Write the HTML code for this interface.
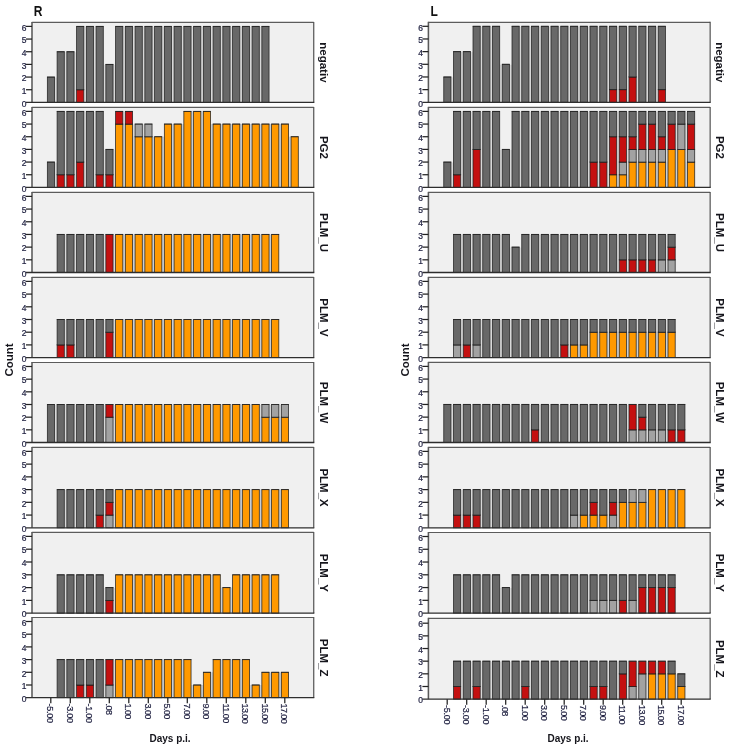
<!DOCTYPE html>
<html lang="en"><head><meta charset="utf-8"><title>Count by Days p.i.</title>
<style>
html,body{margin:0;padding:0;background:#fff;}
body{width:731px;height:750px;overflow:hidden;}
svg{display:block;font-family:"Liberation Sans",sans-serif;filter:blur(0.5px);}
.ttl{font-size:14px;font-weight:bold;fill:#111;}
.yt{font-size:9.4px;fill:#1f2040;stroke:#1f2040;stroke-width:0.25px;text-anchor:end;}
.xt{font-size:9px;fill:#1f2040;stroke:#1f2040;stroke-width:0.2px;text-anchor:start;letter-spacing:-0.55px;}
.fl{font-size:11.5px;font-weight:bold;fill:#15151c;text-anchor:middle;}
.xl{font-size:10px;font-weight:bold;fill:#15151c;}
</style></head><body>
<svg width="731" height="750" viewBox="0 0 731 750">
<rect width="731" height="750" fill="#ffffff"/>
<text transform="translate(33.8,15.5) scale(0.86,1)" class="ttl">R</text>
<g>
<rect x="32" y="22.4" width="281.75" height="80" fill="#F0F0F0"/>
<path d="M31.8 22.4H313.75" stroke="#5c5c5c" stroke-width="1.15" fill="none"/>
<path d="M313.75 21.9V102.4" stroke="#4c4c4c" stroke-width="1.15" fill="none"/>
<path d="M32 21.9V102.4" stroke="#5a5a5a" stroke-width="1.55" fill="none"/>
<rect x="54.65" y="77.57" width="2.35" height="24.83" fill="#a8a8a8" fill-opacity="0.33"/>
<rect x="47.35" y="77.07" width="7.2" height="25.33" fill="#686868" stroke="#1e1e1e" stroke-opacity="0.9" stroke-width="0.8"/>
<line x1="47.05" y1="77.07" x2="54.85" y2="77.07" stroke="#1e1e1e" stroke-width="0.7"/>
<rect x="64.4" y="52.23" width="2.35" height="50.17" fill="#a8a8a8" fill-opacity="0.33"/>
<rect x="57.1" y="51.73" width="7.2" height="50.67" fill="#686868" stroke="#1e1e1e" stroke-opacity="0.9" stroke-width="0.8"/>
<line x1="56.8" y1="51.73" x2="64.6" y2="51.73" stroke="#1e1e1e" stroke-width="0.7"/>
<rect x="74.15" y="52.23" width="2.35" height="50.17" fill="#a8a8a8" fill-opacity="0.33"/>
<rect x="66.85" y="51.73" width="7.2" height="50.67" fill="#686868" stroke="#1e1e1e" stroke-opacity="0.9" stroke-width="0.8"/>
<line x1="66.55" y1="51.73" x2="74.35" y2="51.73" stroke="#1e1e1e" stroke-width="0.7"/>
<rect x="83.9" y="26.9" width="2.35" height="75.5" fill="#a8a8a8" fill-opacity="0.33"/>
<rect x="76.6" y="89.73" width="7.2" height="12.67" fill="#C41010" stroke="#1e1e1e" stroke-opacity="0.9" stroke-width="0.8"/>
<line x1="76.3" y1="89.73" x2="84.1" y2="89.73" stroke="#1e1e1e" stroke-width="0.7"/>
<rect x="76.6" y="26.4" width="7.2" height="63.33" fill="#686868" stroke="#1e1e1e" stroke-opacity="0.9" stroke-width="0.8"/>
<line x1="76.3" y1="26.4" x2="84.1" y2="26.4" stroke="#1e1e1e" stroke-width="0.7"/>
<rect x="93.65" y="26.9" width="2.35" height="75.5" fill="#a8a8a8" fill-opacity="0.33"/>
<rect x="86.35" y="26.4" width="7.2" height="76" fill="#686868" stroke="#1e1e1e" stroke-opacity="0.9" stroke-width="0.8"/>
<line x1="86.05" y1="26.4" x2="93.85" y2="26.4" stroke="#1e1e1e" stroke-width="0.7"/>
<rect x="103.4" y="64.9" width="2.35" height="37.5" fill="#a8a8a8" fill-opacity="0.33"/>
<rect x="96.1" y="26.4" width="7.2" height="76" fill="#686868" stroke="#1e1e1e" stroke-opacity="0.9" stroke-width="0.8"/>
<line x1="95.8" y1="26.4" x2="103.6" y2="26.4" stroke="#1e1e1e" stroke-width="0.7"/>
<rect x="113.15" y="64.9" width="2.35" height="37.5" fill="#a8a8a8" fill-opacity="0.33"/>
<rect x="105.85" y="64.4" width="7.2" height="38" fill="#686868" stroke="#1e1e1e" stroke-opacity="0.9" stroke-width="0.8"/>
<line x1="105.55" y1="64.4" x2="113.35" y2="64.4" stroke="#1e1e1e" stroke-width="0.7"/>
<rect x="122.9" y="26.9" width="2.35" height="75.5" fill="#a8a8a8" fill-opacity="0.33"/>
<rect x="115.6" y="26.4" width="7.2" height="76" fill="#686868" stroke="#1e1e1e" stroke-opacity="0.9" stroke-width="0.8"/>
<line x1="115.3" y1="26.4" x2="123.1" y2="26.4" stroke="#1e1e1e" stroke-width="0.7"/>
<rect x="132.65" y="26.9" width="2.35" height="75.5" fill="#a8a8a8" fill-opacity="0.33"/>
<rect x="125.35" y="26.4" width="7.2" height="76" fill="#686868" stroke="#1e1e1e" stroke-opacity="0.9" stroke-width="0.8"/>
<line x1="125.05" y1="26.4" x2="132.85" y2="26.4" stroke="#1e1e1e" stroke-width="0.7"/>
<rect x="142.4" y="26.9" width="2.35" height="75.5" fill="#a8a8a8" fill-opacity="0.33"/>
<rect x="135.1" y="26.4" width="7.2" height="76" fill="#686868" stroke="#1e1e1e" stroke-opacity="0.9" stroke-width="0.8"/>
<line x1="134.8" y1="26.4" x2="142.6" y2="26.4" stroke="#1e1e1e" stroke-width="0.7"/>
<rect x="152.15" y="26.9" width="2.35" height="75.5" fill="#a8a8a8" fill-opacity="0.33"/>
<rect x="144.85" y="26.4" width="7.2" height="76" fill="#686868" stroke="#1e1e1e" stroke-opacity="0.9" stroke-width="0.8"/>
<line x1="144.55" y1="26.4" x2="152.35" y2="26.4" stroke="#1e1e1e" stroke-width="0.7"/>
<rect x="161.9" y="26.9" width="2.35" height="75.5" fill="#a8a8a8" fill-opacity="0.33"/>
<rect x="154.6" y="26.4" width="7.2" height="76" fill="#686868" stroke="#1e1e1e" stroke-opacity="0.9" stroke-width="0.8"/>
<line x1="154.3" y1="26.4" x2="162.1" y2="26.4" stroke="#1e1e1e" stroke-width="0.7"/>
<rect x="171.65" y="26.9" width="2.35" height="75.5" fill="#a8a8a8" fill-opacity="0.33"/>
<rect x="164.35" y="26.4" width="7.2" height="76" fill="#686868" stroke="#1e1e1e" stroke-opacity="0.9" stroke-width="0.8"/>
<line x1="164.05" y1="26.4" x2="171.85" y2="26.4" stroke="#1e1e1e" stroke-width="0.7"/>
<rect x="181.4" y="26.9" width="2.35" height="75.5" fill="#a8a8a8" fill-opacity="0.33"/>
<rect x="174.1" y="26.4" width="7.2" height="76" fill="#686868" stroke="#1e1e1e" stroke-opacity="0.9" stroke-width="0.8"/>
<line x1="173.8" y1="26.4" x2="181.6" y2="26.4" stroke="#1e1e1e" stroke-width="0.7"/>
<rect x="191.15" y="26.9" width="2.35" height="75.5" fill="#a8a8a8" fill-opacity="0.33"/>
<rect x="183.85" y="26.4" width="7.2" height="76" fill="#686868" stroke="#1e1e1e" stroke-opacity="0.9" stroke-width="0.8"/>
<line x1="183.55" y1="26.4" x2="191.35" y2="26.4" stroke="#1e1e1e" stroke-width="0.7"/>
<rect x="200.9" y="26.9" width="2.35" height="75.5" fill="#a8a8a8" fill-opacity="0.33"/>
<rect x="193.6" y="26.4" width="7.2" height="76" fill="#686868" stroke="#1e1e1e" stroke-opacity="0.9" stroke-width="0.8"/>
<line x1="193.3" y1="26.4" x2="201.1" y2="26.4" stroke="#1e1e1e" stroke-width="0.7"/>
<rect x="210.65" y="26.9" width="2.35" height="75.5" fill="#a8a8a8" fill-opacity="0.33"/>
<rect x="203.35" y="26.4" width="7.2" height="76" fill="#686868" stroke="#1e1e1e" stroke-opacity="0.9" stroke-width="0.8"/>
<line x1="203.05" y1="26.4" x2="210.85" y2="26.4" stroke="#1e1e1e" stroke-width="0.7"/>
<rect x="220.4" y="26.9" width="2.35" height="75.5" fill="#a8a8a8" fill-opacity="0.33"/>
<rect x="213.1" y="26.4" width="7.2" height="76" fill="#686868" stroke="#1e1e1e" stroke-opacity="0.9" stroke-width="0.8"/>
<line x1="212.8" y1="26.4" x2="220.6" y2="26.4" stroke="#1e1e1e" stroke-width="0.7"/>
<rect x="230.15" y="26.9" width="2.35" height="75.5" fill="#a8a8a8" fill-opacity="0.33"/>
<rect x="222.85" y="26.4" width="7.2" height="76" fill="#686868" stroke="#1e1e1e" stroke-opacity="0.9" stroke-width="0.8"/>
<line x1="222.55" y1="26.4" x2="230.35" y2="26.4" stroke="#1e1e1e" stroke-width="0.7"/>
<rect x="239.9" y="26.9" width="2.35" height="75.5" fill="#a8a8a8" fill-opacity="0.33"/>
<rect x="232.6" y="26.4" width="7.2" height="76" fill="#686868" stroke="#1e1e1e" stroke-opacity="0.9" stroke-width="0.8"/>
<line x1="232.3" y1="26.4" x2="240.1" y2="26.4" stroke="#1e1e1e" stroke-width="0.7"/>
<rect x="249.65" y="26.9" width="2.35" height="75.5" fill="#a8a8a8" fill-opacity="0.33"/>
<rect x="242.35" y="26.4" width="7.2" height="76" fill="#686868" stroke="#1e1e1e" stroke-opacity="0.9" stroke-width="0.8"/>
<line x1="242.05" y1="26.4" x2="249.85" y2="26.4" stroke="#1e1e1e" stroke-width="0.7"/>
<rect x="259.4" y="26.9" width="2.35" height="75.5" fill="#a8a8a8" fill-opacity="0.33"/>
<rect x="252.1" y="26.4" width="7.2" height="76" fill="#686868" stroke="#1e1e1e" stroke-opacity="0.9" stroke-width="0.8"/>
<line x1="251.8" y1="26.4" x2="259.6" y2="26.4" stroke="#1e1e1e" stroke-width="0.7"/>
<rect x="261.85" y="26.4" width="7.2" height="76" fill="#686868" stroke="#1e1e1e" stroke-opacity="0.9" stroke-width="0.8"/>
<line x1="261.55" y1="26.4" x2="269.35" y2="26.4" stroke="#1e1e1e" stroke-width="0.7"/>
<line x1="26" y1="102.4" x2="314.3" y2="102.4" stroke="#2e2e2e" stroke-width="1.3"/>
<text transform="translate(26.5,106.6) scale(0.9,1)" class="yt">0</text>
<line x1="26" y1="89.73" x2="32" y2="89.73" stroke="#222" stroke-width="1.25"/>
<text transform="translate(26.5,93.93) scale(0.9,1)" class="yt">1</text>
<line x1="26" y1="77.07" x2="32" y2="77.07" stroke="#222" stroke-width="1.25"/>
<text transform="translate(26.5,81.27) scale(0.9,1)" class="yt">2</text>
<line x1="26" y1="64.4" x2="32" y2="64.4" stroke="#222" stroke-width="1.25"/>
<text transform="translate(26.5,68.6) scale(0.9,1)" class="yt">3</text>
<line x1="26" y1="51.73" x2="32" y2="51.73" stroke="#222" stroke-width="1.25"/>
<text transform="translate(26.5,55.93) scale(0.9,1)" class="yt">4</text>
<line x1="26" y1="39.07" x2="32" y2="39.07" stroke="#222" stroke-width="1.25"/>
<text transform="translate(26.5,43.27) scale(0.9,1)" class="yt">5</text>
<line x1="26" y1="26.4" x2="32" y2="26.4" stroke="#222" stroke-width="1.25"/>
<text transform="translate(26.5,30.6) scale(0.9,1)" class="yt">6</text>
<text transform="translate(320.15,62.4) rotate(90)" class="fl">negativ</text>
</g>
<g>
<rect x="32" y="107.4" width="281.75" height="80" fill="#F0F0F0"/>
<path d="M31.8 107.4H313.75" stroke="#5c5c5c" stroke-width="1.15" fill="none"/>
<path d="M313.75 106.9V187.4" stroke="#4c4c4c" stroke-width="1.15" fill="none"/>
<path d="M32 106.9V187.4" stroke="#5a5a5a" stroke-width="1.55" fill="none"/>
<rect x="54.65" y="162.57" width="2.35" height="24.83" fill="#a8a8a8" fill-opacity="0.33"/>
<rect x="47.35" y="162.07" width="7.2" height="25.33" fill="#686868" stroke="#1e1e1e" stroke-opacity="0.9" stroke-width="0.8"/>
<line x1="47.05" y1="162.07" x2="54.85" y2="162.07" stroke="#1e1e1e" stroke-width="0.7"/>
<rect x="64.4" y="111.9" width="2.35" height="75.5" fill="#a8a8a8" fill-opacity="0.33"/>
<rect x="57.1" y="174.73" width="7.2" height="12.67" fill="#C41010" stroke="#1e1e1e" stroke-opacity="0.9" stroke-width="0.8"/>
<line x1="56.8" y1="174.73" x2="64.6" y2="174.73" stroke="#1e1e1e" stroke-width="0.7"/>
<rect x="57.1" y="111.4" width="7.2" height="63.33" fill="#686868" stroke="#1e1e1e" stroke-opacity="0.9" stroke-width="0.8"/>
<line x1="56.8" y1="111.4" x2="64.6" y2="111.4" stroke="#1e1e1e" stroke-width="0.7"/>
<rect x="74.15" y="111.9" width="2.35" height="75.5" fill="#a8a8a8" fill-opacity="0.33"/>
<rect x="66.85" y="174.73" width="7.2" height="12.67" fill="#C41010" stroke="#1e1e1e" stroke-opacity="0.9" stroke-width="0.8"/>
<line x1="66.55" y1="174.73" x2="74.35" y2="174.73" stroke="#1e1e1e" stroke-width="0.7"/>
<rect x="66.85" y="111.4" width="7.2" height="63.33" fill="#686868" stroke="#1e1e1e" stroke-opacity="0.9" stroke-width="0.8"/>
<line x1="66.55" y1="111.4" x2="74.35" y2="111.4" stroke="#1e1e1e" stroke-width="0.7"/>
<rect x="83.9" y="111.9" width="2.35" height="75.5" fill="#a8a8a8" fill-opacity="0.33"/>
<rect x="76.6" y="162.07" width="7.2" height="25.33" fill="#C41010" stroke="#1e1e1e" stroke-opacity="0.9" stroke-width="0.8"/>
<line x1="76.3" y1="162.07" x2="84.1" y2="162.07" stroke="#1e1e1e" stroke-width="0.7"/>
<rect x="76.6" y="111.4" width="7.2" height="50.67" fill="#686868" stroke="#1e1e1e" stroke-opacity="0.9" stroke-width="0.8"/>
<line x1="76.3" y1="111.4" x2="84.1" y2="111.4" stroke="#1e1e1e" stroke-width="0.7"/>
<rect x="93.65" y="111.9" width="2.35" height="75.5" fill="#a8a8a8" fill-opacity="0.33"/>
<rect x="86.35" y="111.4" width="7.2" height="76" fill="#686868" stroke="#1e1e1e" stroke-opacity="0.9" stroke-width="0.8"/>
<line x1="86.05" y1="111.4" x2="93.85" y2="111.4" stroke="#1e1e1e" stroke-width="0.7"/>
<rect x="103.4" y="149.9" width="2.35" height="37.5" fill="#a8a8a8" fill-opacity="0.33"/>
<rect x="96.1" y="174.73" width="7.2" height="12.67" fill="#C41010" stroke="#1e1e1e" stroke-opacity="0.9" stroke-width="0.8"/>
<line x1="95.8" y1="174.73" x2="103.6" y2="174.73" stroke="#1e1e1e" stroke-width="0.7"/>
<rect x="96.1" y="111.4" width="7.2" height="63.33" fill="#686868" stroke="#1e1e1e" stroke-opacity="0.9" stroke-width="0.8"/>
<line x1="95.8" y1="111.4" x2="103.6" y2="111.4" stroke="#1e1e1e" stroke-width="0.7"/>
<rect x="113.15" y="149.9" width="2.35" height="37.5" fill="#a8a8a8" fill-opacity="0.33"/>
<rect x="105.85" y="174.73" width="7.2" height="12.67" fill="#C41010" stroke="#1e1e1e" stroke-opacity="0.9" stroke-width="0.8"/>
<line x1="105.55" y1="174.73" x2="113.35" y2="174.73" stroke="#1e1e1e" stroke-width="0.7"/>
<rect x="105.85" y="149.4" width="7.2" height="25.33" fill="#686868" stroke="#1e1e1e" stroke-opacity="0.9" stroke-width="0.8"/>
<line x1="105.55" y1="149.4" x2="113.35" y2="149.4" stroke="#1e1e1e" stroke-width="0.7"/>
<rect x="122.9" y="124.07" width="2.35" height="63.33" fill="#9aa6b6" fill-opacity="0.45"/>
<rect x="122.9" y="111.9" width="2.35" height="12.17" fill="#a8a8a8" fill-opacity="0.33"/>
<rect x="115.6" y="124.07" width="7.2" height="63.33" fill="#FF9900" stroke="#1e1e1e" stroke-opacity="0.9" stroke-width="0.8"/>
<line x1="115.3" y1="124.07" x2="123.1" y2="124.07" stroke="#1e1e1e" stroke-width="0.7"/>
<rect x="115.6" y="111.4" width="7.2" height="12.67" fill="#C41010" stroke="#1e1e1e" stroke-opacity="0.9" stroke-width="0.8"/>
<line x1="115.3" y1="111.4" x2="123.1" y2="111.4" stroke="#1e1e1e" stroke-width="0.7"/>
<rect x="132.65" y="136.73" width="2.35" height="50.67" fill="#9aa6b6" fill-opacity="0.45"/>
<rect x="132.65" y="124.57" width="2.35" height="12.17" fill="#a8a8a8" fill-opacity="0.33"/>
<rect x="125.35" y="124.07" width="7.2" height="63.33" fill="#FF9900" stroke="#1e1e1e" stroke-opacity="0.9" stroke-width="0.8"/>
<line x1="125.05" y1="124.07" x2="132.85" y2="124.07" stroke="#1e1e1e" stroke-width="0.7"/>
<rect x="125.35" y="111.4" width="7.2" height="12.67" fill="#C41010" stroke="#1e1e1e" stroke-opacity="0.9" stroke-width="0.8"/>
<line x1="125.05" y1="111.4" x2="132.85" y2="111.4" stroke="#1e1e1e" stroke-width="0.7"/>
<rect x="142.4" y="136.73" width="2.35" height="50.67" fill="#9aa6b6" fill-opacity="0.45"/>
<rect x="142.4" y="124.57" width="2.35" height="12.17" fill="#a8a8a8" fill-opacity="0.33"/>
<rect x="135.1" y="136.73" width="7.2" height="50.67" fill="#FF9900" stroke="#1e1e1e" stroke-opacity="0.9" stroke-width="0.8"/>
<line x1="134.8" y1="136.73" x2="142.6" y2="136.73" stroke="#1e1e1e" stroke-width="0.7"/>
<rect x="135.1" y="124.07" width="7.2" height="12.67" fill="#A2A2A2" stroke="#1e1e1e" stroke-opacity="0.9" stroke-width="0.8"/>
<line x1="134.8" y1="124.07" x2="142.6" y2="124.07" stroke="#1e1e1e" stroke-width="0.7"/>
<rect x="152.15" y="136.73" width="2.35" height="50.67" fill="#9aa6b6" fill-opacity="0.45"/>
<rect x="144.85" y="136.73" width="7.2" height="50.67" fill="#FF9900" stroke="#1e1e1e" stroke-opacity="0.9" stroke-width="0.8"/>
<line x1="144.55" y1="136.73" x2="152.35" y2="136.73" stroke="#1e1e1e" stroke-width="0.7"/>
<rect x="144.85" y="124.07" width="7.2" height="12.67" fill="#A2A2A2" stroke="#1e1e1e" stroke-opacity="0.9" stroke-width="0.8"/>
<line x1="144.55" y1="124.07" x2="152.35" y2="124.07" stroke="#1e1e1e" stroke-width="0.7"/>
<rect x="161.9" y="136.73" width="2.35" height="50.67" fill="#9aa6b6" fill-opacity="0.45"/>
<rect x="154.6" y="136.73" width="7.2" height="50.67" fill="#FF9900" stroke="#1e1e1e" stroke-opacity="0.9" stroke-width="0.8"/>
<line x1="154.3" y1="136.73" x2="162.1" y2="136.73" stroke="#1e1e1e" stroke-width="0.7"/>
<rect x="171.65" y="124.07" width="2.35" height="63.33" fill="#9aa6b6" fill-opacity="0.45"/>
<rect x="164.35" y="124.07" width="7.2" height="63.33" fill="#FF9900" stroke="#1e1e1e" stroke-opacity="0.9" stroke-width="0.8"/>
<line x1="164.05" y1="124.07" x2="171.85" y2="124.07" stroke="#1e1e1e" stroke-width="0.7"/>
<rect x="181.4" y="124.07" width="2.35" height="63.33" fill="#9aa6b6" fill-opacity="0.45"/>
<rect x="174.1" y="124.07" width="7.2" height="63.33" fill="#FF9900" stroke="#1e1e1e" stroke-opacity="0.9" stroke-width="0.8"/>
<line x1="173.8" y1="124.07" x2="181.6" y2="124.07" stroke="#1e1e1e" stroke-width="0.7"/>
<rect x="191.15" y="111.4" width="2.35" height="76" fill="#9aa6b6" fill-opacity="0.45"/>
<rect x="183.85" y="111.4" width="7.2" height="76" fill="#FF9900" stroke="#1e1e1e" stroke-opacity="0.9" stroke-width="0.8"/>
<line x1="183.55" y1="111.4" x2="191.35" y2="111.4" stroke="#1e1e1e" stroke-width="0.7"/>
<rect x="200.9" y="111.4" width="2.35" height="76" fill="#9aa6b6" fill-opacity="0.45"/>
<rect x="193.6" y="111.4" width="7.2" height="76" fill="#FF9900" stroke="#1e1e1e" stroke-opacity="0.9" stroke-width="0.8"/>
<line x1="193.3" y1="111.4" x2="201.1" y2="111.4" stroke="#1e1e1e" stroke-width="0.7"/>
<rect x="210.65" y="124.07" width="2.35" height="63.33" fill="#9aa6b6" fill-opacity="0.45"/>
<rect x="203.35" y="111.4" width="7.2" height="76" fill="#FF9900" stroke="#1e1e1e" stroke-opacity="0.9" stroke-width="0.8"/>
<line x1="203.05" y1="111.4" x2="210.85" y2="111.4" stroke="#1e1e1e" stroke-width="0.7"/>
<rect x="220.4" y="124.07" width="2.35" height="63.33" fill="#9aa6b6" fill-opacity="0.45"/>
<rect x="213.1" y="124.07" width="7.2" height="63.33" fill="#FF9900" stroke="#1e1e1e" stroke-opacity="0.9" stroke-width="0.8"/>
<line x1="212.8" y1="124.07" x2="220.6" y2="124.07" stroke="#1e1e1e" stroke-width="0.7"/>
<rect x="230.15" y="124.07" width="2.35" height="63.33" fill="#9aa6b6" fill-opacity="0.45"/>
<rect x="222.85" y="124.07" width="7.2" height="63.33" fill="#FF9900" stroke="#1e1e1e" stroke-opacity="0.9" stroke-width="0.8"/>
<line x1="222.55" y1="124.07" x2="230.35" y2="124.07" stroke="#1e1e1e" stroke-width="0.7"/>
<rect x="239.9" y="124.07" width="2.35" height="63.33" fill="#9aa6b6" fill-opacity="0.45"/>
<rect x="232.6" y="124.07" width="7.2" height="63.33" fill="#FF9900" stroke="#1e1e1e" stroke-opacity="0.9" stroke-width="0.8"/>
<line x1="232.3" y1="124.07" x2="240.1" y2="124.07" stroke="#1e1e1e" stroke-width="0.7"/>
<rect x="249.65" y="124.07" width="2.35" height="63.33" fill="#9aa6b6" fill-opacity="0.45"/>
<rect x="242.35" y="124.07" width="7.2" height="63.33" fill="#FF9900" stroke="#1e1e1e" stroke-opacity="0.9" stroke-width="0.8"/>
<line x1="242.05" y1="124.07" x2="249.85" y2="124.07" stroke="#1e1e1e" stroke-width="0.7"/>
<rect x="259.4" y="124.07" width="2.35" height="63.33" fill="#9aa6b6" fill-opacity="0.45"/>
<rect x="252.1" y="124.07" width="7.2" height="63.33" fill="#FF9900" stroke="#1e1e1e" stroke-opacity="0.9" stroke-width="0.8"/>
<line x1="251.8" y1="124.07" x2="259.6" y2="124.07" stroke="#1e1e1e" stroke-width="0.7"/>
<rect x="269.15" y="124.07" width="2.35" height="63.33" fill="#9aa6b6" fill-opacity="0.45"/>
<rect x="261.85" y="124.07" width="7.2" height="63.33" fill="#FF9900" stroke="#1e1e1e" stroke-opacity="0.9" stroke-width="0.8"/>
<line x1="261.55" y1="124.07" x2="269.35" y2="124.07" stroke="#1e1e1e" stroke-width="0.7"/>
<rect x="278.9" y="124.07" width="2.35" height="63.33" fill="#9aa6b6" fill-opacity="0.45"/>
<rect x="271.6" y="124.07" width="7.2" height="63.33" fill="#FF9900" stroke="#1e1e1e" stroke-opacity="0.9" stroke-width="0.8"/>
<line x1="271.3" y1="124.07" x2="279.1" y2="124.07" stroke="#1e1e1e" stroke-width="0.7"/>
<rect x="288.65" y="136.73" width="2.35" height="50.67" fill="#9aa6b6" fill-opacity="0.45"/>
<rect x="281.35" y="124.07" width="7.2" height="63.33" fill="#FF9900" stroke="#1e1e1e" stroke-opacity="0.9" stroke-width="0.8"/>
<line x1="281.05" y1="124.07" x2="288.85" y2="124.07" stroke="#1e1e1e" stroke-width="0.7"/>
<rect x="291.1" y="136.73" width="7.2" height="50.67" fill="#FF9900" stroke="#1e1e1e" stroke-opacity="0.9" stroke-width="0.8"/>
<line x1="290.8" y1="136.73" x2="298.6" y2="136.73" stroke="#1e1e1e" stroke-width="0.7"/>
<line x1="26" y1="187.4" x2="314.3" y2="187.4" stroke="#2e2e2e" stroke-width="1.3"/>
<text transform="translate(26.5,191.6) scale(0.9,1)" class="yt">0</text>
<line x1="26" y1="174.73" x2="32" y2="174.73" stroke="#222" stroke-width="1.25"/>
<text transform="translate(26.5,178.93) scale(0.9,1)" class="yt">1</text>
<line x1="26" y1="162.07" x2="32" y2="162.07" stroke="#222" stroke-width="1.25"/>
<text transform="translate(26.5,166.27) scale(0.9,1)" class="yt">2</text>
<line x1="26" y1="149.4" x2="32" y2="149.4" stroke="#222" stroke-width="1.25"/>
<text transform="translate(26.5,153.6) scale(0.9,1)" class="yt">3</text>
<line x1="26" y1="136.73" x2="32" y2="136.73" stroke="#222" stroke-width="1.25"/>
<text transform="translate(26.5,140.93) scale(0.9,1)" class="yt">4</text>
<line x1="26" y1="124.07" x2="32" y2="124.07" stroke="#222" stroke-width="1.25"/>
<text transform="translate(26.5,128.27) scale(0.9,1)" class="yt">5</text>
<line x1="26" y1="111.4" x2="32" y2="111.4" stroke="#222" stroke-width="1.25"/>
<text transform="translate(26.5,115.6) scale(0.9,1)" class="yt">6</text>
<text transform="translate(320.15,147.4) rotate(90)" class="fl">PG2</text>
</g>
<g>
<rect x="32" y="192.4" width="281.75" height="80.1" fill="#F0F0F0"/>
<path d="M31.8 192.4H313.75" stroke="#5c5c5c" stroke-width="1.15" fill="none"/>
<path d="M313.75 191.9V272.5" stroke="#4c4c4c" stroke-width="1.15" fill="none"/>
<path d="M32 191.9V272.5" stroke="#5a5a5a" stroke-width="1.55" fill="none"/>
<rect x="64.4" y="234.95" width="2.35" height="37.55" fill="#a8a8a8" fill-opacity="0.33"/>
<rect x="57.1" y="234.45" width="7.2" height="38.05" fill="#686868" stroke="#1e1e1e" stroke-opacity="0.9" stroke-width="0.8"/>
<line x1="56.8" y1="234.45" x2="64.6" y2="234.45" stroke="#1e1e1e" stroke-width="0.7"/>
<rect x="74.15" y="234.95" width="2.35" height="37.55" fill="#a8a8a8" fill-opacity="0.33"/>
<rect x="66.85" y="234.45" width="7.2" height="38.05" fill="#686868" stroke="#1e1e1e" stroke-opacity="0.9" stroke-width="0.8"/>
<line x1="66.55" y1="234.45" x2="74.35" y2="234.45" stroke="#1e1e1e" stroke-width="0.7"/>
<rect x="83.9" y="234.95" width="2.35" height="37.55" fill="#a8a8a8" fill-opacity="0.33"/>
<rect x="76.6" y="234.45" width="7.2" height="38.05" fill="#686868" stroke="#1e1e1e" stroke-opacity="0.9" stroke-width="0.8"/>
<line x1="76.3" y1="234.45" x2="84.1" y2="234.45" stroke="#1e1e1e" stroke-width="0.7"/>
<rect x="93.65" y="234.95" width="2.35" height="37.55" fill="#a8a8a8" fill-opacity="0.33"/>
<rect x="86.35" y="234.45" width="7.2" height="38.05" fill="#686868" stroke="#1e1e1e" stroke-opacity="0.9" stroke-width="0.8"/>
<line x1="86.05" y1="234.45" x2="93.85" y2="234.45" stroke="#1e1e1e" stroke-width="0.7"/>
<rect x="103.4" y="234.95" width="2.35" height="37.55" fill="#a8a8a8" fill-opacity="0.33"/>
<rect x="96.1" y="234.45" width="7.2" height="38.05" fill="#686868" stroke="#1e1e1e" stroke-opacity="0.9" stroke-width="0.8"/>
<line x1="95.8" y1="234.45" x2="103.6" y2="234.45" stroke="#1e1e1e" stroke-width="0.7"/>
<rect x="113.15" y="234.95" width="2.35" height="37.55" fill="#a8a8a8" fill-opacity="0.33"/>
<rect x="105.85" y="234.45" width="7.2" height="38.05" fill="#C41010" stroke="#1e1e1e" stroke-opacity="0.9" stroke-width="0.8"/>
<line x1="105.55" y1="234.45" x2="113.35" y2="234.45" stroke="#1e1e1e" stroke-width="0.7"/>
<rect x="122.9" y="234.45" width="2.35" height="38.05" fill="#9aa6b6" fill-opacity="0.45"/>
<rect x="115.6" y="234.45" width="7.2" height="38.05" fill="#FF9900" stroke="#1e1e1e" stroke-opacity="0.9" stroke-width="0.8"/>
<line x1="115.3" y1="234.45" x2="123.1" y2="234.45" stroke="#1e1e1e" stroke-width="0.7"/>
<rect x="132.65" y="234.45" width="2.35" height="38.05" fill="#9aa6b6" fill-opacity="0.45"/>
<rect x="125.35" y="234.45" width="7.2" height="38.05" fill="#FF9900" stroke="#1e1e1e" stroke-opacity="0.9" stroke-width="0.8"/>
<line x1="125.05" y1="234.45" x2="132.85" y2="234.45" stroke="#1e1e1e" stroke-width="0.7"/>
<rect x="142.4" y="234.45" width="2.35" height="38.05" fill="#9aa6b6" fill-opacity="0.45"/>
<rect x="135.1" y="234.45" width="7.2" height="38.05" fill="#FF9900" stroke="#1e1e1e" stroke-opacity="0.9" stroke-width="0.8"/>
<line x1="134.8" y1="234.45" x2="142.6" y2="234.45" stroke="#1e1e1e" stroke-width="0.7"/>
<rect x="152.15" y="234.45" width="2.35" height="38.05" fill="#9aa6b6" fill-opacity="0.45"/>
<rect x="144.85" y="234.45" width="7.2" height="38.05" fill="#FF9900" stroke="#1e1e1e" stroke-opacity="0.9" stroke-width="0.8"/>
<line x1="144.55" y1="234.45" x2="152.35" y2="234.45" stroke="#1e1e1e" stroke-width="0.7"/>
<rect x="161.9" y="234.45" width="2.35" height="38.05" fill="#9aa6b6" fill-opacity="0.45"/>
<rect x="154.6" y="234.45" width="7.2" height="38.05" fill="#FF9900" stroke="#1e1e1e" stroke-opacity="0.9" stroke-width="0.8"/>
<line x1="154.3" y1="234.45" x2="162.1" y2="234.45" stroke="#1e1e1e" stroke-width="0.7"/>
<rect x="171.65" y="234.45" width="2.35" height="38.05" fill="#9aa6b6" fill-opacity="0.45"/>
<rect x="164.35" y="234.45" width="7.2" height="38.05" fill="#FF9900" stroke="#1e1e1e" stroke-opacity="0.9" stroke-width="0.8"/>
<line x1="164.05" y1="234.45" x2="171.85" y2="234.45" stroke="#1e1e1e" stroke-width="0.7"/>
<rect x="181.4" y="234.45" width="2.35" height="38.05" fill="#9aa6b6" fill-opacity="0.45"/>
<rect x="174.1" y="234.45" width="7.2" height="38.05" fill="#FF9900" stroke="#1e1e1e" stroke-opacity="0.9" stroke-width="0.8"/>
<line x1="173.8" y1="234.45" x2="181.6" y2="234.45" stroke="#1e1e1e" stroke-width="0.7"/>
<rect x="191.15" y="234.45" width="2.35" height="38.05" fill="#9aa6b6" fill-opacity="0.45"/>
<rect x="183.85" y="234.45" width="7.2" height="38.05" fill="#FF9900" stroke="#1e1e1e" stroke-opacity="0.9" stroke-width="0.8"/>
<line x1="183.55" y1="234.45" x2="191.35" y2="234.45" stroke="#1e1e1e" stroke-width="0.7"/>
<rect x="200.9" y="234.45" width="2.35" height="38.05" fill="#9aa6b6" fill-opacity="0.45"/>
<rect x="193.6" y="234.45" width="7.2" height="38.05" fill="#FF9900" stroke="#1e1e1e" stroke-opacity="0.9" stroke-width="0.8"/>
<line x1="193.3" y1="234.45" x2="201.1" y2="234.45" stroke="#1e1e1e" stroke-width="0.7"/>
<rect x="210.65" y="234.45" width="2.35" height="38.05" fill="#9aa6b6" fill-opacity="0.45"/>
<rect x="203.35" y="234.45" width="7.2" height="38.05" fill="#FF9900" stroke="#1e1e1e" stroke-opacity="0.9" stroke-width="0.8"/>
<line x1="203.05" y1="234.45" x2="210.85" y2="234.45" stroke="#1e1e1e" stroke-width="0.7"/>
<rect x="220.4" y="234.45" width="2.35" height="38.05" fill="#9aa6b6" fill-opacity="0.45"/>
<rect x="213.1" y="234.45" width="7.2" height="38.05" fill="#FF9900" stroke="#1e1e1e" stroke-opacity="0.9" stroke-width="0.8"/>
<line x1="212.8" y1="234.45" x2="220.6" y2="234.45" stroke="#1e1e1e" stroke-width="0.7"/>
<rect x="230.15" y="234.45" width="2.35" height="38.05" fill="#9aa6b6" fill-opacity="0.45"/>
<rect x="222.85" y="234.45" width="7.2" height="38.05" fill="#FF9900" stroke="#1e1e1e" stroke-opacity="0.9" stroke-width="0.8"/>
<line x1="222.55" y1="234.45" x2="230.35" y2="234.45" stroke="#1e1e1e" stroke-width="0.7"/>
<rect x="239.9" y="234.45" width="2.35" height="38.05" fill="#9aa6b6" fill-opacity="0.45"/>
<rect x="232.6" y="234.45" width="7.2" height="38.05" fill="#FF9900" stroke="#1e1e1e" stroke-opacity="0.9" stroke-width="0.8"/>
<line x1="232.3" y1="234.45" x2="240.1" y2="234.45" stroke="#1e1e1e" stroke-width="0.7"/>
<rect x="249.65" y="234.45" width="2.35" height="38.05" fill="#9aa6b6" fill-opacity="0.45"/>
<rect x="242.35" y="234.45" width="7.2" height="38.05" fill="#FF9900" stroke="#1e1e1e" stroke-opacity="0.9" stroke-width="0.8"/>
<line x1="242.05" y1="234.45" x2="249.85" y2="234.45" stroke="#1e1e1e" stroke-width="0.7"/>
<rect x="259.4" y="234.45" width="2.35" height="38.05" fill="#9aa6b6" fill-opacity="0.45"/>
<rect x="252.1" y="234.45" width="7.2" height="38.05" fill="#FF9900" stroke="#1e1e1e" stroke-opacity="0.9" stroke-width="0.8"/>
<line x1="251.8" y1="234.45" x2="259.6" y2="234.45" stroke="#1e1e1e" stroke-width="0.7"/>
<rect x="269.15" y="234.45" width="2.35" height="38.05" fill="#9aa6b6" fill-opacity="0.45"/>
<rect x="261.85" y="234.45" width="7.2" height="38.05" fill="#FF9900" stroke="#1e1e1e" stroke-opacity="0.9" stroke-width="0.8"/>
<line x1="261.55" y1="234.45" x2="269.35" y2="234.45" stroke="#1e1e1e" stroke-width="0.7"/>
<rect x="271.6" y="234.45" width="7.2" height="38.05" fill="#FF9900" stroke="#1e1e1e" stroke-opacity="0.9" stroke-width="0.8"/>
<line x1="271.3" y1="234.45" x2="279.1" y2="234.45" stroke="#1e1e1e" stroke-width="0.7"/>
<line x1="26" y1="272.5" x2="314.3" y2="272.5" stroke="#2e2e2e" stroke-width="1.3"/>
<text transform="translate(26.5,276.7) scale(0.9,1)" class="yt">0</text>
<line x1="26" y1="259.82" x2="32" y2="259.82" stroke="#222" stroke-width="1.25"/>
<text transform="translate(26.5,264.02) scale(0.9,1)" class="yt">1</text>
<line x1="26" y1="247.13" x2="32" y2="247.13" stroke="#222" stroke-width="1.25"/>
<text transform="translate(26.5,251.33) scale(0.9,1)" class="yt">2</text>
<line x1="26" y1="234.45" x2="32" y2="234.45" stroke="#222" stroke-width="1.25"/>
<text transform="translate(26.5,238.65) scale(0.9,1)" class="yt">3</text>
<line x1="26" y1="221.77" x2="32" y2="221.77" stroke="#222" stroke-width="1.25"/>
<text transform="translate(26.5,225.97) scale(0.9,1)" class="yt">4</text>
<line x1="26" y1="209.08" x2="32" y2="209.08" stroke="#222" stroke-width="1.25"/>
<text transform="translate(26.5,213.28) scale(0.9,1)" class="yt">5</text>
<line x1="26" y1="196.4" x2="32" y2="196.4" stroke="#222" stroke-width="1.25"/>
<text transform="translate(26.5,200.6) scale(0.9,1)" class="yt">6</text>
<text transform="translate(320.15,232.45) rotate(90)" class="fl">PLM_U</text>
</g>
<g>
<rect x="32" y="277.4" width="281.75" height="80.2" fill="#F0F0F0"/>
<path d="M31.8 277.4H313.75" stroke="#5c5c5c" stroke-width="1.15" fill="none"/>
<path d="M313.75 276.9V357.6" stroke="#4c4c4c" stroke-width="1.15" fill="none"/>
<path d="M32 276.9V357.6" stroke="#5a5a5a" stroke-width="1.55" fill="none"/>
<rect x="64.4" y="320" width="2.35" height="37.6" fill="#a8a8a8" fill-opacity="0.33"/>
<rect x="57.1" y="344.9" width="7.2" height="12.7" fill="#C41010" stroke="#1e1e1e" stroke-opacity="0.9" stroke-width="0.8"/>
<line x1="56.8" y1="344.9" x2="64.6" y2="344.9" stroke="#1e1e1e" stroke-width="0.7"/>
<rect x="57.1" y="319.5" width="7.2" height="25.4" fill="#686868" stroke="#1e1e1e" stroke-opacity="0.9" stroke-width="0.8"/>
<line x1="56.8" y1="319.5" x2="64.6" y2="319.5" stroke="#1e1e1e" stroke-width="0.7"/>
<rect x="74.15" y="320" width="2.35" height="37.6" fill="#a8a8a8" fill-opacity="0.33"/>
<rect x="66.85" y="344.9" width="7.2" height="12.7" fill="#C41010" stroke="#1e1e1e" stroke-opacity="0.9" stroke-width="0.8"/>
<line x1="66.55" y1="344.9" x2="74.35" y2="344.9" stroke="#1e1e1e" stroke-width="0.7"/>
<rect x="66.85" y="319.5" width="7.2" height="25.4" fill="#686868" stroke="#1e1e1e" stroke-opacity="0.9" stroke-width="0.8"/>
<line x1="66.55" y1="319.5" x2="74.35" y2="319.5" stroke="#1e1e1e" stroke-width="0.7"/>
<rect x="83.9" y="320" width="2.35" height="37.6" fill="#a8a8a8" fill-opacity="0.33"/>
<rect x="76.6" y="319.5" width="7.2" height="38.1" fill="#686868" stroke="#1e1e1e" stroke-opacity="0.9" stroke-width="0.8"/>
<line x1="76.3" y1="319.5" x2="84.1" y2="319.5" stroke="#1e1e1e" stroke-width="0.7"/>
<rect x="93.65" y="320" width="2.35" height="37.6" fill="#a8a8a8" fill-opacity="0.33"/>
<rect x="86.35" y="319.5" width="7.2" height="38.1" fill="#686868" stroke="#1e1e1e" stroke-opacity="0.9" stroke-width="0.8"/>
<line x1="86.05" y1="319.5" x2="93.85" y2="319.5" stroke="#1e1e1e" stroke-width="0.7"/>
<rect x="103.4" y="320" width="2.35" height="37.6" fill="#a8a8a8" fill-opacity="0.33"/>
<rect x="96.1" y="319.5" width="7.2" height="38.1" fill="#686868" stroke="#1e1e1e" stroke-opacity="0.9" stroke-width="0.8"/>
<line x1="95.8" y1="319.5" x2="103.6" y2="319.5" stroke="#1e1e1e" stroke-width="0.7"/>
<rect x="113.15" y="320" width="2.35" height="37.6" fill="#a8a8a8" fill-opacity="0.33"/>
<rect x="105.85" y="332.2" width="7.2" height="25.4" fill="#C41010" stroke="#1e1e1e" stroke-opacity="0.9" stroke-width="0.8"/>
<line x1="105.55" y1="332.2" x2="113.35" y2="332.2" stroke="#1e1e1e" stroke-width="0.7"/>
<rect x="105.85" y="319.5" width="7.2" height="12.7" fill="#686868" stroke="#1e1e1e" stroke-opacity="0.9" stroke-width="0.8"/>
<line x1="105.55" y1="319.5" x2="113.35" y2="319.5" stroke="#1e1e1e" stroke-width="0.7"/>
<rect x="122.9" y="319.5" width="2.35" height="38.1" fill="#9aa6b6" fill-opacity="0.45"/>
<rect x="115.6" y="319.5" width="7.2" height="38.1" fill="#FF9900" stroke="#1e1e1e" stroke-opacity="0.9" stroke-width="0.8"/>
<line x1="115.3" y1="319.5" x2="123.1" y2="319.5" stroke="#1e1e1e" stroke-width="0.7"/>
<rect x="132.65" y="319.5" width="2.35" height="38.1" fill="#9aa6b6" fill-opacity="0.45"/>
<rect x="125.35" y="319.5" width="7.2" height="38.1" fill="#FF9900" stroke="#1e1e1e" stroke-opacity="0.9" stroke-width="0.8"/>
<line x1="125.05" y1="319.5" x2="132.85" y2="319.5" stroke="#1e1e1e" stroke-width="0.7"/>
<rect x="142.4" y="319.5" width="2.35" height="38.1" fill="#9aa6b6" fill-opacity="0.45"/>
<rect x="135.1" y="319.5" width="7.2" height="38.1" fill="#FF9900" stroke="#1e1e1e" stroke-opacity="0.9" stroke-width="0.8"/>
<line x1="134.8" y1="319.5" x2="142.6" y2="319.5" stroke="#1e1e1e" stroke-width="0.7"/>
<rect x="152.15" y="319.5" width="2.35" height="38.1" fill="#9aa6b6" fill-opacity="0.45"/>
<rect x="144.85" y="319.5" width="7.2" height="38.1" fill="#FF9900" stroke="#1e1e1e" stroke-opacity="0.9" stroke-width="0.8"/>
<line x1="144.55" y1="319.5" x2="152.35" y2="319.5" stroke="#1e1e1e" stroke-width="0.7"/>
<rect x="161.9" y="319.5" width="2.35" height="38.1" fill="#9aa6b6" fill-opacity="0.45"/>
<rect x="154.6" y="319.5" width="7.2" height="38.1" fill="#FF9900" stroke="#1e1e1e" stroke-opacity="0.9" stroke-width="0.8"/>
<line x1="154.3" y1="319.5" x2="162.1" y2="319.5" stroke="#1e1e1e" stroke-width="0.7"/>
<rect x="171.65" y="319.5" width="2.35" height="38.1" fill="#9aa6b6" fill-opacity="0.45"/>
<rect x="164.35" y="319.5" width="7.2" height="38.1" fill="#FF9900" stroke="#1e1e1e" stroke-opacity="0.9" stroke-width="0.8"/>
<line x1="164.05" y1="319.5" x2="171.85" y2="319.5" stroke="#1e1e1e" stroke-width="0.7"/>
<rect x="181.4" y="319.5" width="2.35" height="38.1" fill="#9aa6b6" fill-opacity="0.45"/>
<rect x="174.1" y="319.5" width="7.2" height="38.1" fill="#FF9900" stroke="#1e1e1e" stroke-opacity="0.9" stroke-width="0.8"/>
<line x1="173.8" y1="319.5" x2="181.6" y2="319.5" stroke="#1e1e1e" stroke-width="0.7"/>
<rect x="191.15" y="319.5" width="2.35" height="38.1" fill="#9aa6b6" fill-opacity="0.45"/>
<rect x="183.85" y="319.5" width="7.2" height="38.1" fill="#FF9900" stroke="#1e1e1e" stroke-opacity="0.9" stroke-width="0.8"/>
<line x1="183.55" y1="319.5" x2="191.35" y2="319.5" stroke="#1e1e1e" stroke-width="0.7"/>
<rect x="200.9" y="319.5" width="2.35" height="38.1" fill="#9aa6b6" fill-opacity="0.45"/>
<rect x="193.6" y="319.5" width="7.2" height="38.1" fill="#FF9900" stroke="#1e1e1e" stroke-opacity="0.9" stroke-width="0.8"/>
<line x1="193.3" y1="319.5" x2="201.1" y2="319.5" stroke="#1e1e1e" stroke-width="0.7"/>
<rect x="210.65" y="319.5" width="2.35" height="38.1" fill="#9aa6b6" fill-opacity="0.45"/>
<rect x="203.35" y="319.5" width="7.2" height="38.1" fill="#FF9900" stroke="#1e1e1e" stroke-opacity="0.9" stroke-width="0.8"/>
<line x1="203.05" y1="319.5" x2="210.85" y2="319.5" stroke="#1e1e1e" stroke-width="0.7"/>
<rect x="220.4" y="319.5" width="2.35" height="38.1" fill="#9aa6b6" fill-opacity="0.45"/>
<rect x="213.1" y="319.5" width="7.2" height="38.1" fill="#FF9900" stroke="#1e1e1e" stroke-opacity="0.9" stroke-width="0.8"/>
<line x1="212.8" y1="319.5" x2="220.6" y2="319.5" stroke="#1e1e1e" stroke-width="0.7"/>
<rect x="230.15" y="319.5" width="2.35" height="38.1" fill="#9aa6b6" fill-opacity="0.45"/>
<rect x="222.85" y="319.5" width="7.2" height="38.1" fill="#FF9900" stroke="#1e1e1e" stroke-opacity="0.9" stroke-width="0.8"/>
<line x1="222.55" y1="319.5" x2="230.35" y2="319.5" stroke="#1e1e1e" stroke-width="0.7"/>
<rect x="239.9" y="319.5" width="2.35" height="38.1" fill="#9aa6b6" fill-opacity="0.45"/>
<rect x="232.6" y="319.5" width="7.2" height="38.1" fill="#FF9900" stroke="#1e1e1e" stroke-opacity="0.9" stroke-width="0.8"/>
<line x1="232.3" y1="319.5" x2="240.1" y2="319.5" stroke="#1e1e1e" stroke-width="0.7"/>
<rect x="249.65" y="319.5" width="2.35" height="38.1" fill="#9aa6b6" fill-opacity="0.45"/>
<rect x="242.35" y="319.5" width="7.2" height="38.1" fill="#FF9900" stroke="#1e1e1e" stroke-opacity="0.9" stroke-width="0.8"/>
<line x1="242.05" y1="319.5" x2="249.85" y2="319.5" stroke="#1e1e1e" stroke-width="0.7"/>
<rect x="259.4" y="319.5" width="2.35" height="38.1" fill="#9aa6b6" fill-opacity="0.45"/>
<rect x="252.1" y="319.5" width="7.2" height="38.1" fill="#FF9900" stroke="#1e1e1e" stroke-opacity="0.9" stroke-width="0.8"/>
<line x1="251.8" y1="319.5" x2="259.6" y2="319.5" stroke="#1e1e1e" stroke-width="0.7"/>
<rect x="269.15" y="319.5" width="2.35" height="38.1" fill="#9aa6b6" fill-opacity="0.45"/>
<rect x="261.85" y="319.5" width="7.2" height="38.1" fill="#FF9900" stroke="#1e1e1e" stroke-opacity="0.9" stroke-width="0.8"/>
<line x1="261.55" y1="319.5" x2="269.35" y2="319.5" stroke="#1e1e1e" stroke-width="0.7"/>
<rect x="271.6" y="319.5" width="7.2" height="38.1" fill="#FF9900" stroke="#1e1e1e" stroke-opacity="0.9" stroke-width="0.8"/>
<line x1="271.3" y1="319.5" x2="279.1" y2="319.5" stroke="#1e1e1e" stroke-width="0.7"/>
<line x1="26" y1="357.6" x2="314.3" y2="357.6" stroke="#2e2e2e" stroke-width="1.3"/>
<text transform="translate(26.5,361.8) scale(0.9,1)" class="yt">0</text>
<line x1="26" y1="344.9" x2="32" y2="344.9" stroke="#222" stroke-width="1.25"/>
<text transform="translate(26.5,349.1) scale(0.9,1)" class="yt">1</text>
<line x1="26" y1="332.2" x2="32" y2="332.2" stroke="#222" stroke-width="1.25"/>
<text transform="translate(26.5,336.4) scale(0.9,1)" class="yt">2</text>
<line x1="26" y1="319.5" x2="32" y2="319.5" stroke="#222" stroke-width="1.25"/>
<text transform="translate(26.5,323.7) scale(0.9,1)" class="yt">3</text>
<line x1="26" y1="306.8" x2="32" y2="306.8" stroke="#222" stroke-width="1.25"/>
<text transform="translate(26.5,311) scale(0.9,1)" class="yt">4</text>
<line x1="26" y1="294.1" x2="32" y2="294.1" stroke="#222" stroke-width="1.25"/>
<text transform="translate(26.5,298.3) scale(0.9,1)" class="yt">5</text>
<line x1="26" y1="281.4" x2="32" y2="281.4" stroke="#222" stroke-width="1.25"/>
<text transform="translate(26.5,285.6) scale(0.9,1)" class="yt">6</text>
<text transform="translate(320.15,317.5) rotate(90)" class="fl">PLM_V</text>
</g>
<g>
<rect x="32" y="362.5" width="281.75" height="80" fill="#F0F0F0"/>
<path d="M31.8 362.5H313.75" stroke="#5c5c5c" stroke-width="1.15" fill="none"/>
<path d="M313.75 362V442.5" stroke="#4c4c4c" stroke-width="1.15" fill="none"/>
<path d="M32 362V442.5" stroke="#5a5a5a" stroke-width="1.55" fill="none"/>
<rect x="54.65" y="405" width="2.35" height="37.5" fill="#a8a8a8" fill-opacity="0.33"/>
<rect x="47.35" y="404.5" width="7.2" height="38" fill="#686868" stroke="#1e1e1e" stroke-opacity="0.9" stroke-width="0.8"/>
<line x1="47.05" y1="404.5" x2="54.85" y2="404.5" stroke="#1e1e1e" stroke-width="0.7"/>
<rect x="64.4" y="405" width="2.35" height="37.5" fill="#a8a8a8" fill-opacity="0.33"/>
<rect x="57.1" y="404.5" width="7.2" height="38" fill="#686868" stroke="#1e1e1e" stroke-opacity="0.9" stroke-width="0.8"/>
<line x1="56.8" y1="404.5" x2="64.6" y2="404.5" stroke="#1e1e1e" stroke-width="0.7"/>
<rect x="74.15" y="405" width="2.35" height="37.5" fill="#a8a8a8" fill-opacity="0.33"/>
<rect x="66.85" y="404.5" width="7.2" height="38" fill="#686868" stroke="#1e1e1e" stroke-opacity="0.9" stroke-width="0.8"/>
<line x1="66.55" y1="404.5" x2="74.35" y2="404.5" stroke="#1e1e1e" stroke-width="0.7"/>
<rect x="83.9" y="405" width="2.35" height="37.5" fill="#a8a8a8" fill-opacity="0.33"/>
<rect x="76.6" y="404.5" width="7.2" height="38" fill="#686868" stroke="#1e1e1e" stroke-opacity="0.9" stroke-width="0.8"/>
<line x1="76.3" y1="404.5" x2="84.1" y2="404.5" stroke="#1e1e1e" stroke-width="0.7"/>
<rect x="93.65" y="405" width="2.35" height="37.5" fill="#a8a8a8" fill-opacity="0.33"/>
<rect x="86.35" y="404.5" width="7.2" height="38" fill="#686868" stroke="#1e1e1e" stroke-opacity="0.9" stroke-width="0.8"/>
<line x1="86.05" y1="404.5" x2="93.85" y2="404.5" stroke="#1e1e1e" stroke-width="0.7"/>
<rect x="103.4" y="405" width="2.35" height="37.5" fill="#a8a8a8" fill-opacity="0.33"/>
<rect x="96.1" y="404.5" width="7.2" height="38" fill="#686868" stroke="#1e1e1e" stroke-opacity="0.9" stroke-width="0.8"/>
<line x1="95.8" y1="404.5" x2="103.6" y2="404.5" stroke="#1e1e1e" stroke-width="0.7"/>
<rect x="113.15" y="405" width="2.35" height="37.5" fill="#a8a8a8" fill-opacity="0.33"/>
<rect x="105.85" y="417.17" width="7.2" height="25.33" fill="#A2A2A2" stroke="#1e1e1e" stroke-opacity="0.9" stroke-width="0.8"/>
<line x1="105.55" y1="417.17" x2="113.35" y2="417.17" stroke="#1e1e1e" stroke-width="0.7"/>
<rect x="105.85" y="404.5" width="7.2" height="12.67" fill="#C41010" stroke="#1e1e1e" stroke-opacity="0.9" stroke-width="0.8"/>
<line x1="105.55" y1="404.5" x2="113.35" y2="404.5" stroke="#1e1e1e" stroke-width="0.7"/>
<rect x="122.9" y="404.5" width="2.35" height="38" fill="#9aa6b6" fill-opacity="0.45"/>
<rect x="115.6" y="404.5" width="7.2" height="38" fill="#FF9900" stroke="#1e1e1e" stroke-opacity="0.9" stroke-width="0.8"/>
<line x1="115.3" y1="404.5" x2="123.1" y2="404.5" stroke="#1e1e1e" stroke-width="0.7"/>
<rect x="132.65" y="404.5" width="2.35" height="38" fill="#9aa6b6" fill-opacity="0.45"/>
<rect x="125.35" y="404.5" width="7.2" height="38" fill="#FF9900" stroke="#1e1e1e" stroke-opacity="0.9" stroke-width="0.8"/>
<line x1="125.05" y1="404.5" x2="132.85" y2="404.5" stroke="#1e1e1e" stroke-width="0.7"/>
<rect x="142.4" y="404.5" width="2.35" height="38" fill="#9aa6b6" fill-opacity="0.45"/>
<rect x="135.1" y="404.5" width="7.2" height="38" fill="#FF9900" stroke="#1e1e1e" stroke-opacity="0.9" stroke-width="0.8"/>
<line x1="134.8" y1="404.5" x2="142.6" y2="404.5" stroke="#1e1e1e" stroke-width="0.7"/>
<rect x="152.15" y="404.5" width="2.35" height="38" fill="#9aa6b6" fill-opacity="0.45"/>
<rect x="144.85" y="404.5" width="7.2" height="38" fill="#FF9900" stroke="#1e1e1e" stroke-opacity="0.9" stroke-width="0.8"/>
<line x1="144.55" y1="404.5" x2="152.35" y2="404.5" stroke="#1e1e1e" stroke-width="0.7"/>
<rect x="161.9" y="404.5" width="2.35" height="38" fill="#9aa6b6" fill-opacity="0.45"/>
<rect x="154.6" y="404.5" width="7.2" height="38" fill="#FF9900" stroke="#1e1e1e" stroke-opacity="0.9" stroke-width="0.8"/>
<line x1="154.3" y1="404.5" x2="162.1" y2="404.5" stroke="#1e1e1e" stroke-width="0.7"/>
<rect x="171.65" y="404.5" width="2.35" height="38" fill="#9aa6b6" fill-opacity="0.45"/>
<rect x="164.35" y="404.5" width="7.2" height="38" fill="#FF9900" stroke="#1e1e1e" stroke-opacity="0.9" stroke-width="0.8"/>
<line x1="164.05" y1="404.5" x2="171.85" y2="404.5" stroke="#1e1e1e" stroke-width="0.7"/>
<rect x="181.4" y="404.5" width="2.35" height="38" fill="#9aa6b6" fill-opacity="0.45"/>
<rect x="174.1" y="404.5" width="7.2" height="38" fill="#FF9900" stroke="#1e1e1e" stroke-opacity="0.9" stroke-width="0.8"/>
<line x1="173.8" y1="404.5" x2="181.6" y2="404.5" stroke="#1e1e1e" stroke-width="0.7"/>
<rect x="191.15" y="404.5" width="2.35" height="38" fill="#9aa6b6" fill-opacity="0.45"/>
<rect x="183.85" y="404.5" width="7.2" height="38" fill="#FF9900" stroke="#1e1e1e" stroke-opacity="0.9" stroke-width="0.8"/>
<line x1="183.55" y1="404.5" x2="191.35" y2="404.5" stroke="#1e1e1e" stroke-width="0.7"/>
<rect x="200.9" y="404.5" width="2.35" height="38" fill="#9aa6b6" fill-opacity="0.45"/>
<rect x="193.6" y="404.5" width="7.2" height="38" fill="#FF9900" stroke="#1e1e1e" stroke-opacity="0.9" stroke-width="0.8"/>
<line x1="193.3" y1="404.5" x2="201.1" y2="404.5" stroke="#1e1e1e" stroke-width="0.7"/>
<rect x="210.65" y="404.5" width="2.35" height="38" fill="#9aa6b6" fill-opacity="0.45"/>
<rect x="203.35" y="404.5" width="7.2" height="38" fill="#FF9900" stroke="#1e1e1e" stroke-opacity="0.9" stroke-width="0.8"/>
<line x1="203.05" y1="404.5" x2="210.85" y2="404.5" stroke="#1e1e1e" stroke-width="0.7"/>
<rect x="220.4" y="404.5" width="2.35" height="38" fill="#9aa6b6" fill-opacity="0.45"/>
<rect x="213.1" y="404.5" width="7.2" height="38" fill="#FF9900" stroke="#1e1e1e" stroke-opacity="0.9" stroke-width="0.8"/>
<line x1="212.8" y1="404.5" x2="220.6" y2="404.5" stroke="#1e1e1e" stroke-width="0.7"/>
<rect x="230.15" y="404.5" width="2.35" height="38" fill="#9aa6b6" fill-opacity="0.45"/>
<rect x="222.85" y="404.5" width="7.2" height="38" fill="#FF9900" stroke="#1e1e1e" stroke-opacity="0.9" stroke-width="0.8"/>
<line x1="222.55" y1="404.5" x2="230.35" y2="404.5" stroke="#1e1e1e" stroke-width="0.7"/>
<rect x="239.9" y="404.5" width="2.35" height="38" fill="#9aa6b6" fill-opacity="0.45"/>
<rect x="232.6" y="404.5" width="7.2" height="38" fill="#FF9900" stroke="#1e1e1e" stroke-opacity="0.9" stroke-width="0.8"/>
<line x1="232.3" y1="404.5" x2="240.1" y2="404.5" stroke="#1e1e1e" stroke-width="0.7"/>
<rect x="249.65" y="404.5" width="2.35" height="38" fill="#9aa6b6" fill-opacity="0.45"/>
<rect x="242.35" y="404.5" width="7.2" height="38" fill="#FF9900" stroke="#1e1e1e" stroke-opacity="0.9" stroke-width="0.8"/>
<line x1="242.05" y1="404.5" x2="249.85" y2="404.5" stroke="#1e1e1e" stroke-width="0.7"/>
<rect x="259.4" y="417.17" width="2.35" height="25.33" fill="#9aa6b6" fill-opacity="0.45"/>
<rect x="259.4" y="405" width="2.35" height="12.17" fill="#a8a8a8" fill-opacity="0.33"/>
<rect x="252.1" y="404.5" width="7.2" height="38" fill="#FF9900" stroke="#1e1e1e" stroke-opacity="0.9" stroke-width="0.8"/>
<line x1="251.8" y1="404.5" x2="259.6" y2="404.5" stroke="#1e1e1e" stroke-width="0.7"/>
<rect x="269.15" y="417.17" width="2.35" height="25.33" fill="#9aa6b6" fill-opacity="0.45"/>
<rect x="269.15" y="405" width="2.35" height="12.17" fill="#a8a8a8" fill-opacity="0.33"/>
<rect x="261.85" y="417.17" width="7.2" height="25.33" fill="#FF9900" stroke="#1e1e1e" stroke-opacity="0.9" stroke-width="0.8"/>
<line x1="261.55" y1="417.17" x2="269.35" y2="417.17" stroke="#1e1e1e" stroke-width="0.7"/>
<rect x="261.85" y="404.5" width="7.2" height="12.67" fill="#A2A2A2" stroke="#1e1e1e" stroke-opacity="0.9" stroke-width="0.8"/>
<line x1="261.55" y1="404.5" x2="269.35" y2="404.5" stroke="#1e1e1e" stroke-width="0.7"/>
<rect x="278.9" y="417.17" width="2.35" height="25.33" fill="#9aa6b6" fill-opacity="0.45"/>
<rect x="278.9" y="405" width="2.35" height="12.17" fill="#a8a8a8" fill-opacity="0.33"/>
<rect x="271.6" y="417.17" width="7.2" height="25.33" fill="#FF9900" stroke="#1e1e1e" stroke-opacity="0.9" stroke-width="0.8"/>
<line x1="271.3" y1="417.17" x2="279.1" y2="417.17" stroke="#1e1e1e" stroke-width="0.7"/>
<rect x="271.6" y="404.5" width="7.2" height="12.67" fill="#A2A2A2" stroke="#1e1e1e" stroke-opacity="0.9" stroke-width="0.8"/>
<line x1="271.3" y1="404.5" x2="279.1" y2="404.5" stroke="#1e1e1e" stroke-width="0.7"/>
<rect x="281.35" y="417.17" width="7.2" height="25.33" fill="#FF9900" stroke="#1e1e1e" stroke-opacity="0.9" stroke-width="0.8"/>
<line x1="281.05" y1="417.17" x2="288.85" y2="417.17" stroke="#1e1e1e" stroke-width="0.7"/>
<rect x="281.35" y="404.5" width="7.2" height="12.67" fill="#A2A2A2" stroke="#1e1e1e" stroke-opacity="0.9" stroke-width="0.8"/>
<line x1="281.05" y1="404.5" x2="288.85" y2="404.5" stroke="#1e1e1e" stroke-width="0.7"/>
<line x1="26" y1="442.5" x2="314.3" y2="442.5" stroke="#2e2e2e" stroke-width="1.3"/>
<text transform="translate(26.5,446.7) scale(0.9,1)" class="yt">0</text>
<line x1="26" y1="429.83" x2="32" y2="429.83" stroke="#222" stroke-width="1.25"/>
<text transform="translate(26.5,434.03) scale(0.9,1)" class="yt">1</text>
<line x1="26" y1="417.17" x2="32" y2="417.17" stroke="#222" stroke-width="1.25"/>
<text transform="translate(26.5,421.37) scale(0.9,1)" class="yt">2</text>
<line x1="26" y1="404.5" x2="32" y2="404.5" stroke="#222" stroke-width="1.25"/>
<text transform="translate(26.5,408.7) scale(0.9,1)" class="yt">3</text>
<line x1="26" y1="391.83" x2="32" y2="391.83" stroke="#222" stroke-width="1.25"/>
<text transform="translate(26.5,396.03) scale(0.9,1)" class="yt">4</text>
<line x1="26" y1="379.17" x2="32" y2="379.17" stroke="#222" stroke-width="1.25"/>
<text transform="translate(26.5,383.37) scale(0.9,1)" class="yt">5</text>
<line x1="26" y1="366.5" x2="32" y2="366.5" stroke="#222" stroke-width="1.25"/>
<text transform="translate(26.5,370.7) scale(0.9,1)" class="yt">6</text>
<text transform="translate(320.15,402.5) rotate(90)" class="fl">PLM_W</text>
</g>
<g>
<rect x="32" y="447.4" width="281.75" height="80.4" fill="#F0F0F0"/>
<path d="M31.8 447.4H313.75" stroke="#5c5c5c" stroke-width="1.15" fill="none"/>
<path d="M313.75 446.9V527.8" stroke="#4c4c4c" stroke-width="1.15" fill="none"/>
<path d="M32 446.9V527.8" stroke="#5a5a5a" stroke-width="1.55" fill="none"/>
<rect x="64.4" y="490.1" width="2.35" height="37.7" fill="#a8a8a8" fill-opacity="0.33"/>
<rect x="57.1" y="489.6" width="7.2" height="38.2" fill="#686868" stroke="#1e1e1e" stroke-opacity="0.9" stroke-width="0.8"/>
<line x1="56.8" y1="489.6" x2="64.6" y2="489.6" stroke="#1e1e1e" stroke-width="0.7"/>
<rect x="74.15" y="490.1" width="2.35" height="37.7" fill="#a8a8a8" fill-opacity="0.33"/>
<rect x="66.85" y="489.6" width="7.2" height="38.2" fill="#686868" stroke="#1e1e1e" stroke-opacity="0.9" stroke-width="0.8"/>
<line x1="66.55" y1="489.6" x2="74.35" y2="489.6" stroke="#1e1e1e" stroke-width="0.7"/>
<rect x="83.9" y="490.1" width="2.35" height="37.7" fill="#a8a8a8" fill-opacity="0.33"/>
<rect x="76.6" y="489.6" width="7.2" height="38.2" fill="#686868" stroke="#1e1e1e" stroke-opacity="0.9" stroke-width="0.8"/>
<line x1="76.3" y1="489.6" x2="84.1" y2="489.6" stroke="#1e1e1e" stroke-width="0.7"/>
<rect x="93.65" y="490.1" width="2.35" height="37.7" fill="#a8a8a8" fill-opacity="0.33"/>
<rect x="86.35" y="489.6" width="7.2" height="38.2" fill="#686868" stroke="#1e1e1e" stroke-opacity="0.9" stroke-width="0.8"/>
<line x1="86.05" y1="489.6" x2="93.85" y2="489.6" stroke="#1e1e1e" stroke-width="0.7"/>
<rect x="103.4" y="490.1" width="2.35" height="37.7" fill="#a8a8a8" fill-opacity="0.33"/>
<rect x="96.1" y="515.07" width="7.2" height="12.73" fill="#C41010" stroke="#1e1e1e" stroke-opacity="0.9" stroke-width="0.8"/>
<line x1="95.8" y1="515.07" x2="103.6" y2="515.07" stroke="#1e1e1e" stroke-width="0.7"/>
<rect x="96.1" y="489.6" width="7.2" height="25.47" fill="#686868" stroke="#1e1e1e" stroke-opacity="0.9" stroke-width="0.8"/>
<line x1="95.8" y1="489.6" x2="103.6" y2="489.6" stroke="#1e1e1e" stroke-width="0.7"/>
<rect x="113.15" y="490.1" width="2.35" height="37.7" fill="#a8a8a8" fill-opacity="0.33"/>
<rect x="105.85" y="515.07" width="7.2" height="12.73" fill="#A2A2A2" stroke="#1e1e1e" stroke-opacity="0.9" stroke-width="0.8"/>
<line x1="105.55" y1="515.07" x2="113.35" y2="515.07" stroke="#1e1e1e" stroke-width="0.7"/>
<rect x="105.85" y="502.33" width="7.2" height="12.73" fill="#C41010" stroke="#1e1e1e" stroke-opacity="0.9" stroke-width="0.8"/>
<line x1="105.55" y1="502.33" x2="113.35" y2="502.33" stroke="#1e1e1e" stroke-width="0.7"/>
<rect x="105.85" y="489.6" width="7.2" height="12.73" fill="#686868" stroke="#1e1e1e" stroke-opacity="0.9" stroke-width="0.8"/>
<line x1="105.55" y1="489.6" x2="113.35" y2="489.6" stroke="#1e1e1e" stroke-width="0.7"/>
<rect x="122.9" y="489.6" width="2.35" height="38.2" fill="#9aa6b6" fill-opacity="0.45"/>
<rect x="115.6" y="489.6" width="7.2" height="38.2" fill="#FF9900" stroke="#1e1e1e" stroke-opacity="0.9" stroke-width="0.8"/>
<line x1="115.3" y1="489.6" x2="123.1" y2="489.6" stroke="#1e1e1e" stroke-width="0.7"/>
<rect x="132.65" y="489.6" width="2.35" height="38.2" fill="#9aa6b6" fill-opacity="0.45"/>
<rect x="125.35" y="489.6" width="7.2" height="38.2" fill="#FF9900" stroke="#1e1e1e" stroke-opacity="0.9" stroke-width="0.8"/>
<line x1="125.05" y1="489.6" x2="132.85" y2="489.6" stroke="#1e1e1e" stroke-width="0.7"/>
<rect x="142.4" y="489.6" width="2.35" height="38.2" fill="#9aa6b6" fill-opacity="0.45"/>
<rect x="135.1" y="489.6" width="7.2" height="38.2" fill="#FF9900" stroke="#1e1e1e" stroke-opacity="0.9" stroke-width="0.8"/>
<line x1="134.8" y1="489.6" x2="142.6" y2="489.6" stroke="#1e1e1e" stroke-width="0.7"/>
<rect x="152.15" y="489.6" width="2.35" height="38.2" fill="#9aa6b6" fill-opacity="0.45"/>
<rect x="144.85" y="489.6" width="7.2" height="38.2" fill="#FF9900" stroke="#1e1e1e" stroke-opacity="0.9" stroke-width="0.8"/>
<line x1="144.55" y1="489.6" x2="152.35" y2="489.6" stroke="#1e1e1e" stroke-width="0.7"/>
<rect x="161.9" y="489.6" width="2.35" height="38.2" fill="#9aa6b6" fill-opacity="0.45"/>
<rect x="154.6" y="489.6" width="7.2" height="38.2" fill="#FF9900" stroke="#1e1e1e" stroke-opacity="0.9" stroke-width="0.8"/>
<line x1="154.3" y1="489.6" x2="162.1" y2="489.6" stroke="#1e1e1e" stroke-width="0.7"/>
<rect x="171.65" y="489.6" width="2.35" height="38.2" fill="#9aa6b6" fill-opacity="0.45"/>
<rect x="164.35" y="489.6" width="7.2" height="38.2" fill="#FF9900" stroke="#1e1e1e" stroke-opacity="0.9" stroke-width="0.8"/>
<line x1="164.05" y1="489.6" x2="171.85" y2="489.6" stroke="#1e1e1e" stroke-width="0.7"/>
<rect x="181.4" y="489.6" width="2.35" height="38.2" fill="#9aa6b6" fill-opacity="0.45"/>
<rect x="174.1" y="489.6" width="7.2" height="38.2" fill="#FF9900" stroke="#1e1e1e" stroke-opacity="0.9" stroke-width="0.8"/>
<line x1="173.8" y1="489.6" x2="181.6" y2="489.6" stroke="#1e1e1e" stroke-width="0.7"/>
<rect x="191.15" y="489.6" width="2.35" height="38.2" fill="#9aa6b6" fill-opacity="0.45"/>
<rect x="183.85" y="489.6" width="7.2" height="38.2" fill="#FF9900" stroke="#1e1e1e" stroke-opacity="0.9" stroke-width="0.8"/>
<line x1="183.55" y1="489.6" x2="191.35" y2="489.6" stroke="#1e1e1e" stroke-width="0.7"/>
<rect x="200.9" y="489.6" width="2.35" height="38.2" fill="#9aa6b6" fill-opacity="0.45"/>
<rect x="193.6" y="489.6" width="7.2" height="38.2" fill="#FF9900" stroke="#1e1e1e" stroke-opacity="0.9" stroke-width="0.8"/>
<line x1="193.3" y1="489.6" x2="201.1" y2="489.6" stroke="#1e1e1e" stroke-width="0.7"/>
<rect x="210.65" y="489.6" width="2.35" height="38.2" fill="#9aa6b6" fill-opacity="0.45"/>
<rect x="203.35" y="489.6" width="7.2" height="38.2" fill="#FF9900" stroke="#1e1e1e" stroke-opacity="0.9" stroke-width="0.8"/>
<line x1="203.05" y1="489.6" x2="210.85" y2="489.6" stroke="#1e1e1e" stroke-width="0.7"/>
<rect x="220.4" y="489.6" width="2.35" height="38.2" fill="#9aa6b6" fill-opacity="0.45"/>
<rect x="213.1" y="489.6" width="7.2" height="38.2" fill="#FF9900" stroke="#1e1e1e" stroke-opacity="0.9" stroke-width="0.8"/>
<line x1="212.8" y1="489.6" x2="220.6" y2="489.6" stroke="#1e1e1e" stroke-width="0.7"/>
<rect x="230.15" y="489.6" width="2.35" height="38.2" fill="#9aa6b6" fill-opacity="0.45"/>
<rect x="222.85" y="489.6" width="7.2" height="38.2" fill="#FF9900" stroke="#1e1e1e" stroke-opacity="0.9" stroke-width="0.8"/>
<line x1="222.55" y1="489.6" x2="230.35" y2="489.6" stroke="#1e1e1e" stroke-width="0.7"/>
<rect x="239.9" y="489.6" width="2.35" height="38.2" fill="#9aa6b6" fill-opacity="0.45"/>
<rect x="232.6" y="489.6" width="7.2" height="38.2" fill="#FF9900" stroke="#1e1e1e" stroke-opacity="0.9" stroke-width="0.8"/>
<line x1="232.3" y1="489.6" x2="240.1" y2="489.6" stroke="#1e1e1e" stroke-width="0.7"/>
<rect x="249.65" y="489.6" width="2.35" height="38.2" fill="#9aa6b6" fill-opacity="0.45"/>
<rect x="242.35" y="489.6" width="7.2" height="38.2" fill="#FF9900" stroke="#1e1e1e" stroke-opacity="0.9" stroke-width="0.8"/>
<line x1="242.05" y1="489.6" x2="249.85" y2="489.6" stroke="#1e1e1e" stroke-width="0.7"/>
<rect x="259.4" y="489.6" width="2.35" height="38.2" fill="#9aa6b6" fill-opacity="0.45"/>
<rect x="252.1" y="489.6" width="7.2" height="38.2" fill="#FF9900" stroke="#1e1e1e" stroke-opacity="0.9" stroke-width="0.8"/>
<line x1="251.8" y1="489.6" x2="259.6" y2="489.6" stroke="#1e1e1e" stroke-width="0.7"/>
<rect x="269.15" y="489.6" width="2.35" height="38.2" fill="#9aa6b6" fill-opacity="0.45"/>
<rect x="261.85" y="489.6" width="7.2" height="38.2" fill="#FF9900" stroke="#1e1e1e" stroke-opacity="0.9" stroke-width="0.8"/>
<line x1="261.55" y1="489.6" x2="269.35" y2="489.6" stroke="#1e1e1e" stroke-width="0.7"/>
<rect x="278.9" y="489.6" width="2.35" height="38.2" fill="#9aa6b6" fill-opacity="0.45"/>
<rect x="271.6" y="489.6" width="7.2" height="38.2" fill="#FF9900" stroke="#1e1e1e" stroke-opacity="0.9" stroke-width="0.8"/>
<line x1="271.3" y1="489.6" x2="279.1" y2="489.6" stroke="#1e1e1e" stroke-width="0.7"/>
<rect x="281.35" y="489.6" width="7.2" height="38.2" fill="#FF9900" stroke="#1e1e1e" stroke-opacity="0.9" stroke-width="0.8"/>
<line x1="281.05" y1="489.6" x2="288.85" y2="489.6" stroke="#1e1e1e" stroke-width="0.7"/>
<line x1="26" y1="527.8" x2="314.3" y2="527.8" stroke="#2e2e2e" stroke-width="1.3"/>
<text transform="translate(26.5,532) scale(0.9,1)" class="yt">0</text>
<line x1="26" y1="515.07" x2="32" y2="515.07" stroke="#222" stroke-width="1.25"/>
<text transform="translate(26.5,519.27) scale(0.9,1)" class="yt">1</text>
<line x1="26" y1="502.33" x2="32" y2="502.33" stroke="#222" stroke-width="1.25"/>
<text transform="translate(26.5,506.53) scale(0.9,1)" class="yt">2</text>
<line x1="26" y1="489.6" x2="32" y2="489.6" stroke="#222" stroke-width="1.25"/>
<text transform="translate(26.5,493.8) scale(0.9,1)" class="yt">3</text>
<line x1="26" y1="476.87" x2="32" y2="476.87" stroke="#222" stroke-width="1.25"/>
<text transform="translate(26.5,481.07) scale(0.9,1)" class="yt">4</text>
<line x1="26" y1="464.13" x2="32" y2="464.13" stroke="#222" stroke-width="1.25"/>
<text transform="translate(26.5,468.33) scale(0.9,1)" class="yt">5</text>
<line x1="26" y1="451.4" x2="32" y2="451.4" stroke="#222" stroke-width="1.25"/>
<text transform="translate(26.5,455.6) scale(0.9,1)" class="yt">6</text>
<text transform="translate(320.15,487.6) rotate(90)" class="fl">PLM_X</text>
</g>
<g>
<rect x="32" y="532.4" width="281.75" height="80.8" fill="#F0F0F0"/>
<path d="M31.8 532.4H313.75" stroke="#5c5c5c" stroke-width="1.15" fill="none"/>
<path d="M313.75 531.9V613.2" stroke="#4c4c4c" stroke-width="1.15" fill="none"/>
<path d="M32 531.9V613.2" stroke="#5a5a5a" stroke-width="1.55" fill="none"/>
<rect x="64.4" y="575.3" width="2.35" height="37.9" fill="#a8a8a8" fill-opacity="0.33"/>
<rect x="57.1" y="574.8" width="7.2" height="38.4" fill="#686868" stroke="#1e1e1e" stroke-opacity="0.9" stroke-width="0.8"/>
<line x1="56.8" y1="574.8" x2="64.6" y2="574.8" stroke="#1e1e1e" stroke-width="0.7"/>
<rect x="74.15" y="575.3" width="2.35" height="37.9" fill="#a8a8a8" fill-opacity="0.33"/>
<rect x="66.85" y="574.8" width="7.2" height="38.4" fill="#686868" stroke="#1e1e1e" stroke-opacity="0.9" stroke-width="0.8"/>
<line x1="66.55" y1="574.8" x2="74.35" y2="574.8" stroke="#1e1e1e" stroke-width="0.7"/>
<rect x="83.9" y="575.3" width="2.35" height="37.9" fill="#a8a8a8" fill-opacity="0.33"/>
<rect x="76.6" y="574.8" width="7.2" height="38.4" fill="#686868" stroke="#1e1e1e" stroke-opacity="0.9" stroke-width="0.8"/>
<line x1="76.3" y1="574.8" x2="84.1" y2="574.8" stroke="#1e1e1e" stroke-width="0.7"/>
<rect x="93.65" y="575.3" width="2.35" height="37.9" fill="#a8a8a8" fill-opacity="0.33"/>
<rect x="86.35" y="574.8" width="7.2" height="38.4" fill="#686868" stroke="#1e1e1e" stroke-opacity="0.9" stroke-width="0.8"/>
<line x1="86.05" y1="574.8" x2="93.85" y2="574.8" stroke="#1e1e1e" stroke-width="0.7"/>
<rect x="103.4" y="588.1" width="2.35" height="25.1" fill="#a8a8a8" fill-opacity="0.33"/>
<rect x="96.1" y="574.8" width="7.2" height="38.4" fill="#686868" stroke="#1e1e1e" stroke-opacity="0.9" stroke-width="0.8"/>
<line x1="95.8" y1="574.8" x2="103.6" y2="574.8" stroke="#1e1e1e" stroke-width="0.7"/>
<rect x="113.15" y="588.1" width="2.35" height="25.1" fill="#a8a8a8" fill-opacity="0.33"/>
<rect x="105.85" y="600.4" width="7.2" height="12.8" fill="#C41010" stroke="#1e1e1e" stroke-opacity="0.9" stroke-width="0.8"/>
<line x1="105.55" y1="600.4" x2="113.35" y2="600.4" stroke="#1e1e1e" stroke-width="0.7"/>
<rect x="105.85" y="587.6" width="7.2" height="12.8" fill="#686868" stroke="#1e1e1e" stroke-opacity="0.9" stroke-width="0.8"/>
<line x1="105.55" y1="587.6" x2="113.35" y2="587.6" stroke="#1e1e1e" stroke-width="0.7"/>
<rect x="122.9" y="574.8" width="2.35" height="38.4" fill="#9aa6b6" fill-opacity="0.45"/>
<rect x="115.6" y="574.8" width="7.2" height="38.4" fill="#FF9900" stroke="#1e1e1e" stroke-opacity="0.9" stroke-width="0.8"/>
<line x1="115.3" y1="574.8" x2="123.1" y2="574.8" stroke="#1e1e1e" stroke-width="0.7"/>
<rect x="132.65" y="574.8" width="2.35" height="38.4" fill="#9aa6b6" fill-opacity="0.45"/>
<rect x="125.35" y="574.8" width="7.2" height="38.4" fill="#FF9900" stroke="#1e1e1e" stroke-opacity="0.9" stroke-width="0.8"/>
<line x1="125.05" y1="574.8" x2="132.85" y2="574.8" stroke="#1e1e1e" stroke-width="0.7"/>
<rect x="142.4" y="574.8" width="2.35" height="38.4" fill="#9aa6b6" fill-opacity="0.45"/>
<rect x="135.1" y="574.8" width="7.2" height="38.4" fill="#FF9900" stroke="#1e1e1e" stroke-opacity="0.9" stroke-width="0.8"/>
<line x1="134.8" y1="574.8" x2="142.6" y2="574.8" stroke="#1e1e1e" stroke-width="0.7"/>
<rect x="152.15" y="574.8" width="2.35" height="38.4" fill="#9aa6b6" fill-opacity="0.45"/>
<rect x="144.85" y="574.8" width="7.2" height="38.4" fill="#FF9900" stroke="#1e1e1e" stroke-opacity="0.9" stroke-width="0.8"/>
<line x1="144.55" y1="574.8" x2="152.35" y2="574.8" stroke="#1e1e1e" stroke-width="0.7"/>
<rect x="161.9" y="574.8" width="2.35" height="38.4" fill="#9aa6b6" fill-opacity="0.45"/>
<rect x="154.6" y="574.8" width="7.2" height="38.4" fill="#FF9900" stroke="#1e1e1e" stroke-opacity="0.9" stroke-width="0.8"/>
<line x1="154.3" y1="574.8" x2="162.1" y2="574.8" stroke="#1e1e1e" stroke-width="0.7"/>
<rect x="171.65" y="574.8" width="2.35" height="38.4" fill="#9aa6b6" fill-opacity="0.45"/>
<rect x="164.35" y="574.8" width="7.2" height="38.4" fill="#FF9900" stroke="#1e1e1e" stroke-opacity="0.9" stroke-width="0.8"/>
<line x1="164.05" y1="574.8" x2="171.85" y2="574.8" stroke="#1e1e1e" stroke-width="0.7"/>
<rect x="181.4" y="574.8" width="2.35" height="38.4" fill="#9aa6b6" fill-opacity="0.45"/>
<rect x="174.1" y="574.8" width="7.2" height="38.4" fill="#FF9900" stroke="#1e1e1e" stroke-opacity="0.9" stroke-width="0.8"/>
<line x1="173.8" y1="574.8" x2="181.6" y2="574.8" stroke="#1e1e1e" stroke-width="0.7"/>
<rect x="191.15" y="574.8" width="2.35" height="38.4" fill="#9aa6b6" fill-opacity="0.45"/>
<rect x="183.85" y="574.8" width="7.2" height="38.4" fill="#FF9900" stroke="#1e1e1e" stroke-opacity="0.9" stroke-width="0.8"/>
<line x1="183.55" y1="574.8" x2="191.35" y2="574.8" stroke="#1e1e1e" stroke-width="0.7"/>
<rect x="200.9" y="574.8" width="2.35" height="38.4" fill="#9aa6b6" fill-opacity="0.45"/>
<rect x="193.6" y="574.8" width="7.2" height="38.4" fill="#FF9900" stroke="#1e1e1e" stroke-opacity="0.9" stroke-width="0.8"/>
<line x1="193.3" y1="574.8" x2="201.1" y2="574.8" stroke="#1e1e1e" stroke-width="0.7"/>
<rect x="210.65" y="574.8" width="2.35" height="38.4" fill="#9aa6b6" fill-opacity="0.45"/>
<rect x="203.35" y="574.8" width="7.2" height="38.4" fill="#FF9900" stroke="#1e1e1e" stroke-opacity="0.9" stroke-width="0.8"/>
<line x1="203.05" y1="574.8" x2="210.85" y2="574.8" stroke="#1e1e1e" stroke-width="0.7"/>
<rect x="220.4" y="587.6" width="2.35" height="25.6" fill="#9aa6b6" fill-opacity="0.45"/>
<rect x="213.1" y="574.8" width="7.2" height="38.4" fill="#FF9900" stroke="#1e1e1e" stroke-opacity="0.9" stroke-width="0.8"/>
<line x1="212.8" y1="574.8" x2="220.6" y2="574.8" stroke="#1e1e1e" stroke-width="0.7"/>
<rect x="230.15" y="587.6" width="2.35" height="25.6" fill="#9aa6b6" fill-opacity="0.45"/>
<rect x="222.85" y="587.6" width="7.2" height="25.6" fill="#FF9900" stroke="#1e1e1e" stroke-opacity="0.9" stroke-width="0.8"/>
<line x1="222.55" y1="587.6" x2="230.35" y2="587.6" stroke="#1e1e1e" stroke-width="0.7"/>
<rect x="239.9" y="574.8" width="2.35" height="38.4" fill="#9aa6b6" fill-opacity="0.45"/>
<rect x="232.6" y="574.8" width="7.2" height="38.4" fill="#FF9900" stroke="#1e1e1e" stroke-opacity="0.9" stroke-width="0.8"/>
<line x1="232.3" y1="574.8" x2="240.1" y2="574.8" stroke="#1e1e1e" stroke-width="0.7"/>
<rect x="249.65" y="574.8" width="2.35" height="38.4" fill="#9aa6b6" fill-opacity="0.45"/>
<rect x="242.35" y="574.8" width="7.2" height="38.4" fill="#FF9900" stroke="#1e1e1e" stroke-opacity="0.9" stroke-width="0.8"/>
<line x1="242.05" y1="574.8" x2="249.85" y2="574.8" stroke="#1e1e1e" stroke-width="0.7"/>
<rect x="259.4" y="574.8" width="2.35" height="38.4" fill="#9aa6b6" fill-opacity="0.45"/>
<rect x="252.1" y="574.8" width="7.2" height="38.4" fill="#FF9900" stroke="#1e1e1e" stroke-opacity="0.9" stroke-width="0.8"/>
<line x1="251.8" y1="574.8" x2="259.6" y2="574.8" stroke="#1e1e1e" stroke-width="0.7"/>
<rect x="269.15" y="574.8" width="2.35" height="38.4" fill="#9aa6b6" fill-opacity="0.45"/>
<rect x="261.85" y="574.8" width="7.2" height="38.4" fill="#FF9900" stroke="#1e1e1e" stroke-opacity="0.9" stroke-width="0.8"/>
<line x1="261.55" y1="574.8" x2="269.35" y2="574.8" stroke="#1e1e1e" stroke-width="0.7"/>
<rect x="271.6" y="574.8" width="7.2" height="38.4" fill="#FF9900" stroke="#1e1e1e" stroke-opacity="0.9" stroke-width="0.8"/>
<line x1="271.3" y1="574.8" x2="279.1" y2="574.8" stroke="#1e1e1e" stroke-width="0.7"/>
<line x1="26" y1="613.2" x2="314.3" y2="613.2" stroke="#2e2e2e" stroke-width="1.3"/>
<text transform="translate(26.5,617.4) scale(0.9,1)" class="yt">0</text>
<line x1="26" y1="600.4" x2="32" y2="600.4" stroke="#222" stroke-width="1.25"/>
<text transform="translate(26.5,604.6) scale(0.9,1)" class="yt">1</text>
<line x1="26" y1="587.6" x2="32" y2="587.6" stroke="#222" stroke-width="1.25"/>
<text transform="translate(26.5,591.8) scale(0.9,1)" class="yt">2</text>
<line x1="26" y1="574.8" x2="32" y2="574.8" stroke="#222" stroke-width="1.25"/>
<text transform="translate(26.5,579) scale(0.9,1)" class="yt">3</text>
<line x1="26" y1="562" x2="32" y2="562" stroke="#222" stroke-width="1.25"/>
<text transform="translate(26.5,566.2) scale(0.9,1)" class="yt">4</text>
<line x1="26" y1="549.2" x2="32" y2="549.2" stroke="#222" stroke-width="1.25"/>
<text transform="translate(26.5,553.4) scale(0.9,1)" class="yt">5</text>
<line x1="26" y1="536.4" x2="32" y2="536.4" stroke="#222" stroke-width="1.25"/>
<text transform="translate(26.5,540.6) scale(0.9,1)" class="yt">6</text>
<text transform="translate(320.15,572.8) rotate(90)" class="fl">PLM_Y</text>
</g>
<g>
<rect x="32" y="617.5" width="281.75" height="80.2" fill="#F0F0F0"/>
<path d="M31.8 617.5H313.75" stroke="#5c5c5c" stroke-width="1.15" fill="none"/>
<path d="M313.75 617V697.7" stroke="#4c4c4c" stroke-width="1.15" fill="none"/>
<path d="M32 617V697.7" stroke="#5a5a5a" stroke-width="1.55" fill="none"/>
<rect x="64.4" y="660.1" width="2.35" height="37.6" fill="#a8a8a8" fill-opacity="0.33"/>
<rect x="57.1" y="659.6" width="7.2" height="38.1" fill="#686868" stroke="#1e1e1e" stroke-opacity="0.9" stroke-width="0.8"/>
<line x1="56.8" y1="659.6" x2="64.6" y2="659.6" stroke="#1e1e1e" stroke-width="0.7"/>
<rect x="74.15" y="660.1" width="2.35" height="37.6" fill="#a8a8a8" fill-opacity="0.33"/>
<rect x="66.85" y="659.6" width="7.2" height="38.1" fill="#686868" stroke="#1e1e1e" stroke-opacity="0.9" stroke-width="0.8"/>
<line x1="66.55" y1="659.6" x2="74.35" y2="659.6" stroke="#1e1e1e" stroke-width="0.7"/>
<rect x="83.9" y="660.1" width="2.35" height="37.6" fill="#a8a8a8" fill-opacity="0.33"/>
<rect x="76.6" y="685" width="7.2" height="12.7" fill="#C41010" stroke="#1e1e1e" stroke-opacity="0.9" stroke-width="0.8"/>
<line x1="76.3" y1="685" x2="84.1" y2="685" stroke="#1e1e1e" stroke-width="0.7"/>
<rect x="76.6" y="659.6" width="7.2" height="25.4" fill="#686868" stroke="#1e1e1e" stroke-opacity="0.9" stroke-width="0.8"/>
<line x1="76.3" y1="659.6" x2="84.1" y2="659.6" stroke="#1e1e1e" stroke-width="0.7"/>
<rect x="93.65" y="660.1" width="2.35" height="37.6" fill="#a8a8a8" fill-opacity="0.33"/>
<rect x="86.35" y="685" width="7.2" height="12.7" fill="#C41010" stroke="#1e1e1e" stroke-opacity="0.9" stroke-width="0.8"/>
<line x1="86.05" y1="685" x2="93.85" y2="685" stroke="#1e1e1e" stroke-width="0.7"/>
<rect x="86.35" y="659.6" width="7.2" height="25.4" fill="#686868" stroke="#1e1e1e" stroke-opacity="0.9" stroke-width="0.8"/>
<line x1="86.05" y1="659.6" x2="93.85" y2="659.6" stroke="#1e1e1e" stroke-width="0.7"/>
<rect x="103.4" y="660.1" width="2.35" height="37.6" fill="#a8a8a8" fill-opacity="0.33"/>
<rect x="96.1" y="659.6" width="7.2" height="38.1" fill="#686868" stroke="#1e1e1e" stroke-opacity="0.9" stroke-width="0.8"/>
<line x1="95.8" y1="659.6" x2="103.6" y2="659.6" stroke="#1e1e1e" stroke-width="0.7"/>
<rect x="113.15" y="660.1" width="2.35" height="37.6" fill="#a8a8a8" fill-opacity="0.33"/>
<rect x="105.85" y="685" width="7.2" height="12.7" fill="#A2A2A2" stroke="#1e1e1e" stroke-opacity="0.9" stroke-width="0.8"/>
<line x1="105.55" y1="685" x2="113.35" y2="685" stroke="#1e1e1e" stroke-width="0.7"/>
<rect x="105.85" y="659.6" width="7.2" height="25.4" fill="#C41010" stroke="#1e1e1e" stroke-opacity="0.9" stroke-width="0.8"/>
<line x1="105.55" y1="659.6" x2="113.35" y2="659.6" stroke="#1e1e1e" stroke-width="0.7"/>
<rect x="122.9" y="659.6" width="2.35" height="38.1" fill="#9aa6b6" fill-opacity="0.45"/>
<rect x="115.6" y="659.6" width="7.2" height="38.1" fill="#FF9900" stroke="#1e1e1e" stroke-opacity="0.9" stroke-width="0.8"/>
<line x1="115.3" y1="659.6" x2="123.1" y2="659.6" stroke="#1e1e1e" stroke-width="0.7"/>
<rect x="132.65" y="659.6" width="2.35" height="38.1" fill="#9aa6b6" fill-opacity="0.45"/>
<rect x="125.35" y="659.6" width="7.2" height="38.1" fill="#FF9900" stroke="#1e1e1e" stroke-opacity="0.9" stroke-width="0.8"/>
<line x1="125.05" y1="659.6" x2="132.85" y2="659.6" stroke="#1e1e1e" stroke-width="0.7"/>
<rect x="142.4" y="659.6" width="2.35" height="38.1" fill="#9aa6b6" fill-opacity="0.45"/>
<rect x="135.1" y="659.6" width="7.2" height="38.1" fill="#FF9900" stroke="#1e1e1e" stroke-opacity="0.9" stroke-width="0.8"/>
<line x1="134.8" y1="659.6" x2="142.6" y2="659.6" stroke="#1e1e1e" stroke-width="0.7"/>
<rect x="152.15" y="659.6" width="2.35" height="38.1" fill="#9aa6b6" fill-opacity="0.45"/>
<rect x="144.85" y="659.6" width="7.2" height="38.1" fill="#FF9900" stroke="#1e1e1e" stroke-opacity="0.9" stroke-width="0.8"/>
<line x1="144.55" y1="659.6" x2="152.35" y2="659.6" stroke="#1e1e1e" stroke-width="0.7"/>
<rect x="161.9" y="659.6" width="2.35" height="38.1" fill="#9aa6b6" fill-opacity="0.45"/>
<rect x="154.6" y="659.6" width="7.2" height="38.1" fill="#FF9900" stroke="#1e1e1e" stroke-opacity="0.9" stroke-width="0.8"/>
<line x1="154.3" y1="659.6" x2="162.1" y2="659.6" stroke="#1e1e1e" stroke-width="0.7"/>
<rect x="171.65" y="659.6" width="2.35" height="38.1" fill="#9aa6b6" fill-opacity="0.45"/>
<rect x="164.35" y="659.6" width="7.2" height="38.1" fill="#FF9900" stroke="#1e1e1e" stroke-opacity="0.9" stroke-width="0.8"/>
<line x1="164.05" y1="659.6" x2="171.85" y2="659.6" stroke="#1e1e1e" stroke-width="0.7"/>
<rect x="181.4" y="659.6" width="2.35" height="38.1" fill="#9aa6b6" fill-opacity="0.45"/>
<rect x="174.1" y="659.6" width="7.2" height="38.1" fill="#FF9900" stroke="#1e1e1e" stroke-opacity="0.9" stroke-width="0.8"/>
<line x1="173.8" y1="659.6" x2="181.6" y2="659.6" stroke="#1e1e1e" stroke-width="0.7"/>
<rect x="191.15" y="685" width="2.35" height="12.7" fill="#9aa6b6" fill-opacity="0.45"/>
<rect x="183.85" y="659.6" width="7.2" height="38.1" fill="#FF9900" stroke="#1e1e1e" stroke-opacity="0.9" stroke-width="0.8"/>
<line x1="183.55" y1="659.6" x2="191.35" y2="659.6" stroke="#1e1e1e" stroke-width="0.7"/>
<rect x="200.9" y="685" width="2.35" height="12.7" fill="#9aa6b6" fill-opacity="0.45"/>
<rect x="193.6" y="685" width="7.2" height="12.7" fill="#FF9900" stroke="#1e1e1e" stroke-opacity="0.9" stroke-width="0.8"/>
<line x1="193.3" y1="685" x2="201.1" y2="685" stroke="#1e1e1e" stroke-width="0.7"/>
<rect x="210.65" y="672.3" width="2.35" height="25.4" fill="#9aa6b6" fill-opacity="0.45"/>
<rect x="203.35" y="672.3" width="7.2" height="25.4" fill="#FF9900" stroke="#1e1e1e" stroke-opacity="0.9" stroke-width="0.8"/>
<line x1="203.05" y1="672.3" x2="210.85" y2="672.3" stroke="#1e1e1e" stroke-width="0.7"/>
<rect x="220.4" y="659.6" width="2.35" height="38.1" fill="#9aa6b6" fill-opacity="0.45"/>
<rect x="213.1" y="659.6" width="7.2" height="38.1" fill="#FF9900" stroke="#1e1e1e" stroke-opacity="0.9" stroke-width="0.8"/>
<line x1="212.8" y1="659.6" x2="220.6" y2="659.6" stroke="#1e1e1e" stroke-width="0.7"/>
<rect x="230.15" y="659.6" width="2.35" height="38.1" fill="#9aa6b6" fill-opacity="0.45"/>
<rect x="222.85" y="659.6" width="7.2" height="38.1" fill="#FF9900" stroke="#1e1e1e" stroke-opacity="0.9" stroke-width="0.8"/>
<line x1="222.55" y1="659.6" x2="230.35" y2="659.6" stroke="#1e1e1e" stroke-width="0.7"/>
<rect x="239.9" y="659.6" width="2.35" height="38.1" fill="#9aa6b6" fill-opacity="0.45"/>
<rect x="232.6" y="659.6" width="7.2" height="38.1" fill="#FF9900" stroke="#1e1e1e" stroke-opacity="0.9" stroke-width="0.8"/>
<line x1="232.3" y1="659.6" x2="240.1" y2="659.6" stroke="#1e1e1e" stroke-width="0.7"/>
<rect x="249.65" y="685" width="2.35" height="12.7" fill="#9aa6b6" fill-opacity="0.45"/>
<rect x="242.35" y="659.6" width="7.2" height="38.1" fill="#FF9900" stroke="#1e1e1e" stroke-opacity="0.9" stroke-width="0.8"/>
<line x1="242.05" y1="659.6" x2="249.85" y2="659.6" stroke="#1e1e1e" stroke-width="0.7"/>
<rect x="259.4" y="685" width="2.35" height="12.7" fill="#9aa6b6" fill-opacity="0.45"/>
<rect x="252.1" y="685" width="7.2" height="12.7" fill="#FF9900" stroke="#1e1e1e" stroke-opacity="0.9" stroke-width="0.8"/>
<line x1="251.8" y1="685" x2="259.6" y2="685" stroke="#1e1e1e" stroke-width="0.7"/>
<rect x="269.15" y="672.3" width="2.35" height="25.4" fill="#9aa6b6" fill-opacity="0.45"/>
<rect x="261.85" y="672.3" width="7.2" height="25.4" fill="#FF9900" stroke="#1e1e1e" stroke-opacity="0.9" stroke-width="0.8"/>
<line x1="261.55" y1="672.3" x2="269.35" y2="672.3" stroke="#1e1e1e" stroke-width="0.7"/>
<rect x="278.9" y="672.3" width="2.35" height="25.4" fill="#9aa6b6" fill-opacity="0.45"/>
<rect x="271.6" y="672.3" width="7.2" height="25.4" fill="#FF9900" stroke="#1e1e1e" stroke-opacity="0.9" stroke-width="0.8"/>
<line x1="271.3" y1="672.3" x2="279.1" y2="672.3" stroke="#1e1e1e" stroke-width="0.7"/>
<rect x="281.35" y="672.3" width="7.2" height="25.4" fill="#FF9900" stroke="#1e1e1e" stroke-opacity="0.9" stroke-width="0.8"/>
<line x1="281.05" y1="672.3" x2="288.85" y2="672.3" stroke="#1e1e1e" stroke-width="0.7"/>
<line x1="26" y1="697.7" x2="314.3" y2="697.7" stroke="#2e2e2e" stroke-width="1.3"/>
<text transform="translate(26.5,701.9) scale(0.9,1)" class="yt">0</text>
<line x1="26" y1="685" x2="32" y2="685" stroke="#222" stroke-width="1.25"/>
<text transform="translate(26.5,689.2) scale(0.9,1)" class="yt">1</text>
<line x1="26" y1="672.3" x2="32" y2="672.3" stroke="#222" stroke-width="1.25"/>
<text transform="translate(26.5,676.5) scale(0.9,1)" class="yt">2</text>
<line x1="26" y1="659.6" x2="32" y2="659.6" stroke="#222" stroke-width="1.25"/>
<text transform="translate(26.5,663.8) scale(0.9,1)" class="yt">3</text>
<line x1="26" y1="646.9" x2="32" y2="646.9" stroke="#222" stroke-width="1.25"/>
<text transform="translate(26.5,651.1) scale(0.9,1)" class="yt">4</text>
<line x1="26" y1="634.2" x2="32" y2="634.2" stroke="#222" stroke-width="1.25"/>
<text transform="translate(26.5,638.4) scale(0.9,1)" class="yt">5</text>
<line x1="26" y1="621.5" x2="32" y2="621.5" stroke="#222" stroke-width="1.25"/>
<text transform="translate(26.5,625.7) scale(0.9,1)" class="yt">6</text>
<text transform="translate(320.15,657.6) rotate(90)" class="fl">PLM_Z</text>
</g>
<line x1="50.8" y1="697.7" x2="50.8" y2="703.2" stroke="#222" stroke-width="1.25"/>
<text transform="translate(47.2,703.5) rotate(90)" class="xt" style="letter-spacing:-0.25px">-5.00</text>
<line x1="70.3" y1="697.7" x2="70.3" y2="703.2" stroke="#222" stroke-width="1.25"/>
<text transform="translate(66.7,703.5) rotate(90)" class="xt" style="letter-spacing:-0.25px">-3.00</text>
<line x1="89.8" y1="697.7" x2="89.8" y2="703.2" stroke="#222" stroke-width="1.25"/>
<text transform="translate(86.2,703.5) rotate(90)" class="xt" style="letter-spacing:-0.25px">-1.00</text>
<line x1="109.3" y1="697.7" x2="109.3" y2="703.2" stroke="#222" stroke-width="1.25"/>
<text transform="translate(105.7,703.5) rotate(90)" class="xt">.08</text>
<line x1="128.8" y1="697.7" x2="128.8" y2="703.2" stroke="#222" stroke-width="1.25"/>
<text transform="translate(125.2,703.5) rotate(90)" class="xt">1.00</text>
<line x1="148.3" y1="697.7" x2="148.3" y2="703.2" stroke="#222" stroke-width="1.25"/>
<text transform="translate(144.7,703.5) rotate(90)" class="xt">3.00</text>
<line x1="167.8" y1="697.7" x2="167.8" y2="703.2" stroke="#222" stroke-width="1.25"/>
<text transform="translate(164.2,703.5) rotate(90)" class="xt">5.00</text>
<line x1="187.3" y1="697.7" x2="187.3" y2="703.2" stroke="#222" stroke-width="1.25"/>
<text transform="translate(183.7,703.5) rotate(90)" class="xt">7.00</text>
<line x1="206.8" y1="697.7" x2="206.8" y2="703.2" stroke="#222" stroke-width="1.25"/>
<text transform="translate(203.2,703.5) rotate(90)" class="xt">9.00</text>
<line x1="226.3" y1="697.7" x2="226.3" y2="703.2" stroke="#222" stroke-width="1.25"/>
<text transform="translate(222.7,703.5) rotate(90)" class="xt">11.00</text>
<line x1="245.8" y1="697.7" x2="245.8" y2="703.2" stroke="#222" stroke-width="1.25"/>
<text transform="translate(242.2,703.5) rotate(90)" class="xt">13.00</text>
<line x1="265.3" y1="697.7" x2="265.3" y2="703.2" stroke="#222" stroke-width="1.25"/>
<text transform="translate(261.7,703.5) rotate(90)" class="xt">15.00</text>
<line x1="284.8" y1="697.7" x2="284.8" y2="703.2" stroke="#222" stroke-width="1.25"/>
<text transform="translate(281.2,703.5) rotate(90)" class="xt">17.00</text>
<text transform="translate(13,360) rotate(-90)" class="fl">Count</text>
<text x="149.5" y="741.9" class="xl">Days p.i.</text>
<text transform="translate(430.5,15.5) scale(0.86,1)" class="ttl">L</text>
<g>
<rect x="428.4" y="22.3" width="281.75" height="80" fill="#F0F0F0"/>
<path d="M428.2 22.3H710.15" stroke="#5c5c5c" stroke-width="1.15" fill="none"/>
<path d="M710.15 21.8V102.3" stroke="#4c4c4c" stroke-width="1.15" fill="none"/>
<path d="M428.4 21.8V102.3" stroke="#5a5a5a" stroke-width="1.55" fill="none"/>
<rect x="451.05" y="77.47" width="2.35" height="24.83" fill="#a8a8a8" fill-opacity="0.33"/>
<rect x="443.75" y="76.97" width="7.2" height="25.33" fill="#686868" stroke="#1e1e1e" stroke-opacity="0.9" stroke-width="0.8"/>
<line x1="443.45" y1="76.97" x2="451.25" y2="76.97" stroke="#1e1e1e" stroke-width="0.7"/>
<rect x="460.8" y="52.13" width="2.35" height="50.17" fill="#a8a8a8" fill-opacity="0.33"/>
<rect x="453.5" y="51.63" width="7.2" height="50.67" fill="#686868" stroke="#1e1e1e" stroke-opacity="0.9" stroke-width="0.8"/>
<line x1="453.2" y1="51.63" x2="461" y2="51.63" stroke="#1e1e1e" stroke-width="0.7"/>
<rect x="470.55" y="52.13" width="2.35" height="50.17" fill="#a8a8a8" fill-opacity="0.33"/>
<rect x="463.25" y="51.63" width="7.2" height="50.67" fill="#686868" stroke="#1e1e1e" stroke-opacity="0.9" stroke-width="0.8"/>
<line x1="462.95" y1="51.63" x2="470.75" y2="51.63" stroke="#1e1e1e" stroke-width="0.7"/>
<rect x="480.3" y="26.8" width="2.35" height="75.5" fill="#a8a8a8" fill-opacity="0.33"/>
<rect x="473" y="26.3" width="7.2" height="76" fill="#686868" stroke="#1e1e1e" stroke-opacity="0.9" stroke-width="0.8"/>
<line x1="472.7" y1="26.3" x2="480.5" y2="26.3" stroke="#1e1e1e" stroke-width="0.7"/>
<rect x="490.05" y="26.8" width="2.35" height="75.5" fill="#a8a8a8" fill-opacity="0.33"/>
<rect x="482.75" y="26.3" width="7.2" height="76" fill="#686868" stroke="#1e1e1e" stroke-opacity="0.9" stroke-width="0.8"/>
<line x1="482.45" y1="26.3" x2="490.25" y2="26.3" stroke="#1e1e1e" stroke-width="0.7"/>
<rect x="499.8" y="64.8" width="2.35" height="37.5" fill="#a8a8a8" fill-opacity="0.33"/>
<rect x="492.5" y="26.3" width="7.2" height="76" fill="#686868" stroke="#1e1e1e" stroke-opacity="0.9" stroke-width="0.8"/>
<line x1="492.2" y1="26.3" x2="500" y2="26.3" stroke="#1e1e1e" stroke-width="0.7"/>
<rect x="509.55" y="64.8" width="2.35" height="37.5" fill="#a8a8a8" fill-opacity="0.33"/>
<rect x="502.25" y="64.3" width="7.2" height="38" fill="#686868" stroke="#1e1e1e" stroke-opacity="0.9" stroke-width="0.8"/>
<line x1="501.95" y1="64.3" x2="509.75" y2="64.3" stroke="#1e1e1e" stroke-width="0.7"/>
<rect x="519.3" y="26.8" width="2.35" height="75.5" fill="#a8a8a8" fill-opacity="0.33"/>
<rect x="512" y="26.3" width="7.2" height="76" fill="#686868" stroke="#1e1e1e" stroke-opacity="0.9" stroke-width="0.8"/>
<line x1="511.7" y1="26.3" x2="519.5" y2="26.3" stroke="#1e1e1e" stroke-width="0.7"/>
<rect x="529.05" y="26.8" width="2.35" height="75.5" fill="#a8a8a8" fill-opacity="0.33"/>
<rect x="521.75" y="26.3" width="7.2" height="76" fill="#686868" stroke="#1e1e1e" stroke-opacity="0.9" stroke-width="0.8"/>
<line x1="521.45" y1="26.3" x2="529.25" y2="26.3" stroke="#1e1e1e" stroke-width="0.7"/>
<rect x="538.8" y="26.8" width="2.35" height="75.5" fill="#a8a8a8" fill-opacity="0.33"/>
<rect x="531.5" y="26.3" width="7.2" height="76" fill="#686868" stroke="#1e1e1e" stroke-opacity="0.9" stroke-width="0.8"/>
<line x1="531.2" y1="26.3" x2="539" y2="26.3" stroke="#1e1e1e" stroke-width="0.7"/>
<rect x="548.55" y="26.8" width="2.35" height="75.5" fill="#a8a8a8" fill-opacity="0.33"/>
<rect x="541.25" y="26.3" width="7.2" height="76" fill="#686868" stroke="#1e1e1e" stroke-opacity="0.9" stroke-width="0.8"/>
<line x1="540.95" y1="26.3" x2="548.75" y2="26.3" stroke="#1e1e1e" stroke-width="0.7"/>
<rect x="558.3" y="26.8" width="2.35" height="75.5" fill="#a8a8a8" fill-opacity="0.33"/>
<rect x="551" y="26.3" width="7.2" height="76" fill="#686868" stroke="#1e1e1e" stroke-opacity="0.9" stroke-width="0.8"/>
<line x1="550.7" y1="26.3" x2="558.5" y2="26.3" stroke="#1e1e1e" stroke-width="0.7"/>
<rect x="568.05" y="26.8" width="2.35" height="75.5" fill="#a8a8a8" fill-opacity="0.33"/>
<rect x="560.75" y="26.3" width="7.2" height="76" fill="#686868" stroke="#1e1e1e" stroke-opacity="0.9" stroke-width="0.8"/>
<line x1="560.45" y1="26.3" x2="568.25" y2="26.3" stroke="#1e1e1e" stroke-width="0.7"/>
<rect x="577.8" y="26.8" width="2.35" height="75.5" fill="#a8a8a8" fill-opacity="0.33"/>
<rect x="570.5" y="26.3" width="7.2" height="76" fill="#686868" stroke="#1e1e1e" stroke-opacity="0.9" stroke-width="0.8"/>
<line x1="570.2" y1="26.3" x2="578" y2="26.3" stroke="#1e1e1e" stroke-width="0.7"/>
<rect x="587.55" y="26.8" width="2.35" height="75.5" fill="#a8a8a8" fill-opacity="0.33"/>
<rect x="580.25" y="26.3" width="7.2" height="76" fill="#686868" stroke="#1e1e1e" stroke-opacity="0.9" stroke-width="0.8"/>
<line x1="579.95" y1="26.3" x2="587.75" y2="26.3" stroke="#1e1e1e" stroke-width="0.7"/>
<rect x="597.3" y="26.8" width="2.35" height="75.5" fill="#a8a8a8" fill-opacity="0.33"/>
<rect x="590" y="26.3" width="7.2" height="76" fill="#686868" stroke="#1e1e1e" stroke-opacity="0.9" stroke-width="0.8"/>
<line x1="589.7" y1="26.3" x2="597.5" y2="26.3" stroke="#1e1e1e" stroke-width="0.7"/>
<rect x="607.05" y="26.8" width="2.35" height="75.5" fill="#a8a8a8" fill-opacity="0.33"/>
<rect x="599.75" y="26.3" width="7.2" height="76" fill="#686868" stroke="#1e1e1e" stroke-opacity="0.9" stroke-width="0.8"/>
<line x1="599.45" y1="26.3" x2="607.25" y2="26.3" stroke="#1e1e1e" stroke-width="0.7"/>
<rect x="616.8" y="26.8" width="2.35" height="75.5" fill="#a8a8a8" fill-opacity="0.33"/>
<rect x="609.5" y="89.63" width="7.2" height="12.67" fill="#C41010" stroke="#1e1e1e" stroke-opacity="0.9" stroke-width="0.8"/>
<line x1="609.2" y1="89.63" x2="617" y2="89.63" stroke="#1e1e1e" stroke-width="0.7"/>
<rect x="609.5" y="26.3" width="7.2" height="63.33" fill="#686868" stroke="#1e1e1e" stroke-opacity="0.9" stroke-width="0.8"/>
<line x1="609.2" y1="26.3" x2="617" y2="26.3" stroke="#1e1e1e" stroke-width="0.7"/>
<rect x="626.55" y="26.8" width="2.35" height="75.5" fill="#a8a8a8" fill-opacity="0.33"/>
<rect x="619.25" y="89.63" width="7.2" height="12.67" fill="#C41010" stroke="#1e1e1e" stroke-opacity="0.9" stroke-width="0.8"/>
<line x1="618.95" y1="89.63" x2="626.75" y2="89.63" stroke="#1e1e1e" stroke-width="0.7"/>
<rect x="619.25" y="26.3" width="7.2" height="63.33" fill="#686868" stroke="#1e1e1e" stroke-opacity="0.9" stroke-width="0.8"/>
<line x1="618.95" y1="26.3" x2="626.75" y2="26.3" stroke="#1e1e1e" stroke-width="0.7"/>
<rect x="636.3" y="26.8" width="2.35" height="75.5" fill="#a8a8a8" fill-opacity="0.33"/>
<rect x="629" y="76.97" width="7.2" height="25.33" fill="#C41010" stroke="#1e1e1e" stroke-opacity="0.9" stroke-width="0.8"/>
<line x1="628.7" y1="76.97" x2="636.5" y2="76.97" stroke="#1e1e1e" stroke-width="0.7"/>
<rect x="629" y="26.3" width="7.2" height="50.67" fill="#686868" stroke="#1e1e1e" stroke-opacity="0.9" stroke-width="0.8"/>
<line x1="628.7" y1="26.3" x2="636.5" y2="26.3" stroke="#1e1e1e" stroke-width="0.7"/>
<rect x="646.05" y="26.8" width="2.35" height="75.5" fill="#a8a8a8" fill-opacity="0.33"/>
<rect x="638.75" y="26.3" width="7.2" height="76" fill="#686868" stroke="#1e1e1e" stroke-opacity="0.9" stroke-width="0.8"/>
<line x1="638.45" y1="26.3" x2="646.25" y2="26.3" stroke="#1e1e1e" stroke-width="0.7"/>
<rect x="655.8" y="26.8" width="2.35" height="75.5" fill="#a8a8a8" fill-opacity="0.33"/>
<rect x="648.5" y="26.3" width="7.2" height="76" fill="#686868" stroke="#1e1e1e" stroke-opacity="0.9" stroke-width="0.8"/>
<line x1="648.2" y1="26.3" x2="656" y2="26.3" stroke="#1e1e1e" stroke-width="0.7"/>
<rect x="658.25" y="89.63" width="7.2" height="12.67" fill="#C41010" stroke="#1e1e1e" stroke-opacity="0.9" stroke-width="0.8"/>
<line x1="657.95" y1="89.63" x2="665.75" y2="89.63" stroke="#1e1e1e" stroke-width="0.7"/>
<rect x="658.25" y="26.3" width="7.2" height="63.33" fill="#686868" stroke="#1e1e1e" stroke-opacity="0.9" stroke-width="0.8"/>
<line x1="657.95" y1="26.3" x2="665.75" y2="26.3" stroke="#1e1e1e" stroke-width="0.7"/>
<line x1="422.4" y1="102.3" x2="710.7" y2="102.3" stroke="#2e2e2e" stroke-width="1.3"/>
<text transform="translate(422.9,106.5) scale(0.9,1)" class="yt">0</text>
<line x1="422.4" y1="89.63" x2="428.4" y2="89.63" stroke="#222" stroke-width="1.25"/>
<text transform="translate(422.9,93.83) scale(0.9,1)" class="yt">1</text>
<line x1="422.4" y1="76.97" x2="428.4" y2="76.97" stroke="#222" stroke-width="1.25"/>
<text transform="translate(422.9,81.17) scale(0.9,1)" class="yt">2</text>
<line x1="422.4" y1="64.3" x2="428.4" y2="64.3" stroke="#222" stroke-width="1.25"/>
<text transform="translate(422.9,68.5) scale(0.9,1)" class="yt">3</text>
<line x1="422.4" y1="51.63" x2="428.4" y2="51.63" stroke="#222" stroke-width="1.25"/>
<text transform="translate(422.9,55.83) scale(0.9,1)" class="yt">4</text>
<line x1="422.4" y1="38.97" x2="428.4" y2="38.97" stroke="#222" stroke-width="1.25"/>
<text transform="translate(422.9,43.17) scale(0.9,1)" class="yt">5</text>
<line x1="422.4" y1="26.3" x2="428.4" y2="26.3" stroke="#222" stroke-width="1.25"/>
<text transform="translate(422.9,30.5) scale(0.9,1)" class="yt">6</text>
<text transform="translate(715.85,62.3) rotate(90)" class="fl">negativ</text>
</g>
<g>
<rect x="428.4" y="107.4" width="281.75" height="80" fill="#F0F0F0"/>
<path d="M428.2 107.4H710.15" stroke="#5c5c5c" stroke-width="1.15" fill="none"/>
<path d="M710.15 106.9V187.4" stroke="#4c4c4c" stroke-width="1.15" fill="none"/>
<path d="M428.4 106.9V187.4" stroke="#5a5a5a" stroke-width="1.55" fill="none"/>
<rect x="451.05" y="162.57" width="2.35" height="24.83" fill="#a8a8a8" fill-opacity="0.33"/>
<rect x="443.75" y="162.07" width="7.2" height="25.33" fill="#686868" stroke="#1e1e1e" stroke-opacity="0.9" stroke-width="0.8"/>
<line x1="443.45" y1="162.07" x2="451.25" y2="162.07" stroke="#1e1e1e" stroke-width="0.7"/>
<rect x="460.8" y="111.9" width="2.35" height="75.5" fill="#a8a8a8" fill-opacity="0.33"/>
<rect x="453.5" y="174.73" width="7.2" height="12.67" fill="#C41010" stroke="#1e1e1e" stroke-opacity="0.9" stroke-width="0.8"/>
<line x1="453.2" y1="174.73" x2="461" y2="174.73" stroke="#1e1e1e" stroke-width="0.7"/>
<rect x="453.5" y="111.4" width="7.2" height="63.33" fill="#686868" stroke="#1e1e1e" stroke-opacity="0.9" stroke-width="0.8"/>
<line x1="453.2" y1="111.4" x2="461" y2="111.4" stroke="#1e1e1e" stroke-width="0.7"/>
<rect x="470.55" y="111.9" width="2.35" height="75.5" fill="#a8a8a8" fill-opacity="0.33"/>
<rect x="463.25" y="111.4" width="7.2" height="76" fill="#686868" stroke="#1e1e1e" stroke-opacity="0.9" stroke-width="0.8"/>
<line x1="462.95" y1="111.4" x2="470.75" y2="111.4" stroke="#1e1e1e" stroke-width="0.7"/>
<rect x="480.3" y="111.9" width="2.35" height="75.5" fill="#a8a8a8" fill-opacity="0.33"/>
<rect x="473" y="149.4" width="7.2" height="38" fill="#C41010" stroke="#1e1e1e" stroke-opacity="0.9" stroke-width="0.8"/>
<line x1="472.7" y1="149.4" x2="480.5" y2="149.4" stroke="#1e1e1e" stroke-width="0.7"/>
<rect x="473" y="111.4" width="7.2" height="38" fill="#686868" stroke="#1e1e1e" stroke-opacity="0.9" stroke-width="0.8"/>
<line x1="472.7" y1="111.4" x2="480.5" y2="111.4" stroke="#1e1e1e" stroke-width="0.7"/>
<rect x="490.05" y="111.9" width="2.35" height="75.5" fill="#a8a8a8" fill-opacity="0.33"/>
<rect x="482.75" y="111.4" width="7.2" height="76" fill="#686868" stroke="#1e1e1e" stroke-opacity="0.9" stroke-width="0.8"/>
<line x1="482.45" y1="111.4" x2="490.25" y2="111.4" stroke="#1e1e1e" stroke-width="0.7"/>
<rect x="499.8" y="149.9" width="2.35" height="37.5" fill="#a8a8a8" fill-opacity="0.33"/>
<rect x="492.5" y="111.4" width="7.2" height="76" fill="#686868" stroke="#1e1e1e" stroke-opacity="0.9" stroke-width="0.8"/>
<line x1="492.2" y1="111.4" x2="500" y2="111.4" stroke="#1e1e1e" stroke-width="0.7"/>
<rect x="509.55" y="149.9" width="2.35" height="37.5" fill="#a8a8a8" fill-opacity="0.33"/>
<rect x="502.25" y="149.4" width="7.2" height="38" fill="#686868" stroke="#1e1e1e" stroke-opacity="0.9" stroke-width="0.8"/>
<line x1="501.95" y1="149.4" x2="509.75" y2="149.4" stroke="#1e1e1e" stroke-width="0.7"/>
<rect x="519.3" y="111.9" width="2.35" height="75.5" fill="#a8a8a8" fill-opacity="0.33"/>
<rect x="512" y="111.4" width="7.2" height="76" fill="#686868" stroke="#1e1e1e" stroke-opacity="0.9" stroke-width="0.8"/>
<line x1="511.7" y1="111.4" x2="519.5" y2="111.4" stroke="#1e1e1e" stroke-width="0.7"/>
<rect x="529.05" y="111.9" width="2.35" height="75.5" fill="#a8a8a8" fill-opacity="0.33"/>
<rect x="521.75" y="111.4" width="7.2" height="76" fill="#686868" stroke="#1e1e1e" stroke-opacity="0.9" stroke-width="0.8"/>
<line x1="521.45" y1="111.4" x2="529.25" y2="111.4" stroke="#1e1e1e" stroke-width="0.7"/>
<rect x="538.8" y="111.9" width="2.35" height="75.5" fill="#a8a8a8" fill-opacity="0.33"/>
<rect x="531.5" y="111.4" width="7.2" height="76" fill="#686868" stroke="#1e1e1e" stroke-opacity="0.9" stroke-width="0.8"/>
<line x1="531.2" y1="111.4" x2="539" y2="111.4" stroke="#1e1e1e" stroke-width="0.7"/>
<rect x="548.55" y="111.9" width="2.35" height="75.5" fill="#a8a8a8" fill-opacity="0.33"/>
<rect x="541.25" y="111.4" width="7.2" height="76" fill="#686868" stroke="#1e1e1e" stroke-opacity="0.9" stroke-width="0.8"/>
<line x1="540.95" y1="111.4" x2="548.75" y2="111.4" stroke="#1e1e1e" stroke-width="0.7"/>
<rect x="558.3" y="111.9" width="2.35" height="75.5" fill="#a8a8a8" fill-opacity="0.33"/>
<rect x="551" y="111.4" width="7.2" height="76" fill="#686868" stroke="#1e1e1e" stroke-opacity="0.9" stroke-width="0.8"/>
<line x1="550.7" y1="111.4" x2="558.5" y2="111.4" stroke="#1e1e1e" stroke-width="0.7"/>
<rect x="568.05" y="111.9" width="2.35" height="75.5" fill="#a8a8a8" fill-opacity="0.33"/>
<rect x="560.75" y="111.4" width="7.2" height="76" fill="#686868" stroke="#1e1e1e" stroke-opacity="0.9" stroke-width="0.8"/>
<line x1="560.45" y1="111.4" x2="568.25" y2="111.4" stroke="#1e1e1e" stroke-width="0.7"/>
<rect x="577.8" y="111.9" width="2.35" height="75.5" fill="#a8a8a8" fill-opacity="0.33"/>
<rect x="570.5" y="111.4" width="7.2" height="76" fill="#686868" stroke="#1e1e1e" stroke-opacity="0.9" stroke-width="0.8"/>
<line x1="570.2" y1="111.4" x2="578" y2="111.4" stroke="#1e1e1e" stroke-width="0.7"/>
<rect x="587.55" y="111.9" width="2.35" height="75.5" fill="#a8a8a8" fill-opacity="0.33"/>
<rect x="580.25" y="111.4" width="7.2" height="76" fill="#686868" stroke="#1e1e1e" stroke-opacity="0.9" stroke-width="0.8"/>
<line x1="579.95" y1="111.4" x2="587.75" y2="111.4" stroke="#1e1e1e" stroke-width="0.7"/>
<rect x="597.3" y="111.9" width="2.35" height="75.5" fill="#a8a8a8" fill-opacity="0.33"/>
<rect x="590" y="162.07" width="7.2" height="25.33" fill="#C41010" stroke="#1e1e1e" stroke-opacity="0.9" stroke-width="0.8"/>
<line x1="589.7" y1="162.07" x2="597.5" y2="162.07" stroke="#1e1e1e" stroke-width="0.7"/>
<rect x="590" y="111.4" width="7.2" height="50.67" fill="#686868" stroke="#1e1e1e" stroke-opacity="0.9" stroke-width="0.8"/>
<line x1="589.7" y1="111.4" x2="597.5" y2="111.4" stroke="#1e1e1e" stroke-width="0.7"/>
<rect x="607.05" y="111.9" width="2.35" height="75.5" fill="#a8a8a8" fill-opacity="0.33"/>
<rect x="599.75" y="162.07" width="7.2" height="25.33" fill="#C41010" stroke="#1e1e1e" stroke-opacity="0.9" stroke-width="0.8"/>
<line x1="599.45" y1="162.07" x2="607.25" y2="162.07" stroke="#1e1e1e" stroke-width="0.7"/>
<rect x="599.75" y="111.4" width="7.2" height="50.67" fill="#686868" stroke="#1e1e1e" stroke-opacity="0.9" stroke-width="0.8"/>
<line x1="599.45" y1="111.4" x2="607.25" y2="111.4" stroke="#1e1e1e" stroke-width="0.7"/>
<rect x="616.8" y="174.73" width="2.35" height="12.67" fill="#9aa6b6" fill-opacity="0.45"/>
<rect x="616.8" y="111.9" width="2.35" height="62.83" fill="#a8a8a8" fill-opacity="0.33"/>
<rect x="609.5" y="174.73" width="7.2" height="12.67" fill="#FF9900" stroke="#1e1e1e" stroke-opacity="0.9" stroke-width="0.8"/>
<line x1="609.2" y1="174.73" x2="617" y2="174.73" stroke="#1e1e1e" stroke-width="0.7"/>
<rect x="609.5" y="136.73" width="7.2" height="38" fill="#C41010" stroke="#1e1e1e" stroke-opacity="0.9" stroke-width="0.8"/>
<line x1="609.2" y1="136.73" x2="617" y2="136.73" stroke="#1e1e1e" stroke-width="0.7"/>
<rect x="609.5" y="111.4" width="7.2" height="25.33" fill="#686868" stroke="#1e1e1e" stroke-opacity="0.9" stroke-width="0.8"/>
<line x1="609.2" y1="111.4" x2="617" y2="111.4" stroke="#1e1e1e" stroke-width="0.7"/>
<rect x="626.55" y="174.73" width="2.35" height="12.67" fill="#9aa6b6" fill-opacity="0.45"/>
<rect x="626.55" y="111.9" width="2.35" height="62.83" fill="#a8a8a8" fill-opacity="0.33"/>
<rect x="619.25" y="174.73" width="7.2" height="12.67" fill="#FF9900" stroke="#1e1e1e" stroke-opacity="0.9" stroke-width="0.8"/>
<line x1="618.95" y1="174.73" x2="626.75" y2="174.73" stroke="#1e1e1e" stroke-width="0.7"/>
<rect x="619.25" y="162.07" width="7.2" height="12.67" fill="#A2A2A2" stroke="#1e1e1e" stroke-opacity="0.9" stroke-width="0.8"/>
<line x1="618.95" y1="162.07" x2="626.75" y2="162.07" stroke="#1e1e1e" stroke-width="0.7"/>
<rect x="619.25" y="136.73" width="7.2" height="25.33" fill="#C41010" stroke="#1e1e1e" stroke-opacity="0.9" stroke-width="0.8"/>
<line x1="618.95" y1="136.73" x2="626.75" y2="136.73" stroke="#1e1e1e" stroke-width="0.7"/>
<rect x="619.25" y="111.4" width="7.2" height="25.33" fill="#686868" stroke="#1e1e1e" stroke-opacity="0.9" stroke-width="0.8"/>
<line x1="618.95" y1="111.4" x2="626.75" y2="111.4" stroke="#1e1e1e" stroke-width="0.7"/>
<rect x="636.3" y="162.07" width="2.35" height="25.33" fill="#9aa6b6" fill-opacity="0.45"/>
<rect x="636.3" y="111.9" width="2.35" height="50.17" fill="#a8a8a8" fill-opacity="0.33"/>
<rect x="629" y="162.07" width="7.2" height="25.33" fill="#FF9900" stroke="#1e1e1e" stroke-opacity="0.9" stroke-width="0.8"/>
<line x1="628.7" y1="162.07" x2="636.5" y2="162.07" stroke="#1e1e1e" stroke-width="0.7"/>
<rect x="629" y="149.4" width="7.2" height="12.67" fill="#A2A2A2" stroke="#1e1e1e" stroke-opacity="0.9" stroke-width="0.8"/>
<line x1="628.7" y1="149.4" x2="636.5" y2="149.4" stroke="#1e1e1e" stroke-width="0.7"/>
<rect x="629" y="136.73" width="7.2" height="12.67" fill="#C41010" stroke="#1e1e1e" stroke-opacity="0.9" stroke-width="0.8"/>
<line x1="628.7" y1="136.73" x2="636.5" y2="136.73" stroke="#1e1e1e" stroke-width="0.7"/>
<rect x="629" y="111.4" width="7.2" height="25.33" fill="#686868" stroke="#1e1e1e" stroke-opacity="0.9" stroke-width="0.8"/>
<line x1="628.7" y1="111.4" x2="636.5" y2="111.4" stroke="#1e1e1e" stroke-width="0.7"/>
<rect x="646.05" y="162.07" width="2.35" height="25.33" fill="#9aa6b6" fill-opacity="0.45"/>
<rect x="646.05" y="111.9" width="2.35" height="50.17" fill="#a8a8a8" fill-opacity="0.33"/>
<rect x="638.75" y="162.07" width="7.2" height="25.33" fill="#FF9900" stroke="#1e1e1e" stroke-opacity="0.9" stroke-width="0.8"/>
<line x1="638.45" y1="162.07" x2="646.25" y2="162.07" stroke="#1e1e1e" stroke-width="0.7"/>
<rect x="638.75" y="149.4" width="7.2" height="12.67" fill="#A2A2A2" stroke="#1e1e1e" stroke-opacity="0.9" stroke-width="0.8"/>
<line x1="638.45" y1="149.4" x2="646.25" y2="149.4" stroke="#1e1e1e" stroke-width="0.7"/>
<rect x="638.75" y="124.07" width="7.2" height="25.33" fill="#C41010" stroke="#1e1e1e" stroke-opacity="0.9" stroke-width="0.8"/>
<line x1="638.45" y1="124.07" x2="646.25" y2="124.07" stroke="#1e1e1e" stroke-width="0.7"/>
<rect x="638.75" y="111.4" width="7.2" height="12.67" fill="#686868" stroke="#1e1e1e" stroke-opacity="0.9" stroke-width="0.8"/>
<line x1="638.45" y1="111.4" x2="646.25" y2="111.4" stroke="#1e1e1e" stroke-width="0.7"/>
<rect x="655.8" y="162.07" width="2.35" height="25.33" fill="#9aa6b6" fill-opacity="0.45"/>
<rect x="655.8" y="111.9" width="2.35" height="50.17" fill="#a8a8a8" fill-opacity="0.33"/>
<rect x="648.5" y="162.07" width="7.2" height="25.33" fill="#FF9900" stroke="#1e1e1e" stroke-opacity="0.9" stroke-width="0.8"/>
<line x1="648.2" y1="162.07" x2="656" y2="162.07" stroke="#1e1e1e" stroke-width="0.7"/>
<rect x="648.5" y="149.4" width="7.2" height="12.67" fill="#A2A2A2" stroke="#1e1e1e" stroke-opacity="0.9" stroke-width="0.8"/>
<line x1="648.2" y1="149.4" x2="656" y2="149.4" stroke="#1e1e1e" stroke-width="0.7"/>
<rect x="648.5" y="124.07" width="7.2" height="25.33" fill="#C41010" stroke="#1e1e1e" stroke-opacity="0.9" stroke-width="0.8"/>
<line x1="648.2" y1="124.07" x2="656" y2="124.07" stroke="#1e1e1e" stroke-width="0.7"/>
<rect x="648.5" y="111.4" width="7.2" height="12.67" fill="#686868" stroke="#1e1e1e" stroke-opacity="0.9" stroke-width="0.8"/>
<line x1="648.2" y1="111.4" x2="656" y2="111.4" stroke="#1e1e1e" stroke-width="0.7"/>
<rect x="665.55" y="162.07" width="2.35" height="25.33" fill="#9aa6b6" fill-opacity="0.45"/>
<rect x="665.55" y="111.9" width="2.35" height="50.17" fill="#a8a8a8" fill-opacity="0.33"/>
<rect x="658.25" y="162.07" width="7.2" height="25.33" fill="#FF9900" stroke="#1e1e1e" stroke-opacity="0.9" stroke-width="0.8"/>
<line x1="657.95" y1="162.07" x2="665.75" y2="162.07" stroke="#1e1e1e" stroke-width="0.7"/>
<rect x="658.25" y="149.4" width="7.2" height="12.67" fill="#A2A2A2" stroke="#1e1e1e" stroke-opacity="0.9" stroke-width="0.8"/>
<line x1="657.95" y1="149.4" x2="665.75" y2="149.4" stroke="#1e1e1e" stroke-width="0.7"/>
<rect x="658.25" y="136.73" width="7.2" height="12.67" fill="#C41010" stroke="#1e1e1e" stroke-opacity="0.9" stroke-width="0.8"/>
<line x1="657.95" y1="136.73" x2="665.75" y2="136.73" stroke="#1e1e1e" stroke-width="0.7"/>
<rect x="658.25" y="111.4" width="7.2" height="25.33" fill="#686868" stroke="#1e1e1e" stroke-opacity="0.9" stroke-width="0.8"/>
<line x1="657.95" y1="111.4" x2="665.75" y2="111.4" stroke="#1e1e1e" stroke-width="0.7"/>
<rect x="675.3" y="149.4" width="2.35" height="38" fill="#9aa6b6" fill-opacity="0.45"/>
<rect x="675.3" y="111.9" width="2.35" height="37.5" fill="#a8a8a8" fill-opacity="0.33"/>
<rect x="668" y="149.4" width="7.2" height="38" fill="#FF9900" stroke="#1e1e1e" stroke-opacity="0.9" stroke-width="0.8"/>
<line x1="667.7" y1="149.4" x2="675.5" y2="149.4" stroke="#1e1e1e" stroke-width="0.7"/>
<rect x="668" y="124.07" width="7.2" height="25.33" fill="#C41010" stroke="#1e1e1e" stroke-opacity="0.9" stroke-width="0.8"/>
<line x1="667.7" y1="124.07" x2="675.5" y2="124.07" stroke="#1e1e1e" stroke-width="0.7"/>
<rect x="668" y="111.4" width="7.2" height="12.67" fill="#686868" stroke="#1e1e1e" stroke-opacity="0.9" stroke-width="0.8"/>
<line x1="667.7" y1="111.4" x2="675.5" y2="111.4" stroke="#1e1e1e" stroke-width="0.7"/>
<rect x="685.05" y="162.07" width="2.35" height="25.33" fill="#9aa6b6" fill-opacity="0.45"/>
<rect x="685.05" y="111.9" width="2.35" height="50.17" fill="#a8a8a8" fill-opacity="0.33"/>
<rect x="677.75" y="149.4" width="7.2" height="38" fill="#FF9900" stroke="#1e1e1e" stroke-opacity="0.9" stroke-width="0.8"/>
<line x1="677.45" y1="149.4" x2="685.25" y2="149.4" stroke="#1e1e1e" stroke-width="0.7"/>
<rect x="677.75" y="124.07" width="7.2" height="25.33" fill="#A2A2A2" stroke="#1e1e1e" stroke-opacity="0.9" stroke-width="0.8"/>
<line x1="677.45" y1="124.07" x2="685.25" y2="124.07" stroke="#1e1e1e" stroke-width="0.7"/>
<rect x="677.75" y="111.4" width="7.2" height="12.67" fill="#686868" stroke="#1e1e1e" stroke-opacity="0.9" stroke-width="0.8"/>
<line x1="677.45" y1="111.4" x2="685.25" y2="111.4" stroke="#1e1e1e" stroke-width="0.7"/>
<rect x="687.5" y="162.07" width="7.2" height="25.33" fill="#FF9900" stroke="#1e1e1e" stroke-opacity="0.9" stroke-width="0.8"/>
<line x1="687.2" y1="162.07" x2="695" y2="162.07" stroke="#1e1e1e" stroke-width="0.7"/>
<rect x="687.5" y="149.4" width="7.2" height="12.67" fill="#A2A2A2" stroke="#1e1e1e" stroke-opacity="0.9" stroke-width="0.8"/>
<line x1="687.2" y1="149.4" x2="695" y2="149.4" stroke="#1e1e1e" stroke-width="0.7"/>
<rect x="687.5" y="124.07" width="7.2" height="25.33" fill="#C41010" stroke="#1e1e1e" stroke-opacity="0.9" stroke-width="0.8"/>
<line x1="687.2" y1="124.07" x2="695" y2="124.07" stroke="#1e1e1e" stroke-width="0.7"/>
<rect x="687.5" y="111.4" width="7.2" height="12.67" fill="#686868" stroke="#1e1e1e" stroke-opacity="0.9" stroke-width="0.8"/>
<line x1="687.2" y1="111.4" x2="695" y2="111.4" stroke="#1e1e1e" stroke-width="0.7"/>
<line x1="422.4" y1="187.4" x2="710.7" y2="187.4" stroke="#2e2e2e" stroke-width="1.3"/>
<text transform="translate(422.9,191.6) scale(0.9,1)" class="yt">0</text>
<line x1="422.4" y1="174.73" x2="428.4" y2="174.73" stroke="#222" stroke-width="1.25"/>
<text transform="translate(422.9,178.93) scale(0.9,1)" class="yt">1</text>
<line x1="422.4" y1="162.07" x2="428.4" y2="162.07" stroke="#222" stroke-width="1.25"/>
<text transform="translate(422.9,166.27) scale(0.9,1)" class="yt">2</text>
<line x1="422.4" y1="149.4" x2="428.4" y2="149.4" stroke="#222" stroke-width="1.25"/>
<text transform="translate(422.9,153.6) scale(0.9,1)" class="yt">3</text>
<line x1="422.4" y1="136.73" x2="428.4" y2="136.73" stroke="#222" stroke-width="1.25"/>
<text transform="translate(422.9,140.93) scale(0.9,1)" class="yt">4</text>
<line x1="422.4" y1="124.07" x2="428.4" y2="124.07" stroke="#222" stroke-width="1.25"/>
<text transform="translate(422.9,128.27) scale(0.9,1)" class="yt">5</text>
<line x1="422.4" y1="111.4" x2="428.4" y2="111.4" stroke="#222" stroke-width="1.25"/>
<text transform="translate(422.9,115.6) scale(0.9,1)" class="yt">6</text>
<text transform="translate(715.85,147.4) rotate(90)" class="fl">PG2</text>
</g>
<g>
<rect x="428.4" y="192.4" width="281.75" height="80.1" fill="#F0F0F0"/>
<path d="M428.2 192.4H710.15" stroke="#5c5c5c" stroke-width="1.15" fill="none"/>
<path d="M710.15 191.9V272.5" stroke="#4c4c4c" stroke-width="1.15" fill="none"/>
<path d="M428.4 191.9V272.5" stroke="#5a5a5a" stroke-width="1.55" fill="none"/>
<rect x="460.8" y="234.95" width="2.35" height="37.55" fill="#a8a8a8" fill-opacity="0.33"/>
<rect x="453.5" y="234.45" width="7.2" height="38.05" fill="#686868" stroke="#1e1e1e" stroke-opacity="0.9" stroke-width="0.8"/>
<line x1="453.2" y1="234.45" x2="461" y2="234.45" stroke="#1e1e1e" stroke-width="0.7"/>
<rect x="470.55" y="234.95" width="2.35" height="37.55" fill="#a8a8a8" fill-opacity="0.33"/>
<rect x="463.25" y="234.45" width="7.2" height="38.05" fill="#686868" stroke="#1e1e1e" stroke-opacity="0.9" stroke-width="0.8"/>
<line x1="462.95" y1="234.45" x2="470.75" y2="234.45" stroke="#1e1e1e" stroke-width="0.7"/>
<rect x="480.3" y="234.95" width="2.35" height="37.55" fill="#a8a8a8" fill-opacity="0.33"/>
<rect x="473" y="234.45" width="7.2" height="38.05" fill="#686868" stroke="#1e1e1e" stroke-opacity="0.9" stroke-width="0.8"/>
<line x1="472.7" y1="234.45" x2="480.5" y2="234.45" stroke="#1e1e1e" stroke-width="0.7"/>
<rect x="490.05" y="234.95" width="2.35" height="37.55" fill="#a8a8a8" fill-opacity="0.33"/>
<rect x="482.75" y="234.45" width="7.2" height="38.05" fill="#686868" stroke="#1e1e1e" stroke-opacity="0.9" stroke-width="0.8"/>
<line x1="482.45" y1="234.45" x2="490.25" y2="234.45" stroke="#1e1e1e" stroke-width="0.7"/>
<rect x="499.8" y="234.95" width="2.35" height="37.55" fill="#a8a8a8" fill-opacity="0.33"/>
<rect x="492.5" y="234.45" width="7.2" height="38.05" fill="#686868" stroke="#1e1e1e" stroke-opacity="0.9" stroke-width="0.8"/>
<line x1="492.2" y1="234.45" x2="500" y2="234.45" stroke="#1e1e1e" stroke-width="0.7"/>
<rect x="509.55" y="247.63" width="2.35" height="24.87" fill="#a8a8a8" fill-opacity="0.33"/>
<rect x="502.25" y="234.45" width="7.2" height="38.05" fill="#686868" stroke="#1e1e1e" stroke-opacity="0.9" stroke-width="0.8"/>
<line x1="501.95" y1="234.45" x2="509.75" y2="234.45" stroke="#1e1e1e" stroke-width="0.7"/>
<rect x="519.3" y="247.63" width="2.35" height="24.87" fill="#a8a8a8" fill-opacity="0.33"/>
<rect x="512" y="247.13" width="7.2" height="25.37" fill="#686868" stroke="#1e1e1e" stroke-opacity="0.9" stroke-width="0.8"/>
<line x1="511.7" y1="247.13" x2="519.5" y2="247.13" stroke="#1e1e1e" stroke-width="0.7"/>
<rect x="529.05" y="234.95" width="2.35" height="37.55" fill="#a8a8a8" fill-opacity="0.33"/>
<rect x="521.75" y="234.45" width="7.2" height="38.05" fill="#686868" stroke="#1e1e1e" stroke-opacity="0.9" stroke-width="0.8"/>
<line x1="521.45" y1="234.45" x2="529.25" y2="234.45" stroke="#1e1e1e" stroke-width="0.7"/>
<rect x="538.8" y="234.95" width="2.35" height="37.55" fill="#a8a8a8" fill-opacity="0.33"/>
<rect x="531.5" y="234.45" width="7.2" height="38.05" fill="#686868" stroke="#1e1e1e" stroke-opacity="0.9" stroke-width="0.8"/>
<line x1="531.2" y1="234.45" x2="539" y2="234.45" stroke="#1e1e1e" stroke-width="0.7"/>
<rect x="548.55" y="234.95" width="2.35" height="37.55" fill="#a8a8a8" fill-opacity="0.33"/>
<rect x="541.25" y="234.45" width="7.2" height="38.05" fill="#686868" stroke="#1e1e1e" stroke-opacity="0.9" stroke-width="0.8"/>
<line x1="540.95" y1="234.45" x2="548.75" y2="234.45" stroke="#1e1e1e" stroke-width="0.7"/>
<rect x="558.3" y="234.95" width="2.35" height="37.55" fill="#a8a8a8" fill-opacity="0.33"/>
<rect x="551" y="234.45" width="7.2" height="38.05" fill="#686868" stroke="#1e1e1e" stroke-opacity="0.9" stroke-width="0.8"/>
<line x1="550.7" y1="234.45" x2="558.5" y2="234.45" stroke="#1e1e1e" stroke-width="0.7"/>
<rect x="568.05" y="234.95" width="2.35" height="37.55" fill="#a8a8a8" fill-opacity="0.33"/>
<rect x="560.75" y="234.45" width="7.2" height="38.05" fill="#686868" stroke="#1e1e1e" stroke-opacity="0.9" stroke-width="0.8"/>
<line x1="560.45" y1="234.45" x2="568.25" y2="234.45" stroke="#1e1e1e" stroke-width="0.7"/>
<rect x="577.8" y="234.95" width="2.35" height="37.55" fill="#a8a8a8" fill-opacity="0.33"/>
<rect x="570.5" y="234.45" width="7.2" height="38.05" fill="#686868" stroke="#1e1e1e" stroke-opacity="0.9" stroke-width="0.8"/>
<line x1="570.2" y1="234.45" x2="578" y2="234.45" stroke="#1e1e1e" stroke-width="0.7"/>
<rect x="587.55" y="234.95" width="2.35" height="37.55" fill="#a8a8a8" fill-opacity="0.33"/>
<rect x="580.25" y="234.45" width="7.2" height="38.05" fill="#686868" stroke="#1e1e1e" stroke-opacity="0.9" stroke-width="0.8"/>
<line x1="579.95" y1="234.45" x2="587.75" y2="234.45" stroke="#1e1e1e" stroke-width="0.7"/>
<rect x="597.3" y="234.95" width="2.35" height="37.55" fill="#a8a8a8" fill-opacity="0.33"/>
<rect x="590" y="234.45" width="7.2" height="38.05" fill="#686868" stroke="#1e1e1e" stroke-opacity="0.9" stroke-width="0.8"/>
<line x1="589.7" y1="234.45" x2="597.5" y2="234.45" stroke="#1e1e1e" stroke-width="0.7"/>
<rect x="607.05" y="234.95" width="2.35" height="37.55" fill="#a8a8a8" fill-opacity="0.33"/>
<rect x="599.75" y="234.45" width="7.2" height="38.05" fill="#686868" stroke="#1e1e1e" stroke-opacity="0.9" stroke-width="0.8"/>
<line x1="599.45" y1="234.45" x2="607.25" y2="234.45" stroke="#1e1e1e" stroke-width="0.7"/>
<rect x="616.8" y="234.95" width="2.35" height="37.55" fill="#a8a8a8" fill-opacity="0.33"/>
<rect x="609.5" y="234.45" width="7.2" height="38.05" fill="#686868" stroke="#1e1e1e" stroke-opacity="0.9" stroke-width="0.8"/>
<line x1="609.2" y1="234.45" x2="617" y2="234.45" stroke="#1e1e1e" stroke-width="0.7"/>
<rect x="626.55" y="234.95" width="2.35" height="37.55" fill="#a8a8a8" fill-opacity="0.33"/>
<rect x="619.25" y="259.82" width="7.2" height="12.68" fill="#C41010" stroke="#1e1e1e" stroke-opacity="0.9" stroke-width="0.8"/>
<line x1="618.95" y1="259.82" x2="626.75" y2="259.82" stroke="#1e1e1e" stroke-width="0.7"/>
<rect x="619.25" y="234.45" width="7.2" height="25.37" fill="#686868" stroke="#1e1e1e" stroke-opacity="0.9" stroke-width="0.8"/>
<line x1="618.95" y1="234.45" x2="626.75" y2="234.45" stroke="#1e1e1e" stroke-width="0.7"/>
<rect x="636.3" y="234.95" width="2.35" height="37.55" fill="#a8a8a8" fill-opacity="0.33"/>
<rect x="629" y="259.82" width="7.2" height="12.68" fill="#C41010" stroke="#1e1e1e" stroke-opacity="0.9" stroke-width="0.8"/>
<line x1="628.7" y1="259.82" x2="636.5" y2="259.82" stroke="#1e1e1e" stroke-width="0.7"/>
<rect x="629" y="234.45" width="7.2" height="25.37" fill="#686868" stroke="#1e1e1e" stroke-opacity="0.9" stroke-width="0.8"/>
<line x1="628.7" y1="234.45" x2="636.5" y2="234.45" stroke="#1e1e1e" stroke-width="0.7"/>
<rect x="646.05" y="234.95" width="2.35" height="37.55" fill="#a8a8a8" fill-opacity="0.33"/>
<rect x="638.75" y="259.82" width="7.2" height="12.68" fill="#C41010" stroke="#1e1e1e" stroke-opacity="0.9" stroke-width="0.8"/>
<line x1="638.45" y1="259.82" x2="646.25" y2="259.82" stroke="#1e1e1e" stroke-width="0.7"/>
<rect x="638.75" y="234.45" width="7.2" height="25.37" fill="#686868" stroke="#1e1e1e" stroke-opacity="0.9" stroke-width="0.8"/>
<line x1="638.45" y1="234.45" x2="646.25" y2="234.45" stroke="#1e1e1e" stroke-width="0.7"/>
<rect x="655.8" y="234.95" width="2.35" height="37.55" fill="#a8a8a8" fill-opacity="0.33"/>
<rect x="648.5" y="259.82" width="7.2" height="12.68" fill="#C41010" stroke="#1e1e1e" stroke-opacity="0.9" stroke-width="0.8"/>
<line x1="648.2" y1="259.82" x2="656" y2="259.82" stroke="#1e1e1e" stroke-width="0.7"/>
<rect x="648.5" y="234.45" width="7.2" height="25.37" fill="#686868" stroke="#1e1e1e" stroke-opacity="0.9" stroke-width="0.8"/>
<line x1="648.2" y1="234.45" x2="656" y2="234.45" stroke="#1e1e1e" stroke-width="0.7"/>
<rect x="665.55" y="234.95" width="2.35" height="37.55" fill="#a8a8a8" fill-opacity="0.33"/>
<rect x="658.25" y="259.82" width="7.2" height="12.68" fill="#A2A2A2" stroke="#1e1e1e" stroke-opacity="0.9" stroke-width="0.8"/>
<line x1="657.95" y1="259.82" x2="665.75" y2="259.82" stroke="#1e1e1e" stroke-width="0.7"/>
<rect x="658.25" y="234.45" width="7.2" height="25.37" fill="#686868" stroke="#1e1e1e" stroke-opacity="0.9" stroke-width="0.8"/>
<line x1="657.95" y1="234.45" x2="665.75" y2="234.45" stroke="#1e1e1e" stroke-width="0.7"/>
<rect x="668" y="259.82" width="7.2" height="12.68" fill="#A2A2A2" stroke="#1e1e1e" stroke-opacity="0.9" stroke-width="0.8"/>
<line x1="667.7" y1="259.82" x2="675.5" y2="259.82" stroke="#1e1e1e" stroke-width="0.7"/>
<rect x="668" y="247.13" width="7.2" height="12.68" fill="#C41010" stroke="#1e1e1e" stroke-opacity="0.9" stroke-width="0.8"/>
<line x1="667.7" y1="247.13" x2="675.5" y2="247.13" stroke="#1e1e1e" stroke-width="0.7"/>
<rect x="668" y="234.45" width="7.2" height="12.68" fill="#686868" stroke="#1e1e1e" stroke-opacity="0.9" stroke-width="0.8"/>
<line x1="667.7" y1="234.45" x2="675.5" y2="234.45" stroke="#1e1e1e" stroke-width="0.7"/>
<line x1="422.4" y1="272.5" x2="710.7" y2="272.5" stroke="#2e2e2e" stroke-width="1.3"/>
<text transform="translate(422.9,276.7) scale(0.9,1)" class="yt">0</text>
<line x1="422.4" y1="259.82" x2="428.4" y2="259.82" stroke="#222" stroke-width="1.25"/>
<text transform="translate(422.9,264.02) scale(0.9,1)" class="yt">1</text>
<line x1="422.4" y1="247.13" x2="428.4" y2="247.13" stroke="#222" stroke-width="1.25"/>
<text transform="translate(422.9,251.33) scale(0.9,1)" class="yt">2</text>
<line x1="422.4" y1="234.45" x2="428.4" y2="234.45" stroke="#222" stroke-width="1.25"/>
<text transform="translate(422.9,238.65) scale(0.9,1)" class="yt">3</text>
<line x1="422.4" y1="221.77" x2="428.4" y2="221.77" stroke="#222" stroke-width="1.25"/>
<text transform="translate(422.9,225.97) scale(0.9,1)" class="yt">4</text>
<line x1="422.4" y1="209.08" x2="428.4" y2="209.08" stroke="#222" stroke-width="1.25"/>
<text transform="translate(422.9,213.28) scale(0.9,1)" class="yt">5</text>
<line x1="422.4" y1="196.4" x2="428.4" y2="196.4" stroke="#222" stroke-width="1.25"/>
<text transform="translate(422.9,200.6) scale(0.9,1)" class="yt">6</text>
<text transform="translate(715.85,232.45) rotate(90)" class="fl">PLM_U</text>
</g>
<g>
<rect x="428.4" y="277.4" width="281.75" height="80.2" fill="#F0F0F0"/>
<path d="M428.2 277.4H710.15" stroke="#5c5c5c" stroke-width="1.15" fill="none"/>
<path d="M710.15 276.9V357.6" stroke="#4c4c4c" stroke-width="1.15" fill="none"/>
<path d="M428.4 276.9V357.6" stroke="#5a5a5a" stroke-width="1.55" fill="none"/>
<rect x="460.8" y="320" width="2.35" height="37.6" fill="#a8a8a8" fill-opacity="0.33"/>
<rect x="453.5" y="344.9" width="7.2" height="12.7" fill="#A2A2A2" stroke="#1e1e1e" stroke-opacity="0.9" stroke-width="0.8"/>
<line x1="453.2" y1="344.9" x2="461" y2="344.9" stroke="#1e1e1e" stroke-width="0.7"/>
<rect x="453.5" y="319.5" width="7.2" height="25.4" fill="#686868" stroke="#1e1e1e" stroke-opacity="0.9" stroke-width="0.8"/>
<line x1="453.2" y1="319.5" x2="461" y2="319.5" stroke="#1e1e1e" stroke-width="0.7"/>
<rect x="470.55" y="320" width="2.35" height="37.6" fill="#a8a8a8" fill-opacity="0.33"/>
<rect x="463.25" y="344.9" width="7.2" height="12.7" fill="#C41010" stroke="#1e1e1e" stroke-opacity="0.9" stroke-width="0.8"/>
<line x1="462.95" y1="344.9" x2="470.75" y2="344.9" stroke="#1e1e1e" stroke-width="0.7"/>
<rect x="463.25" y="319.5" width="7.2" height="25.4" fill="#686868" stroke="#1e1e1e" stroke-opacity="0.9" stroke-width="0.8"/>
<line x1="462.95" y1="319.5" x2="470.75" y2="319.5" stroke="#1e1e1e" stroke-width="0.7"/>
<rect x="480.3" y="320" width="2.35" height="37.6" fill="#a8a8a8" fill-opacity="0.33"/>
<rect x="473" y="344.9" width="7.2" height="12.7" fill="#A2A2A2" stroke="#1e1e1e" stroke-opacity="0.9" stroke-width="0.8"/>
<line x1="472.7" y1="344.9" x2="480.5" y2="344.9" stroke="#1e1e1e" stroke-width="0.7"/>
<rect x="473" y="319.5" width="7.2" height="25.4" fill="#686868" stroke="#1e1e1e" stroke-opacity="0.9" stroke-width="0.8"/>
<line x1="472.7" y1="319.5" x2="480.5" y2="319.5" stroke="#1e1e1e" stroke-width="0.7"/>
<rect x="490.05" y="320" width="2.35" height="37.6" fill="#a8a8a8" fill-opacity="0.33"/>
<rect x="482.75" y="319.5" width="7.2" height="38.1" fill="#686868" stroke="#1e1e1e" stroke-opacity="0.9" stroke-width="0.8"/>
<line x1="482.45" y1="319.5" x2="490.25" y2="319.5" stroke="#1e1e1e" stroke-width="0.7"/>
<rect x="499.8" y="320" width="2.35" height="37.6" fill="#a8a8a8" fill-opacity="0.33"/>
<rect x="492.5" y="319.5" width="7.2" height="38.1" fill="#686868" stroke="#1e1e1e" stroke-opacity="0.9" stroke-width="0.8"/>
<line x1="492.2" y1="319.5" x2="500" y2="319.5" stroke="#1e1e1e" stroke-width="0.7"/>
<rect x="509.55" y="320" width="2.35" height="37.6" fill="#a8a8a8" fill-opacity="0.33"/>
<rect x="502.25" y="319.5" width="7.2" height="38.1" fill="#686868" stroke="#1e1e1e" stroke-opacity="0.9" stroke-width="0.8"/>
<line x1="501.95" y1="319.5" x2="509.75" y2="319.5" stroke="#1e1e1e" stroke-width="0.7"/>
<rect x="519.3" y="320" width="2.35" height="37.6" fill="#a8a8a8" fill-opacity="0.33"/>
<rect x="512" y="319.5" width="7.2" height="38.1" fill="#686868" stroke="#1e1e1e" stroke-opacity="0.9" stroke-width="0.8"/>
<line x1="511.7" y1="319.5" x2="519.5" y2="319.5" stroke="#1e1e1e" stroke-width="0.7"/>
<rect x="529.05" y="320" width="2.35" height="37.6" fill="#a8a8a8" fill-opacity="0.33"/>
<rect x="521.75" y="319.5" width="7.2" height="38.1" fill="#686868" stroke="#1e1e1e" stroke-opacity="0.9" stroke-width="0.8"/>
<line x1="521.45" y1="319.5" x2="529.25" y2="319.5" stroke="#1e1e1e" stroke-width="0.7"/>
<rect x="538.8" y="320" width="2.35" height="37.6" fill="#a8a8a8" fill-opacity="0.33"/>
<rect x="531.5" y="319.5" width="7.2" height="38.1" fill="#686868" stroke="#1e1e1e" stroke-opacity="0.9" stroke-width="0.8"/>
<line x1="531.2" y1="319.5" x2="539" y2="319.5" stroke="#1e1e1e" stroke-width="0.7"/>
<rect x="548.55" y="320" width="2.35" height="37.6" fill="#a8a8a8" fill-opacity="0.33"/>
<rect x="541.25" y="319.5" width="7.2" height="38.1" fill="#686868" stroke="#1e1e1e" stroke-opacity="0.9" stroke-width="0.8"/>
<line x1="540.95" y1="319.5" x2="548.75" y2="319.5" stroke="#1e1e1e" stroke-width="0.7"/>
<rect x="558.3" y="320" width="2.35" height="37.6" fill="#a8a8a8" fill-opacity="0.33"/>
<rect x="551" y="319.5" width="7.2" height="38.1" fill="#686868" stroke="#1e1e1e" stroke-opacity="0.9" stroke-width="0.8"/>
<line x1="550.7" y1="319.5" x2="558.5" y2="319.5" stroke="#1e1e1e" stroke-width="0.7"/>
<rect x="568.05" y="320" width="2.35" height="37.6" fill="#a8a8a8" fill-opacity="0.33"/>
<rect x="560.75" y="344.9" width="7.2" height="12.7" fill="#C41010" stroke="#1e1e1e" stroke-opacity="0.9" stroke-width="0.8"/>
<line x1="560.45" y1="344.9" x2="568.25" y2="344.9" stroke="#1e1e1e" stroke-width="0.7"/>
<rect x="560.75" y="319.5" width="7.2" height="25.4" fill="#686868" stroke="#1e1e1e" stroke-opacity="0.9" stroke-width="0.8"/>
<line x1="560.45" y1="319.5" x2="568.25" y2="319.5" stroke="#1e1e1e" stroke-width="0.7"/>
<rect x="577.8" y="344.9" width="2.35" height="12.7" fill="#9aa6b6" fill-opacity="0.45"/>
<rect x="577.8" y="320" width="2.35" height="24.9" fill="#a8a8a8" fill-opacity="0.33"/>
<rect x="570.5" y="344.9" width="7.2" height="12.7" fill="#FF9900" stroke="#1e1e1e" stroke-opacity="0.9" stroke-width="0.8"/>
<line x1="570.2" y1="344.9" x2="578" y2="344.9" stroke="#1e1e1e" stroke-width="0.7"/>
<rect x="570.5" y="319.5" width="7.2" height="25.4" fill="#686868" stroke="#1e1e1e" stroke-opacity="0.9" stroke-width="0.8"/>
<line x1="570.2" y1="319.5" x2="578" y2="319.5" stroke="#1e1e1e" stroke-width="0.7"/>
<rect x="587.55" y="344.9" width="2.35" height="12.7" fill="#9aa6b6" fill-opacity="0.45"/>
<rect x="587.55" y="320" width="2.35" height="24.9" fill="#a8a8a8" fill-opacity="0.33"/>
<rect x="580.25" y="344.9" width="7.2" height="12.7" fill="#FF9900" stroke="#1e1e1e" stroke-opacity="0.9" stroke-width="0.8"/>
<line x1="579.95" y1="344.9" x2="587.75" y2="344.9" stroke="#1e1e1e" stroke-width="0.7"/>
<rect x="580.25" y="319.5" width="7.2" height="25.4" fill="#686868" stroke="#1e1e1e" stroke-opacity="0.9" stroke-width="0.8"/>
<line x1="579.95" y1="319.5" x2="587.75" y2="319.5" stroke="#1e1e1e" stroke-width="0.7"/>
<rect x="597.3" y="332.2" width="2.35" height="25.4" fill="#9aa6b6" fill-opacity="0.45"/>
<rect x="597.3" y="320" width="2.35" height="12.2" fill="#a8a8a8" fill-opacity="0.33"/>
<rect x="590" y="332.2" width="7.2" height="25.4" fill="#FF9900" stroke="#1e1e1e" stroke-opacity="0.9" stroke-width="0.8"/>
<line x1="589.7" y1="332.2" x2="597.5" y2="332.2" stroke="#1e1e1e" stroke-width="0.7"/>
<rect x="590" y="319.5" width="7.2" height="12.7" fill="#686868" stroke="#1e1e1e" stroke-opacity="0.9" stroke-width="0.8"/>
<line x1="589.7" y1="319.5" x2="597.5" y2="319.5" stroke="#1e1e1e" stroke-width="0.7"/>
<rect x="607.05" y="332.2" width="2.35" height="25.4" fill="#9aa6b6" fill-opacity="0.45"/>
<rect x="607.05" y="320" width="2.35" height="12.2" fill="#a8a8a8" fill-opacity="0.33"/>
<rect x="599.75" y="332.2" width="7.2" height="25.4" fill="#FF9900" stroke="#1e1e1e" stroke-opacity="0.9" stroke-width="0.8"/>
<line x1="599.45" y1="332.2" x2="607.25" y2="332.2" stroke="#1e1e1e" stroke-width="0.7"/>
<rect x="599.75" y="319.5" width="7.2" height="12.7" fill="#686868" stroke="#1e1e1e" stroke-opacity="0.9" stroke-width="0.8"/>
<line x1="599.45" y1="319.5" x2="607.25" y2="319.5" stroke="#1e1e1e" stroke-width="0.7"/>
<rect x="616.8" y="332.2" width="2.35" height="25.4" fill="#9aa6b6" fill-opacity="0.45"/>
<rect x="616.8" y="320" width="2.35" height="12.2" fill="#a8a8a8" fill-opacity="0.33"/>
<rect x="609.5" y="332.2" width="7.2" height="25.4" fill="#FF9900" stroke="#1e1e1e" stroke-opacity="0.9" stroke-width="0.8"/>
<line x1="609.2" y1="332.2" x2="617" y2="332.2" stroke="#1e1e1e" stroke-width="0.7"/>
<rect x="609.5" y="319.5" width="7.2" height="12.7" fill="#686868" stroke="#1e1e1e" stroke-opacity="0.9" stroke-width="0.8"/>
<line x1="609.2" y1="319.5" x2="617" y2="319.5" stroke="#1e1e1e" stroke-width="0.7"/>
<rect x="626.55" y="332.2" width="2.35" height="25.4" fill="#9aa6b6" fill-opacity="0.45"/>
<rect x="626.55" y="320" width="2.35" height="12.2" fill="#a8a8a8" fill-opacity="0.33"/>
<rect x="619.25" y="332.2" width="7.2" height="25.4" fill="#FF9900" stroke="#1e1e1e" stroke-opacity="0.9" stroke-width="0.8"/>
<line x1="618.95" y1="332.2" x2="626.75" y2="332.2" stroke="#1e1e1e" stroke-width="0.7"/>
<rect x="619.25" y="319.5" width="7.2" height="12.7" fill="#686868" stroke="#1e1e1e" stroke-opacity="0.9" stroke-width="0.8"/>
<line x1="618.95" y1="319.5" x2="626.75" y2="319.5" stroke="#1e1e1e" stroke-width="0.7"/>
<rect x="636.3" y="332.2" width="2.35" height="25.4" fill="#9aa6b6" fill-opacity="0.45"/>
<rect x="636.3" y="320" width="2.35" height="12.2" fill="#a8a8a8" fill-opacity="0.33"/>
<rect x="629" y="332.2" width="7.2" height="25.4" fill="#FF9900" stroke="#1e1e1e" stroke-opacity="0.9" stroke-width="0.8"/>
<line x1="628.7" y1="332.2" x2="636.5" y2="332.2" stroke="#1e1e1e" stroke-width="0.7"/>
<rect x="629" y="319.5" width="7.2" height="12.7" fill="#686868" stroke="#1e1e1e" stroke-opacity="0.9" stroke-width="0.8"/>
<line x1="628.7" y1="319.5" x2="636.5" y2="319.5" stroke="#1e1e1e" stroke-width="0.7"/>
<rect x="646.05" y="332.2" width="2.35" height="25.4" fill="#9aa6b6" fill-opacity="0.45"/>
<rect x="646.05" y="320" width="2.35" height="12.2" fill="#a8a8a8" fill-opacity="0.33"/>
<rect x="638.75" y="332.2" width="7.2" height="25.4" fill="#FF9900" stroke="#1e1e1e" stroke-opacity="0.9" stroke-width="0.8"/>
<line x1="638.45" y1="332.2" x2="646.25" y2="332.2" stroke="#1e1e1e" stroke-width="0.7"/>
<rect x="638.75" y="319.5" width="7.2" height="12.7" fill="#686868" stroke="#1e1e1e" stroke-opacity="0.9" stroke-width="0.8"/>
<line x1="638.45" y1="319.5" x2="646.25" y2="319.5" stroke="#1e1e1e" stroke-width="0.7"/>
<rect x="655.8" y="332.2" width="2.35" height="25.4" fill="#9aa6b6" fill-opacity="0.45"/>
<rect x="655.8" y="320" width="2.35" height="12.2" fill="#a8a8a8" fill-opacity="0.33"/>
<rect x="648.5" y="332.2" width="7.2" height="25.4" fill="#FF9900" stroke="#1e1e1e" stroke-opacity="0.9" stroke-width="0.8"/>
<line x1="648.2" y1="332.2" x2="656" y2="332.2" stroke="#1e1e1e" stroke-width="0.7"/>
<rect x="648.5" y="319.5" width="7.2" height="12.7" fill="#686868" stroke="#1e1e1e" stroke-opacity="0.9" stroke-width="0.8"/>
<line x1="648.2" y1="319.5" x2="656" y2="319.5" stroke="#1e1e1e" stroke-width="0.7"/>
<rect x="665.55" y="332.2" width="2.35" height="25.4" fill="#9aa6b6" fill-opacity="0.45"/>
<rect x="665.55" y="320" width="2.35" height="12.2" fill="#a8a8a8" fill-opacity="0.33"/>
<rect x="658.25" y="332.2" width="7.2" height="25.4" fill="#FF9900" stroke="#1e1e1e" stroke-opacity="0.9" stroke-width="0.8"/>
<line x1="657.95" y1="332.2" x2="665.75" y2="332.2" stroke="#1e1e1e" stroke-width="0.7"/>
<rect x="658.25" y="319.5" width="7.2" height="12.7" fill="#686868" stroke="#1e1e1e" stroke-opacity="0.9" stroke-width="0.8"/>
<line x1="657.95" y1="319.5" x2="665.75" y2="319.5" stroke="#1e1e1e" stroke-width="0.7"/>
<rect x="668" y="332.2" width="7.2" height="25.4" fill="#FF9900" stroke="#1e1e1e" stroke-opacity="0.9" stroke-width="0.8"/>
<line x1="667.7" y1="332.2" x2="675.5" y2="332.2" stroke="#1e1e1e" stroke-width="0.7"/>
<rect x="668" y="319.5" width="7.2" height="12.7" fill="#686868" stroke="#1e1e1e" stroke-opacity="0.9" stroke-width="0.8"/>
<line x1="667.7" y1="319.5" x2="675.5" y2="319.5" stroke="#1e1e1e" stroke-width="0.7"/>
<line x1="422.4" y1="357.6" x2="710.7" y2="357.6" stroke="#2e2e2e" stroke-width="1.3"/>
<text transform="translate(422.9,361.8) scale(0.9,1)" class="yt">0</text>
<line x1="422.4" y1="344.9" x2="428.4" y2="344.9" stroke="#222" stroke-width="1.25"/>
<text transform="translate(422.9,349.1) scale(0.9,1)" class="yt">1</text>
<line x1="422.4" y1="332.2" x2="428.4" y2="332.2" stroke="#222" stroke-width="1.25"/>
<text transform="translate(422.9,336.4) scale(0.9,1)" class="yt">2</text>
<line x1="422.4" y1="319.5" x2="428.4" y2="319.5" stroke="#222" stroke-width="1.25"/>
<text transform="translate(422.9,323.7) scale(0.9,1)" class="yt">3</text>
<line x1="422.4" y1="306.8" x2="428.4" y2="306.8" stroke="#222" stroke-width="1.25"/>
<text transform="translate(422.9,311) scale(0.9,1)" class="yt">4</text>
<line x1="422.4" y1="294.1" x2="428.4" y2="294.1" stroke="#222" stroke-width="1.25"/>
<text transform="translate(422.9,298.3) scale(0.9,1)" class="yt">5</text>
<line x1="422.4" y1="281.4" x2="428.4" y2="281.4" stroke="#222" stroke-width="1.25"/>
<text transform="translate(422.9,285.6) scale(0.9,1)" class="yt">6</text>
<text transform="translate(715.85,317.5) rotate(90)" class="fl">PLM_V</text>
</g>
<g>
<rect x="428.4" y="362.4" width="281.75" height="80.1" fill="#F0F0F0"/>
<path d="M428.2 362.4H710.15" stroke="#5c5c5c" stroke-width="1.15" fill="none"/>
<path d="M710.15 361.9V442.5" stroke="#4c4c4c" stroke-width="1.15" fill="none"/>
<path d="M428.4 361.9V442.5" stroke="#5a5a5a" stroke-width="1.55" fill="none"/>
<rect x="451.05" y="404.95" width="2.35" height="37.55" fill="#a8a8a8" fill-opacity="0.33"/>
<rect x="443.75" y="404.45" width="7.2" height="38.05" fill="#686868" stroke="#1e1e1e" stroke-opacity="0.9" stroke-width="0.8"/>
<line x1="443.45" y1="404.45" x2="451.25" y2="404.45" stroke="#1e1e1e" stroke-width="0.7"/>
<rect x="460.8" y="404.95" width="2.35" height="37.55" fill="#a8a8a8" fill-opacity="0.33"/>
<rect x="453.5" y="404.45" width="7.2" height="38.05" fill="#686868" stroke="#1e1e1e" stroke-opacity="0.9" stroke-width="0.8"/>
<line x1="453.2" y1="404.45" x2="461" y2="404.45" stroke="#1e1e1e" stroke-width="0.7"/>
<rect x="470.55" y="404.95" width="2.35" height="37.55" fill="#a8a8a8" fill-opacity="0.33"/>
<rect x="463.25" y="404.45" width="7.2" height="38.05" fill="#686868" stroke="#1e1e1e" stroke-opacity="0.9" stroke-width="0.8"/>
<line x1="462.95" y1="404.45" x2="470.75" y2="404.45" stroke="#1e1e1e" stroke-width="0.7"/>
<rect x="480.3" y="404.95" width="2.35" height="37.55" fill="#a8a8a8" fill-opacity="0.33"/>
<rect x="473" y="404.45" width="7.2" height="38.05" fill="#686868" stroke="#1e1e1e" stroke-opacity="0.9" stroke-width="0.8"/>
<line x1="472.7" y1="404.45" x2="480.5" y2="404.45" stroke="#1e1e1e" stroke-width="0.7"/>
<rect x="490.05" y="404.95" width="2.35" height="37.55" fill="#a8a8a8" fill-opacity="0.33"/>
<rect x="482.75" y="404.45" width="7.2" height="38.05" fill="#686868" stroke="#1e1e1e" stroke-opacity="0.9" stroke-width="0.8"/>
<line x1="482.45" y1="404.45" x2="490.25" y2="404.45" stroke="#1e1e1e" stroke-width="0.7"/>
<rect x="499.8" y="404.95" width="2.35" height="37.55" fill="#a8a8a8" fill-opacity="0.33"/>
<rect x="492.5" y="404.45" width="7.2" height="38.05" fill="#686868" stroke="#1e1e1e" stroke-opacity="0.9" stroke-width="0.8"/>
<line x1="492.2" y1="404.45" x2="500" y2="404.45" stroke="#1e1e1e" stroke-width="0.7"/>
<rect x="509.55" y="404.95" width="2.35" height="37.55" fill="#a8a8a8" fill-opacity="0.33"/>
<rect x="502.25" y="404.45" width="7.2" height="38.05" fill="#686868" stroke="#1e1e1e" stroke-opacity="0.9" stroke-width="0.8"/>
<line x1="501.95" y1="404.45" x2="509.75" y2="404.45" stroke="#1e1e1e" stroke-width="0.7"/>
<rect x="519.3" y="404.95" width="2.35" height="37.55" fill="#a8a8a8" fill-opacity="0.33"/>
<rect x="512" y="404.45" width="7.2" height="38.05" fill="#686868" stroke="#1e1e1e" stroke-opacity="0.9" stroke-width="0.8"/>
<line x1="511.7" y1="404.45" x2="519.5" y2="404.45" stroke="#1e1e1e" stroke-width="0.7"/>
<rect x="529.05" y="404.95" width="2.35" height="37.55" fill="#a8a8a8" fill-opacity="0.33"/>
<rect x="521.75" y="404.45" width="7.2" height="38.05" fill="#686868" stroke="#1e1e1e" stroke-opacity="0.9" stroke-width="0.8"/>
<line x1="521.45" y1="404.45" x2="529.25" y2="404.45" stroke="#1e1e1e" stroke-width="0.7"/>
<rect x="538.8" y="404.95" width="2.35" height="37.55" fill="#a8a8a8" fill-opacity="0.33"/>
<rect x="531.5" y="429.82" width="7.2" height="12.68" fill="#C41010" stroke="#1e1e1e" stroke-opacity="0.9" stroke-width="0.8"/>
<line x1="531.2" y1="429.82" x2="539" y2="429.82" stroke="#1e1e1e" stroke-width="0.7"/>
<rect x="531.5" y="404.45" width="7.2" height="25.37" fill="#686868" stroke="#1e1e1e" stroke-opacity="0.9" stroke-width="0.8"/>
<line x1="531.2" y1="404.45" x2="539" y2="404.45" stroke="#1e1e1e" stroke-width="0.7"/>
<rect x="548.55" y="404.95" width="2.35" height="37.55" fill="#a8a8a8" fill-opacity="0.33"/>
<rect x="541.25" y="404.45" width="7.2" height="38.05" fill="#686868" stroke="#1e1e1e" stroke-opacity="0.9" stroke-width="0.8"/>
<line x1="540.95" y1="404.45" x2="548.75" y2="404.45" stroke="#1e1e1e" stroke-width="0.7"/>
<rect x="558.3" y="404.95" width="2.35" height="37.55" fill="#a8a8a8" fill-opacity="0.33"/>
<rect x="551" y="404.45" width="7.2" height="38.05" fill="#686868" stroke="#1e1e1e" stroke-opacity="0.9" stroke-width="0.8"/>
<line x1="550.7" y1="404.45" x2="558.5" y2="404.45" stroke="#1e1e1e" stroke-width="0.7"/>
<rect x="568.05" y="404.95" width="2.35" height="37.55" fill="#a8a8a8" fill-opacity="0.33"/>
<rect x="560.75" y="404.45" width="7.2" height="38.05" fill="#686868" stroke="#1e1e1e" stroke-opacity="0.9" stroke-width="0.8"/>
<line x1="560.45" y1="404.45" x2="568.25" y2="404.45" stroke="#1e1e1e" stroke-width="0.7"/>
<rect x="577.8" y="404.95" width="2.35" height="37.55" fill="#a8a8a8" fill-opacity="0.33"/>
<rect x="570.5" y="404.45" width="7.2" height="38.05" fill="#686868" stroke="#1e1e1e" stroke-opacity="0.9" stroke-width="0.8"/>
<line x1="570.2" y1="404.45" x2="578" y2="404.45" stroke="#1e1e1e" stroke-width="0.7"/>
<rect x="587.55" y="404.95" width="2.35" height="37.55" fill="#a8a8a8" fill-opacity="0.33"/>
<rect x="580.25" y="404.45" width="7.2" height="38.05" fill="#686868" stroke="#1e1e1e" stroke-opacity="0.9" stroke-width="0.8"/>
<line x1="579.95" y1="404.45" x2="587.75" y2="404.45" stroke="#1e1e1e" stroke-width="0.7"/>
<rect x="597.3" y="404.95" width="2.35" height="37.55" fill="#a8a8a8" fill-opacity="0.33"/>
<rect x="590" y="404.45" width="7.2" height="38.05" fill="#686868" stroke="#1e1e1e" stroke-opacity="0.9" stroke-width="0.8"/>
<line x1="589.7" y1="404.45" x2="597.5" y2="404.45" stroke="#1e1e1e" stroke-width="0.7"/>
<rect x="607.05" y="404.95" width="2.35" height="37.55" fill="#a8a8a8" fill-opacity="0.33"/>
<rect x="599.75" y="404.45" width="7.2" height="38.05" fill="#686868" stroke="#1e1e1e" stroke-opacity="0.9" stroke-width="0.8"/>
<line x1="599.45" y1="404.45" x2="607.25" y2="404.45" stroke="#1e1e1e" stroke-width="0.7"/>
<rect x="616.8" y="404.95" width="2.35" height="37.55" fill="#a8a8a8" fill-opacity="0.33"/>
<rect x="609.5" y="404.45" width="7.2" height="38.05" fill="#686868" stroke="#1e1e1e" stroke-opacity="0.9" stroke-width="0.8"/>
<line x1="609.2" y1="404.45" x2="617" y2="404.45" stroke="#1e1e1e" stroke-width="0.7"/>
<rect x="626.55" y="404.95" width="2.35" height="37.55" fill="#a8a8a8" fill-opacity="0.33"/>
<rect x="619.25" y="404.45" width="7.2" height="38.05" fill="#686868" stroke="#1e1e1e" stroke-opacity="0.9" stroke-width="0.8"/>
<line x1="618.95" y1="404.45" x2="626.75" y2="404.45" stroke="#1e1e1e" stroke-width="0.7"/>
<rect x="636.3" y="404.95" width="2.35" height="37.55" fill="#a8a8a8" fill-opacity="0.33"/>
<rect x="629" y="429.82" width="7.2" height="12.68" fill="#A2A2A2" stroke="#1e1e1e" stroke-opacity="0.9" stroke-width="0.8"/>
<line x1="628.7" y1="429.82" x2="636.5" y2="429.82" stroke="#1e1e1e" stroke-width="0.7"/>
<rect x="629" y="404.45" width="7.2" height="25.37" fill="#C41010" stroke="#1e1e1e" stroke-opacity="0.9" stroke-width="0.8"/>
<line x1="628.7" y1="404.45" x2="636.5" y2="404.45" stroke="#1e1e1e" stroke-width="0.7"/>
<rect x="646.05" y="404.95" width="2.35" height="37.55" fill="#a8a8a8" fill-opacity="0.33"/>
<rect x="638.75" y="429.82" width="7.2" height="12.68" fill="#A2A2A2" stroke="#1e1e1e" stroke-opacity="0.9" stroke-width="0.8"/>
<line x1="638.45" y1="429.82" x2="646.25" y2="429.82" stroke="#1e1e1e" stroke-width="0.7"/>
<rect x="638.75" y="417.13" width="7.2" height="12.68" fill="#C41010" stroke="#1e1e1e" stroke-opacity="0.9" stroke-width="0.8"/>
<line x1="638.45" y1="417.13" x2="646.25" y2="417.13" stroke="#1e1e1e" stroke-width="0.7"/>
<rect x="638.75" y="404.45" width="7.2" height="12.68" fill="#686868" stroke="#1e1e1e" stroke-opacity="0.9" stroke-width="0.8"/>
<line x1="638.45" y1="404.45" x2="646.25" y2="404.45" stroke="#1e1e1e" stroke-width="0.7"/>
<rect x="655.8" y="404.95" width="2.35" height="37.55" fill="#a8a8a8" fill-opacity="0.33"/>
<rect x="648.5" y="429.82" width="7.2" height="12.68" fill="#A2A2A2" stroke="#1e1e1e" stroke-opacity="0.9" stroke-width="0.8"/>
<line x1="648.2" y1="429.82" x2="656" y2="429.82" stroke="#1e1e1e" stroke-width="0.7"/>
<rect x="648.5" y="404.45" width="7.2" height="25.37" fill="#686868" stroke="#1e1e1e" stroke-opacity="0.9" stroke-width="0.8"/>
<line x1="648.2" y1="404.45" x2="656" y2="404.45" stroke="#1e1e1e" stroke-width="0.7"/>
<rect x="665.55" y="404.95" width="2.35" height="37.55" fill="#a8a8a8" fill-opacity="0.33"/>
<rect x="658.25" y="429.82" width="7.2" height="12.68" fill="#A2A2A2" stroke="#1e1e1e" stroke-opacity="0.9" stroke-width="0.8"/>
<line x1="657.95" y1="429.82" x2="665.75" y2="429.82" stroke="#1e1e1e" stroke-width="0.7"/>
<rect x="658.25" y="404.45" width="7.2" height="25.37" fill="#686868" stroke="#1e1e1e" stroke-opacity="0.9" stroke-width="0.8"/>
<line x1="657.95" y1="404.45" x2="665.75" y2="404.45" stroke="#1e1e1e" stroke-width="0.7"/>
<rect x="675.3" y="404.95" width="2.35" height="37.55" fill="#a8a8a8" fill-opacity="0.33"/>
<rect x="668" y="429.82" width="7.2" height="12.68" fill="#C41010" stroke="#1e1e1e" stroke-opacity="0.9" stroke-width="0.8"/>
<line x1="667.7" y1="429.82" x2="675.5" y2="429.82" stroke="#1e1e1e" stroke-width="0.7"/>
<rect x="668" y="404.45" width="7.2" height="25.37" fill="#686868" stroke="#1e1e1e" stroke-opacity="0.9" stroke-width="0.8"/>
<line x1="667.7" y1="404.45" x2="675.5" y2="404.45" stroke="#1e1e1e" stroke-width="0.7"/>
<rect x="677.75" y="429.82" width="7.2" height="12.68" fill="#C41010" stroke="#1e1e1e" stroke-opacity="0.9" stroke-width="0.8"/>
<line x1="677.45" y1="429.82" x2="685.25" y2="429.82" stroke="#1e1e1e" stroke-width="0.7"/>
<rect x="677.75" y="404.45" width="7.2" height="25.37" fill="#686868" stroke="#1e1e1e" stroke-opacity="0.9" stroke-width="0.8"/>
<line x1="677.45" y1="404.45" x2="685.25" y2="404.45" stroke="#1e1e1e" stroke-width="0.7"/>
<line x1="422.4" y1="442.5" x2="710.7" y2="442.5" stroke="#2e2e2e" stroke-width="1.3"/>
<text transform="translate(422.9,446.7) scale(0.9,1)" class="yt">0</text>
<line x1="422.4" y1="429.82" x2="428.4" y2="429.82" stroke="#222" stroke-width="1.25"/>
<text transform="translate(422.9,434.02) scale(0.9,1)" class="yt">1</text>
<line x1="422.4" y1="417.13" x2="428.4" y2="417.13" stroke="#222" stroke-width="1.25"/>
<text transform="translate(422.9,421.33) scale(0.9,1)" class="yt">2</text>
<line x1="422.4" y1="404.45" x2="428.4" y2="404.45" stroke="#222" stroke-width="1.25"/>
<text transform="translate(422.9,408.65) scale(0.9,1)" class="yt">3</text>
<line x1="422.4" y1="391.77" x2="428.4" y2="391.77" stroke="#222" stroke-width="1.25"/>
<text transform="translate(422.9,395.97) scale(0.9,1)" class="yt">4</text>
<line x1="422.4" y1="379.08" x2="428.4" y2="379.08" stroke="#222" stroke-width="1.25"/>
<text transform="translate(422.9,383.28) scale(0.9,1)" class="yt">5</text>
<line x1="422.4" y1="366.4" x2="428.4" y2="366.4" stroke="#222" stroke-width="1.25"/>
<text transform="translate(422.9,370.6) scale(0.9,1)" class="yt">6</text>
<text transform="translate(715.85,402.45) rotate(90)" class="fl">PLM_W</text>
</g>
<g>
<rect x="428.4" y="447.4" width="281.75" height="80.4" fill="#F0F0F0"/>
<path d="M428.2 447.4H710.15" stroke="#5c5c5c" stroke-width="1.15" fill="none"/>
<path d="M710.15 446.9V527.8" stroke="#4c4c4c" stroke-width="1.15" fill="none"/>
<path d="M428.4 446.9V527.8" stroke="#5a5a5a" stroke-width="1.55" fill="none"/>
<rect x="460.8" y="490.1" width="2.35" height="37.7" fill="#a8a8a8" fill-opacity="0.33"/>
<rect x="453.5" y="515.07" width="7.2" height="12.73" fill="#C41010" stroke="#1e1e1e" stroke-opacity="0.9" stroke-width="0.8"/>
<line x1="453.2" y1="515.07" x2="461" y2="515.07" stroke="#1e1e1e" stroke-width="0.7"/>
<rect x="453.5" y="489.6" width="7.2" height="25.47" fill="#686868" stroke="#1e1e1e" stroke-opacity="0.9" stroke-width="0.8"/>
<line x1="453.2" y1="489.6" x2="461" y2="489.6" stroke="#1e1e1e" stroke-width="0.7"/>
<rect x="470.55" y="490.1" width="2.35" height="37.7" fill="#a8a8a8" fill-opacity="0.33"/>
<rect x="463.25" y="515.07" width="7.2" height="12.73" fill="#C41010" stroke="#1e1e1e" stroke-opacity="0.9" stroke-width="0.8"/>
<line x1="462.95" y1="515.07" x2="470.75" y2="515.07" stroke="#1e1e1e" stroke-width="0.7"/>
<rect x="463.25" y="489.6" width="7.2" height="25.47" fill="#686868" stroke="#1e1e1e" stroke-opacity="0.9" stroke-width="0.8"/>
<line x1="462.95" y1="489.6" x2="470.75" y2="489.6" stroke="#1e1e1e" stroke-width="0.7"/>
<rect x="480.3" y="490.1" width="2.35" height="37.7" fill="#a8a8a8" fill-opacity="0.33"/>
<rect x="473" y="515.07" width="7.2" height="12.73" fill="#C41010" stroke="#1e1e1e" stroke-opacity="0.9" stroke-width="0.8"/>
<line x1="472.7" y1="515.07" x2="480.5" y2="515.07" stroke="#1e1e1e" stroke-width="0.7"/>
<rect x="473" y="489.6" width="7.2" height="25.47" fill="#686868" stroke="#1e1e1e" stroke-opacity="0.9" stroke-width="0.8"/>
<line x1="472.7" y1="489.6" x2="480.5" y2="489.6" stroke="#1e1e1e" stroke-width="0.7"/>
<rect x="490.05" y="490.1" width="2.35" height="37.7" fill="#a8a8a8" fill-opacity="0.33"/>
<rect x="482.75" y="489.6" width="7.2" height="38.2" fill="#686868" stroke="#1e1e1e" stroke-opacity="0.9" stroke-width="0.8"/>
<line x1="482.45" y1="489.6" x2="490.25" y2="489.6" stroke="#1e1e1e" stroke-width="0.7"/>
<rect x="499.8" y="490.1" width="2.35" height="37.7" fill="#a8a8a8" fill-opacity="0.33"/>
<rect x="492.5" y="489.6" width="7.2" height="38.2" fill="#686868" stroke="#1e1e1e" stroke-opacity="0.9" stroke-width="0.8"/>
<line x1="492.2" y1="489.6" x2="500" y2="489.6" stroke="#1e1e1e" stroke-width="0.7"/>
<rect x="509.55" y="490.1" width="2.35" height="37.7" fill="#a8a8a8" fill-opacity="0.33"/>
<rect x="502.25" y="489.6" width="7.2" height="38.2" fill="#686868" stroke="#1e1e1e" stroke-opacity="0.9" stroke-width="0.8"/>
<line x1="501.95" y1="489.6" x2="509.75" y2="489.6" stroke="#1e1e1e" stroke-width="0.7"/>
<rect x="519.3" y="490.1" width="2.35" height="37.7" fill="#a8a8a8" fill-opacity="0.33"/>
<rect x="512" y="489.6" width="7.2" height="38.2" fill="#686868" stroke="#1e1e1e" stroke-opacity="0.9" stroke-width="0.8"/>
<line x1="511.7" y1="489.6" x2="519.5" y2="489.6" stroke="#1e1e1e" stroke-width="0.7"/>
<rect x="529.05" y="490.1" width="2.35" height="37.7" fill="#a8a8a8" fill-opacity="0.33"/>
<rect x="521.75" y="489.6" width="7.2" height="38.2" fill="#686868" stroke="#1e1e1e" stroke-opacity="0.9" stroke-width="0.8"/>
<line x1="521.45" y1="489.6" x2="529.25" y2="489.6" stroke="#1e1e1e" stroke-width="0.7"/>
<rect x="538.8" y="490.1" width="2.35" height="37.7" fill="#a8a8a8" fill-opacity="0.33"/>
<rect x="531.5" y="489.6" width="7.2" height="38.2" fill="#686868" stroke="#1e1e1e" stroke-opacity="0.9" stroke-width="0.8"/>
<line x1="531.2" y1="489.6" x2="539" y2="489.6" stroke="#1e1e1e" stroke-width="0.7"/>
<rect x="548.55" y="490.1" width="2.35" height="37.7" fill="#a8a8a8" fill-opacity="0.33"/>
<rect x="541.25" y="489.6" width="7.2" height="38.2" fill="#686868" stroke="#1e1e1e" stroke-opacity="0.9" stroke-width="0.8"/>
<line x1="540.95" y1="489.6" x2="548.75" y2="489.6" stroke="#1e1e1e" stroke-width="0.7"/>
<rect x="558.3" y="490.1" width="2.35" height="37.7" fill="#a8a8a8" fill-opacity="0.33"/>
<rect x="551" y="489.6" width="7.2" height="38.2" fill="#686868" stroke="#1e1e1e" stroke-opacity="0.9" stroke-width="0.8"/>
<line x1="550.7" y1="489.6" x2="558.5" y2="489.6" stroke="#1e1e1e" stroke-width="0.7"/>
<rect x="568.05" y="490.1" width="2.35" height="37.7" fill="#a8a8a8" fill-opacity="0.33"/>
<rect x="560.75" y="489.6" width="7.2" height="38.2" fill="#686868" stroke="#1e1e1e" stroke-opacity="0.9" stroke-width="0.8"/>
<line x1="560.45" y1="489.6" x2="568.25" y2="489.6" stroke="#1e1e1e" stroke-width="0.7"/>
<rect x="577.8" y="490.1" width="2.35" height="37.7" fill="#a8a8a8" fill-opacity="0.33"/>
<rect x="570.5" y="515.07" width="7.2" height="12.73" fill="#A2A2A2" stroke="#1e1e1e" stroke-opacity="0.9" stroke-width="0.8"/>
<line x1="570.2" y1="515.07" x2="578" y2="515.07" stroke="#1e1e1e" stroke-width="0.7"/>
<rect x="570.5" y="489.6" width="7.2" height="25.47" fill="#686868" stroke="#1e1e1e" stroke-opacity="0.9" stroke-width="0.8"/>
<line x1="570.2" y1="489.6" x2="578" y2="489.6" stroke="#1e1e1e" stroke-width="0.7"/>
<rect x="587.55" y="515.07" width="2.35" height="12.73" fill="#9aa6b6" fill-opacity="0.45"/>
<rect x="587.55" y="490.1" width="2.35" height="24.97" fill="#a8a8a8" fill-opacity="0.33"/>
<rect x="580.25" y="515.07" width="7.2" height="12.73" fill="#FF9900" stroke="#1e1e1e" stroke-opacity="0.9" stroke-width="0.8"/>
<line x1="579.95" y1="515.07" x2="587.75" y2="515.07" stroke="#1e1e1e" stroke-width="0.7"/>
<rect x="580.25" y="489.6" width="7.2" height="25.47" fill="#686868" stroke="#1e1e1e" stroke-opacity="0.9" stroke-width="0.8"/>
<line x1="579.95" y1="489.6" x2="587.75" y2="489.6" stroke="#1e1e1e" stroke-width="0.7"/>
<rect x="597.3" y="515.07" width="2.35" height="12.73" fill="#9aa6b6" fill-opacity="0.45"/>
<rect x="597.3" y="490.1" width="2.35" height="24.97" fill="#a8a8a8" fill-opacity="0.33"/>
<rect x="590" y="515.07" width="7.2" height="12.73" fill="#FF9900" stroke="#1e1e1e" stroke-opacity="0.9" stroke-width="0.8"/>
<line x1="589.7" y1="515.07" x2="597.5" y2="515.07" stroke="#1e1e1e" stroke-width="0.7"/>
<rect x="590" y="502.33" width="7.2" height="12.73" fill="#C41010" stroke="#1e1e1e" stroke-opacity="0.9" stroke-width="0.8"/>
<line x1="589.7" y1="502.33" x2="597.5" y2="502.33" stroke="#1e1e1e" stroke-width="0.7"/>
<rect x="590" y="489.6" width="7.2" height="12.73" fill="#686868" stroke="#1e1e1e" stroke-opacity="0.9" stroke-width="0.8"/>
<line x1="589.7" y1="489.6" x2="597.5" y2="489.6" stroke="#1e1e1e" stroke-width="0.7"/>
<rect x="607.05" y="490.1" width="2.35" height="37.7" fill="#a8a8a8" fill-opacity="0.33"/>
<rect x="599.75" y="515.07" width="7.2" height="12.73" fill="#FF9900" stroke="#1e1e1e" stroke-opacity="0.9" stroke-width="0.8"/>
<line x1="599.45" y1="515.07" x2="607.25" y2="515.07" stroke="#1e1e1e" stroke-width="0.7"/>
<rect x="599.75" y="489.6" width="7.2" height="25.47" fill="#686868" stroke="#1e1e1e" stroke-opacity="0.9" stroke-width="0.8"/>
<line x1="599.45" y1="489.6" x2="607.25" y2="489.6" stroke="#1e1e1e" stroke-width="0.7"/>
<rect x="616.8" y="490.1" width="2.35" height="37.7" fill="#a8a8a8" fill-opacity="0.33"/>
<rect x="609.5" y="515.07" width="7.2" height="12.73" fill="#A2A2A2" stroke="#1e1e1e" stroke-opacity="0.9" stroke-width="0.8"/>
<line x1="609.2" y1="515.07" x2="617" y2="515.07" stroke="#1e1e1e" stroke-width="0.7"/>
<rect x="609.5" y="502.33" width="7.2" height="12.73" fill="#C41010" stroke="#1e1e1e" stroke-opacity="0.9" stroke-width="0.8"/>
<line x1="609.2" y1="502.33" x2="617" y2="502.33" stroke="#1e1e1e" stroke-width="0.7"/>
<rect x="609.5" y="489.6" width="7.2" height="12.73" fill="#686868" stroke="#1e1e1e" stroke-opacity="0.9" stroke-width="0.8"/>
<line x1="609.2" y1="489.6" x2="617" y2="489.6" stroke="#1e1e1e" stroke-width="0.7"/>
<rect x="626.55" y="502.33" width="2.35" height="25.47" fill="#9aa6b6" fill-opacity="0.45"/>
<rect x="626.55" y="490.1" width="2.35" height="12.23" fill="#a8a8a8" fill-opacity="0.33"/>
<rect x="619.25" y="502.33" width="7.2" height="25.47" fill="#FF9900" stroke="#1e1e1e" stroke-opacity="0.9" stroke-width="0.8"/>
<line x1="618.95" y1="502.33" x2="626.75" y2="502.33" stroke="#1e1e1e" stroke-width="0.7"/>
<rect x="619.25" y="489.6" width="7.2" height="12.73" fill="#686868" stroke="#1e1e1e" stroke-opacity="0.9" stroke-width="0.8"/>
<line x1="618.95" y1="489.6" x2="626.75" y2="489.6" stroke="#1e1e1e" stroke-width="0.7"/>
<rect x="636.3" y="502.33" width="2.35" height="25.47" fill="#9aa6b6" fill-opacity="0.45"/>
<rect x="636.3" y="490.1" width="2.35" height="12.23" fill="#a8a8a8" fill-opacity="0.33"/>
<rect x="629" y="502.33" width="7.2" height="25.47" fill="#FF9900" stroke="#1e1e1e" stroke-opacity="0.9" stroke-width="0.8"/>
<line x1="628.7" y1="502.33" x2="636.5" y2="502.33" stroke="#1e1e1e" stroke-width="0.7"/>
<rect x="629" y="489.6" width="7.2" height="12.73" fill="#A2A2A2" stroke="#1e1e1e" stroke-opacity="0.9" stroke-width="0.8"/>
<line x1="628.7" y1="489.6" x2="636.5" y2="489.6" stroke="#1e1e1e" stroke-width="0.7"/>
<rect x="646.05" y="502.33" width="2.35" height="25.47" fill="#9aa6b6" fill-opacity="0.45"/>
<rect x="646.05" y="490.1" width="2.35" height="12.23" fill="#a8a8a8" fill-opacity="0.33"/>
<rect x="638.75" y="502.33" width="7.2" height="25.47" fill="#FF9900" stroke="#1e1e1e" stroke-opacity="0.9" stroke-width="0.8"/>
<line x1="638.45" y1="502.33" x2="646.25" y2="502.33" stroke="#1e1e1e" stroke-width="0.7"/>
<rect x="638.75" y="489.6" width="7.2" height="12.73" fill="#A2A2A2" stroke="#1e1e1e" stroke-opacity="0.9" stroke-width="0.8"/>
<line x1="638.45" y1="489.6" x2="646.25" y2="489.6" stroke="#1e1e1e" stroke-width="0.7"/>
<rect x="655.8" y="489.6" width="2.35" height="38.2" fill="#9aa6b6" fill-opacity="0.45"/>
<rect x="648.5" y="489.6" width="7.2" height="38.2" fill="#FF9900" stroke="#1e1e1e" stroke-opacity="0.9" stroke-width="0.8"/>
<line x1="648.2" y1="489.6" x2="656" y2="489.6" stroke="#1e1e1e" stroke-width="0.7"/>
<rect x="665.55" y="489.6" width="2.35" height="38.2" fill="#9aa6b6" fill-opacity="0.45"/>
<rect x="658.25" y="489.6" width="7.2" height="38.2" fill="#FF9900" stroke="#1e1e1e" stroke-opacity="0.9" stroke-width="0.8"/>
<line x1="657.95" y1="489.6" x2="665.75" y2="489.6" stroke="#1e1e1e" stroke-width="0.7"/>
<rect x="675.3" y="489.6" width="2.35" height="38.2" fill="#9aa6b6" fill-opacity="0.45"/>
<rect x="668" y="489.6" width="7.2" height="38.2" fill="#FF9900" stroke="#1e1e1e" stroke-opacity="0.9" stroke-width="0.8"/>
<line x1="667.7" y1="489.6" x2="675.5" y2="489.6" stroke="#1e1e1e" stroke-width="0.7"/>
<rect x="677.75" y="489.6" width="7.2" height="38.2" fill="#FF9900" stroke="#1e1e1e" stroke-opacity="0.9" stroke-width="0.8"/>
<line x1="677.45" y1="489.6" x2="685.25" y2="489.6" stroke="#1e1e1e" stroke-width="0.7"/>
<line x1="422.4" y1="527.8" x2="710.7" y2="527.8" stroke="#2e2e2e" stroke-width="1.3"/>
<text transform="translate(422.9,532) scale(0.9,1)" class="yt">0</text>
<line x1="422.4" y1="515.07" x2="428.4" y2="515.07" stroke="#222" stroke-width="1.25"/>
<text transform="translate(422.9,519.27) scale(0.9,1)" class="yt">1</text>
<line x1="422.4" y1="502.33" x2="428.4" y2="502.33" stroke="#222" stroke-width="1.25"/>
<text transform="translate(422.9,506.53) scale(0.9,1)" class="yt">2</text>
<line x1="422.4" y1="489.6" x2="428.4" y2="489.6" stroke="#222" stroke-width="1.25"/>
<text transform="translate(422.9,493.8) scale(0.9,1)" class="yt">3</text>
<line x1="422.4" y1="476.87" x2="428.4" y2="476.87" stroke="#222" stroke-width="1.25"/>
<text transform="translate(422.9,481.07) scale(0.9,1)" class="yt">4</text>
<line x1="422.4" y1="464.13" x2="428.4" y2="464.13" stroke="#222" stroke-width="1.25"/>
<text transform="translate(422.9,468.33) scale(0.9,1)" class="yt">5</text>
<line x1="422.4" y1="451.4" x2="428.4" y2="451.4" stroke="#222" stroke-width="1.25"/>
<text transform="translate(422.9,455.6) scale(0.9,1)" class="yt">6</text>
<text transform="translate(715.85,487.6) rotate(90)" class="fl">PLM_X</text>
</g>
<g>
<rect x="428.4" y="532.5" width="281.75" height="80.6" fill="#F0F0F0"/>
<path d="M428.2 532.5H710.15" stroke="#5c5c5c" stroke-width="1.15" fill="none"/>
<path d="M710.15 532V613.1" stroke="#4c4c4c" stroke-width="1.15" fill="none"/>
<path d="M428.4 532V613.1" stroke="#5a5a5a" stroke-width="1.55" fill="none"/>
<rect x="460.8" y="575.3" width="2.35" height="37.8" fill="#a8a8a8" fill-opacity="0.33"/>
<rect x="453.5" y="574.8" width="7.2" height="38.3" fill="#686868" stroke="#1e1e1e" stroke-opacity="0.9" stroke-width="0.8"/>
<line x1="453.2" y1="574.8" x2="461" y2="574.8" stroke="#1e1e1e" stroke-width="0.7"/>
<rect x="470.55" y="575.3" width="2.35" height="37.8" fill="#a8a8a8" fill-opacity="0.33"/>
<rect x="463.25" y="574.8" width="7.2" height="38.3" fill="#686868" stroke="#1e1e1e" stroke-opacity="0.9" stroke-width="0.8"/>
<line x1="462.95" y1="574.8" x2="470.75" y2="574.8" stroke="#1e1e1e" stroke-width="0.7"/>
<rect x="480.3" y="575.3" width="2.35" height="37.8" fill="#a8a8a8" fill-opacity="0.33"/>
<rect x="473" y="574.8" width="7.2" height="38.3" fill="#686868" stroke="#1e1e1e" stroke-opacity="0.9" stroke-width="0.8"/>
<line x1="472.7" y1="574.8" x2="480.5" y2="574.8" stroke="#1e1e1e" stroke-width="0.7"/>
<rect x="490.05" y="575.3" width="2.35" height="37.8" fill="#a8a8a8" fill-opacity="0.33"/>
<rect x="482.75" y="574.8" width="7.2" height="38.3" fill="#686868" stroke="#1e1e1e" stroke-opacity="0.9" stroke-width="0.8"/>
<line x1="482.45" y1="574.8" x2="490.25" y2="574.8" stroke="#1e1e1e" stroke-width="0.7"/>
<rect x="499.8" y="588.07" width="2.35" height="25.03" fill="#a8a8a8" fill-opacity="0.33"/>
<rect x="492.5" y="574.8" width="7.2" height="38.3" fill="#686868" stroke="#1e1e1e" stroke-opacity="0.9" stroke-width="0.8"/>
<line x1="492.2" y1="574.8" x2="500" y2="574.8" stroke="#1e1e1e" stroke-width="0.7"/>
<rect x="509.55" y="588.07" width="2.35" height="25.03" fill="#a8a8a8" fill-opacity="0.33"/>
<rect x="502.25" y="587.57" width="7.2" height="25.53" fill="#686868" stroke="#1e1e1e" stroke-opacity="0.9" stroke-width="0.8"/>
<line x1="501.95" y1="587.57" x2="509.75" y2="587.57" stroke="#1e1e1e" stroke-width="0.7"/>
<rect x="519.3" y="575.3" width="2.35" height="37.8" fill="#a8a8a8" fill-opacity="0.33"/>
<rect x="512" y="574.8" width="7.2" height="38.3" fill="#686868" stroke="#1e1e1e" stroke-opacity="0.9" stroke-width="0.8"/>
<line x1="511.7" y1="574.8" x2="519.5" y2="574.8" stroke="#1e1e1e" stroke-width="0.7"/>
<rect x="529.05" y="575.3" width="2.35" height="37.8" fill="#a8a8a8" fill-opacity="0.33"/>
<rect x="521.75" y="574.8" width="7.2" height="38.3" fill="#686868" stroke="#1e1e1e" stroke-opacity="0.9" stroke-width="0.8"/>
<line x1="521.45" y1="574.8" x2="529.25" y2="574.8" stroke="#1e1e1e" stroke-width="0.7"/>
<rect x="538.8" y="575.3" width="2.35" height="37.8" fill="#a8a8a8" fill-opacity="0.33"/>
<rect x="531.5" y="574.8" width="7.2" height="38.3" fill="#686868" stroke="#1e1e1e" stroke-opacity="0.9" stroke-width="0.8"/>
<line x1="531.2" y1="574.8" x2="539" y2="574.8" stroke="#1e1e1e" stroke-width="0.7"/>
<rect x="548.55" y="575.3" width="2.35" height="37.8" fill="#a8a8a8" fill-opacity="0.33"/>
<rect x="541.25" y="574.8" width="7.2" height="38.3" fill="#686868" stroke="#1e1e1e" stroke-opacity="0.9" stroke-width="0.8"/>
<line x1="540.95" y1="574.8" x2="548.75" y2="574.8" stroke="#1e1e1e" stroke-width="0.7"/>
<rect x="558.3" y="575.3" width="2.35" height="37.8" fill="#a8a8a8" fill-opacity="0.33"/>
<rect x="551" y="574.8" width="7.2" height="38.3" fill="#686868" stroke="#1e1e1e" stroke-opacity="0.9" stroke-width="0.8"/>
<line x1="550.7" y1="574.8" x2="558.5" y2="574.8" stroke="#1e1e1e" stroke-width="0.7"/>
<rect x="568.05" y="575.3" width="2.35" height="37.8" fill="#a8a8a8" fill-opacity="0.33"/>
<rect x="560.75" y="574.8" width="7.2" height="38.3" fill="#686868" stroke="#1e1e1e" stroke-opacity="0.9" stroke-width="0.8"/>
<line x1="560.45" y1="574.8" x2="568.25" y2="574.8" stroke="#1e1e1e" stroke-width="0.7"/>
<rect x="577.8" y="575.3" width="2.35" height="37.8" fill="#a8a8a8" fill-opacity="0.33"/>
<rect x="570.5" y="574.8" width="7.2" height="38.3" fill="#686868" stroke="#1e1e1e" stroke-opacity="0.9" stroke-width="0.8"/>
<line x1="570.2" y1="574.8" x2="578" y2="574.8" stroke="#1e1e1e" stroke-width="0.7"/>
<rect x="587.55" y="575.3" width="2.35" height="37.8" fill="#a8a8a8" fill-opacity="0.33"/>
<rect x="580.25" y="574.8" width="7.2" height="38.3" fill="#686868" stroke="#1e1e1e" stroke-opacity="0.9" stroke-width="0.8"/>
<line x1="579.95" y1="574.8" x2="587.75" y2="574.8" stroke="#1e1e1e" stroke-width="0.7"/>
<rect x="597.3" y="575.3" width="2.35" height="37.8" fill="#a8a8a8" fill-opacity="0.33"/>
<rect x="590" y="600.33" width="7.2" height="12.77" fill="#A2A2A2" stroke="#1e1e1e" stroke-opacity="0.9" stroke-width="0.8"/>
<line x1="589.7" y1="600.33" x2="597.5" y2="600.33" stroke="#1e1e1e" stroke-width="0.7"/>
<rect x="590" y="574.8" width="7.2" height="25.53" fill="#686868" stroke="#1e1e1e" stroke-opacity="0.9" stroke-width="0.8"/>
<line x1="589.7" y1="574.8" x2="597.5" y2="574.8" stroke="#1e1e1e" stroke-width="0.7"/>
<rect x="607.05" y="575.3" width="2.35" height="37.8" fill="#a8a8a8" fill-opacity="0.33"/>
<rect x="599.75" y="600.33" width="7.2" height="12.77" fill="#A2A2A2" stroke="#1e1e1e" stroke-opacity="0.9" stroke-width="0.8"/>
<line x1="599.45" y1="600.33" x2="607.25" y2="600.33" stroke="#1e1e1e" stroke-width="0.7"/>
<rect x="599.75" y="574.8" width="7.2" height="25.53" fill="#686868" stroke="#1e1e1e" stroke-opacity="0.9" stroke-width="0.8"/>
<line x1="599.45" y1="574.8" x2="607.25" y2="574.8" stroke="#1e1e1e" stroke-width="0.7"/>
<rect x="616.8" y="575.3" width="2.35" height="37.8" fill="#a8a8a8" fill-opacity="0.33"/>
<rect x="609.5" y="600.33" width="7.2" height="12.77" fill="#A2A2A2" stroke="#1e1e1e" stroke-opacity="0.9" stroke-width="0.8"/>
<line x1="609.2" y1="600.33" x2="617" y2="600.33" stroke="#1e1e1e" stroke-width="0.7"/>
<rect x="609.5" y="574.8" width="7.2" height="25.53" fill="#686868" stroke="#1e1e1e" stroke-opacity="0.9" stroke-width="0.8"/>
<line x1="609.2" y1="574.8" x2="617" y2="574.8" stroke="#1e1e1e" stroke-width="0.7"/>
<rect x="626.55" y="575.3" width="2.35" height="37.8" fill="#a8a8a8" fill-opacity="0.33"/>
<rect x="619.25" y="600.33" width="7.2" height="12.77" fill="#C41010" stroke="#1e1e1e" stroke-opacity="0.9" stroke-width="0.8"/>
<line x1="618.95" y1="600.33" x2="626.75" y2="600.33" stroke="#1e1e1e" stroke-width="0.7"/>
<rect x="619.25" y="574.8" width="7.2" height="25.53" fill="#686868" stroke="#1e1e1e" stroke-opacity="0.9" stroke-width="0.8"/>
<line x1="618.95" y1="574.8" x2="626.75" y2="574.8" stroke="#1e1e1e" stroke-width="0.7"/>
<rect x="636.3" y="575.3" width="2.35" height="37.8" fill="#a8a8a8" fill-opacity="0.33"/>
<rect x="629" y="600.33" width="7.2" height="12.77" fill="#A2A2A2" stroke="#1e1e1e" stroke-opacity="0.9" stroke-width="0.8"/>
<line x1="628.7" y1="600.33" x2="636.5" y2="600.33" stroke="#1e1e1e" stroke-width="0.7"/>
<rect x="629" y="574.8" width="7.2" height="25.53" fill="#686868" stroke="#1e1e1e" stroke-opacity="0.9" stroke-width="0.8"/>
<line x1="628.7" y1="574.8" x2="636.5" y2="574.8" stroke="#1e1e1e" stroke-width="0.7"/>
<rect x="646.05" y="575.3" width="2.35" height="37.8" fill="#a8a8a8" fill-opacity="0.33"/>
<rect x="638.75" y="587.57" width="7.2" height="25.53" fill="#C41010" stroke="#1e1e1e" stroke-opacity="0.9" stroke-width="0.8"/>
<line x1="638.45" y1="587.57" x2="646.25" y2="587.57" stroke="#1e1e1e" stroke-width="0.7"/>
<rect x="638.75" y="574.8" width="7.2" height="12.77" fill="#686868" stroke="#1e1e1e" stroke-opacity="0.9" stroke-width="0.8"/>
<line x1="638.45" y1="574.8" x2="646.25" y2="574.8" stroke="#1e1e1e" stroke-width="0.7"/>
<rect x="655.8" y="575.3" width="2.35" height="37.8" fill="#a8a8a8" fill-opacity="0.33"/>
<rect x="648.5" y="587.57" width="7.2" height="25.53" fill="#C41010" stroke="#1e1e1e" stroke-opacity="0.9" stroke-width="0.8"/>
<line x1="648.2" y1="587.57" x2="656" y2="587.57" stroke="#1e1e1e" stroke-width="0.7"/>
<rect x="648.5" y="574.8" width="7.2" height="12.77" fill="#686868" stroke="#1e1e1e" stroke-opacity="0.9" stroke-width="0.8"/>
<line x1="648.2" y1="574.8" x2="656" y2="574.8" stroke="#1e1e1e" stroke-width="0.7"/>
<rect x="665.55" y="575.3" width="2.35" height="37.8" fill="#a8a8a8" fill-opacity="0.33"/>
<rect x="658.25" y="587.57" width="7.2" height="25.53" fill="#C41010" stroke="#1e1e1e" stroke-opacity="0.9" stroke-width="0.8"/>
<line x1="657.95" y1="587.57" x2="665.75" y2="587.57" stroke="#1e1e1e" stroke-width="0.7"/>
<rect x="658.25" y="574.8" width="7.2" height="12.77" fill="#686868" stroke="#1e1e1e" stroke-opacity="0.9" stroke-width="0.8"/>
<line x1="657.95" y1="574.8" x2="665.75" y2="574.8" stroke="#1e1e1e" stroke-width="0.7"/>
<rect x="668" y="587.57" width="7.2" height="25.53" fill="#C41010" stroke="#1e1e1e" stroke-opacity="0.9" stroke-width="0.8"/>
<line x1="667.7" y1="587.57" x2="675.5" y2="587.57" stroke="#1e1e1e" stroke-width="0.7"/>
<rect x="668" y="574.8" width="7.2" height="12.77" fill="#686868" stroke="#1e1e1e" stroke-opacity="0.9" stroke-width="0.8"/>
<line x1="667.7" y1="574.8" x2="675.5" y2="574.8" stroke="#1e1e1e" stroke-width="0.7"/>
<line x1="422.4" y1="613.1" x2="710.7" y2="613.1" stroke="#2e2e2e" stroke-width="1.3"/>
<text transform="translate(422.9,617.3) scale(0.9,1)" class="yt">0</text>
<line x1="422.4" y1="600.33" x2="428.4" y2="600.33" stroke="#222" stroke-width="1.25"/>
<text transform="translate(422.9,604.53) scale(0.9,1)" class="yt">1</text>
<line x1="422.4" y1="587.57" x2="428.4" y2="587.57" stroke="#222" stroke-width="1.25"/>
<text transform="translate(422.9,591.77) scale(0.9,1)" class="yt">2</text>
<line x1="422.4" y1="574.8" x2="428.4" y2="574.8" stroke="#222" stroke-width="1.25"/>
<text transform="translate(422.9,579) scale(0.9,1)" class="yt">3</text>
<line x1="422.4" y1="562.03" x2="428.4" y2="562.03" stroke="#222" stroke-width="1.25"/>
<text transform="translate(422.9,566.23) scale(0.9,1)" class="yt">4</text>
<line x1="422.4" y1="549.27" x2="428.4" y2="549.27" stroke="#222" stroke-width="1.25"/>
<text transform="translate(422.9,553.47) scale(0.9,1)" class="yt">5</text>
<line x1="422.4" y1="536.5" x2="428.4" y2="536.5" stroke="#222" stroke-width="1.25"/>
<text transform="translate(422.9,540.7) scale(0.9,1)" class="yt">6</text>
<text transform="translate(715.85,572.8) rotate(90)" class="fl">PLM_Y</text>
</g>
<g>
<rect x="428.4" y="618.3" width="281.75" height="80.85" fill="#F0F0F0"/>
<path d="M428.2 618.3H710.15" stroke="#5c5c5c" stroke-width="1.15" fill="none"/>
<path d="M710.15 617.8V699.15" stroke="#4c4c4c" stroke-width="1.15" fill="none"/>
<path d="M428.4 617.8V699.15" stroke="#5a5a5a" stroke-width="1.55" fill="none"/>
<rect x="460.8" y="661.67" width="2.35" height="37.48" fill="#a8a8a8" fill-opacity="0.33"/>
<rect x="453.5" y="686.49" width="7.2" height="12.66" fill="#C41010" stroke="#1e1e1e" stroke-opacity="0.9" stroke-width="0.8"/>
<line x1="453.2" y1="686.49" x2="461" y2="686.49" stroke="#1e1e1e" stroke-width="0.7"/>
<rect x="453.5" y="661.17" width="7.2" height="25.32" fill="#686868" stroke="#1e1e1e" stroke-opacity="0.9" stroke-width="0.8"/>
<line x1="453.2" y1="661.17" x2="461" y2="661.17" stroke="#1e1e1e" stroke-width="0.7"/>
<rect x="470.55" y="661.67" width="2.35" height="37.48" fill="#a8a8a8" fill-opacity="0.33"/>
<rect x="463.25" y="661.17" width="7.2" height="37.98" fill="#686868" stroke="#1e1e1e" stroke-opacity="0.9" stroke-width="0.8"/>
<line x1="462.95" y1="661.17" x2="470.75" y2="661.17" stroke="#1e1e1e" stroke-width="0.7"/>
<rect x="480.3" y="661.67" width="2.35" height="37.48" fill="#a8a8a8" fill-opacity="0.33"/>
<rect x="473" y="686.49" width="7.2" height="12.66" fill="#C41010" stroke="#1e1e1e" stroke-opacity="0.9" stroke-width="0.8"/>
<line x1="472.7" y1="686.49" x2="480.5" y2="686.49" stroke="#1e1e1e" stroke-width="0.7"/>
<rect x="473" y="661.17" width="7.2" height="25.32" fill="#686868" stroke="#1e1e1e" stroke-opacity="0.9" stroke-width="0.8"/>
<line x1="472.7" y1="661.17" x2="480.5" y2="661.17" stroke="#1e1e1e" stroke-width="0.7"/>
<rect x="490.05" y="661.67" width="2.35" height="37.48" fill="#a8a8a8" fill-opacity="0.33"/>
<rect x="482.75" y="661.17" width="7.2" height="37.98" fill="#686868" stroke="#1e1e1e" stroke-opacity="0.9" stroke-width="0.8"/>
<line x1="482.45" y1="661.17" x2="490.25" y2="661.17" stroke="#1e1e1e" stroke-width="0.7"/>
<rect x="499.8" y="661.67" width="2.35" height="37.48" fill="#a8a8a8" fill-opacity="0.33"/>
<rect x="492.5" y="661.17" width="7.2" height="37.98" fill="#686868" stroke="#1e1e1e" stroke-opacity="0.9" stroke-width="0.8"/>
<line x1="492.2" y1="661.17" x2="500" y2="661.17" stroke="#1e1e1e" stroke-width="0.7"/>
<rect x="509.55" y="661.67" width="2.35" height="37.48" fill="#a8a8a8" fill-opacity="0.33"/>
<rect x="502.25" y="661.17" width="7.2" height="37.98" fill="#686868" stroke="#1e1e1e" stroke-opacity="0.9" stroke-width="0.8"/>
<line x1="501.95" y1="661.17" x2="509.75" y2="661.17" stroke="#1e1e1e" stroke-width="0.7"/>
<rect x="519.3" y="661.67" width="2.35" height="37.48" fill="#a8a8a8" fill-opacity="0.33"/>
<rect x="512" y="661.17" width="7.2" height="37.98" fill="#686868" stroke="#1e1e1e" stroke-opacity="0.9" stroke-width="0.8"/>
<line x1="511.7" y1="661.17" x2="519.5" y2="661.17" stroke="#1e1e1e" stroke-width="0.7"/>
<rect x="529.05" y="661.67" width="2.35" height="37.48" fill="#a8a8a8" fill-opacity="0.33"/>
<rect x="521.75" y="686.49" width="7.2" height="12.66" fill="#C41010" stroke="#1e1e1e" stroke-opacity="0.9" stroke-width="0.8"/>
<line x1="521.45" y1="686.49" x2="529.25" y2="686.49" stroke="#1e1e1e" stroke-width="0.7"/>
<rect x="521.75" y="661.17" width="7.2" height="25.32" fill="#686868" stroke="#1e1e1e" stroke-opacity="0.9" stroke-width="0.8"/>
<line x1="521.45" y1="661.17" x2="529.25" y2="661.17" stroke="#1e1e1e" stroke-width="0.7"/>
<rect x="538.8" y="661.67" width="2.35" height="37.48" fill="#a8a8a8" fill-opacity="0.33"/>
<rect x="531.5" y="661.17" width="7.2" height="37.98" fill="#686868" stroke="#1e1e1e" stroke-opacity="0.9" stroke-width="0.8"/>
<line x1="531.2" y1="661.17" x2="539" y2="661.17" stroke="#1e1e1e" stroke-width="0.7"/>
<rect x="548.55" y="661.67" width="2.35" height="37.48" fill="#a8a8a8" fill-opacity="0.33"/>
<rect x="541.25" y="661.17" width="7.2" height="37.98" fill="#686868" stroke="#1e1e1e" stroke-opacity="0.9" stroke-width="0.8"/>
<line x1="540.95" y1="661.17" x2="548.75" y2="661.17" stroke="#1e1e1e" stroke-width="0.7"/>
<rect x="558.3" y="661.67" width="2.35" height="37.48" fill="#a8a8a8" fill-opacity="0.33"/>
<rect x="551" y="661.17" width="7.2" height="37.98" fill="#686868" stroke="#1e1e1e" stroke-opacity="0.9" stroke-width="0.8"/>
<line x1="550.7" y1="661.17" x2="558.5" y2="661.17" stroke="#1e1e1e" stroke-width="0.7"/>
<rect x="568.05" y="661.67" width="2.35" height="37.48" fill="#a8a8a8" fill-opacity="0.33"/>
<rect x="560.75" y="661.17" width="7.2" height="37.98" fill="#686868" stroke="#1e1e1e" stroke-opacity="0.9" stroke-width="0.8"/>
<line x1="560.45" y1="661.17" x2="568.25" y2="661.17" stroke="#1e1e1e" stroke-width="0.7"/>
<rect x="577.8" y="661.67" width="2.35" height="37.48" fill="#a8a8a8" fill-opacity="0.33"/>
<rect x="570.5" y="661.17" width="7.2" height="37.98" fill="#686868" stroke="#1e1e1e" stroke-opacity="0.9" stroke-width="0.8"/>
<line x1="570.2" y1="661.17" x2="578" y2="661.17" stroke="#1e1e1e" stroke-width="0.7"/>
<rect x="587.55" y="661.67" width="2.35" height="37.48" fill="#a8a8a8" fill-opacity="0.33"/>
<rect x="580.25" y="661.17" width="7.2" height="37.98" fill="#686868" stroke="#1e1e1e" stroke-opacity="0.9" stroke-width="0.8"/>
<line x1="579.95" y1="661.17" x2="587.75" y2="661.17" stroke="#1e1e1e" stroke-width="0.7"/>
<rect x="597.3" y="661.67" width="2.35" height="37.48" fill="#a8a8a8" fill-opacity="0.33"/>
<rect x="590" y="686.49" width="7.2" height="12.66" fill="#C41010" stroke="#1e1e1e" stroke-opacity="0.9" stroke-width="0.8"/>
<line x1="589.7" y1="686.49" x2="597.5" y2="686.49" stroke="#1e1e1e" stroke-width="0.7"/>
<rect x="590" y="661.17" width="7.2" height="25.32" fill="#686868" stroke="#1e1e1e" stroke-opacity="0.9" stroke-width="0.8"/>
<line x1="589.7" y1="661.17" x2="597.5" y2="661.17" stroke="#1e1e1e" stroke-width="0.7"/>
<rect x="607.05" y="661.67" width="2.35" height="37.48" fill="#a8a8a8" fill-opacity="0.33"/>
<rect x="599.75" y="686.49" width="7.2" height="12.66" fill="#C41010" stroke="#1e1e1e" stroke-opacity="0.9" stroke-width="0.8"/>
<line x1="599.45" y1="686.49" x2="607.25" y2="686.49" stroke="#1e1e1e" stroke-width="0.7"/>
<rect x="599.75" y="661.17" width="7.2" height="25.32" fill="#686868" stroke="#1e1e1e" stroke-opacity="0.9" stroke-width="0.8"/>
<line x1="599.45" y1="661.17" x2="607.25" y2="661.17" stroke="#1e1e1e" stroke-width="0.7"/>
<rect x="616.8" y="661.67" width="2.35" height="37.48" fill="#a8a8a8" fill-opacity="0.33"/>
<rect x="609.5" y="661.17" width="7.2" height="37.98" fill="#686868" stroke="#1e1e1e" stroke-opacity="0.9" stroke-width="0.8"/>
<line x1="609.2" y1="661.17" x2="617" y2="661.17" stroke="#1e1e1e" stroke-width="0.7"/>
<rect x="626.55" y="661.67" width="2.35" height="37.48" fill="#a8a8a8" fill-opacity="0.33"/>
<rect x="619.25" y="673.83" width="7.2" height="25.32" fill="#C41010" stroke="#1e1e1e" stroke-opacity="0.9" stroke-width="0.8"/>
<line x1="618.95" y1="673.83" x2="626.75" y2="673.83" stroke="#1e1e1e" stroke-width="0.7"/>
<rect x="619.25" y="661.17" width="7.2" height="12.66" fill="#686868" stroke="#1e1e1e" stroke-opacity="0.9" stroke-width="0.8"/>
<line x1="618.95" y1="661.17" x2="626.75" y2="661.17" stroke="#1e1e1e" stroke-width="0.7"/>
<rect x="636.3" y="661.67" width="2.35" height="37.48" fill="#a8a8a8" fill-opacity="0.33"/>
<rect x="629" y="686.49" width="7.2" height="12.66" fill="#A2A2A2" stroke="#1e1e1e" stroke-opacity="0.9" stroke-width="0.8"/>
<line x1="628.7" y1="686.49" x2="636.5" y2="686.49" stroke="#1e1e1e" stroke-width="0.7"/>
<rect x="629" y="661.17" width="7.2" height="25.32" fill="#C41010" stroke="#1e1e1e" stroke-opacity="0.9" stroke-width="0.8"/>
<line x1="628.7" y1="661.17" x2="636.5" y2="661.17" stroke="#1e1e1e" stroke-width="0.7"/>
<rect x="646.05" y="661.67" width="2.35" height="37.48" fill="#a8a8a8" fill-opacity="0.33"/>
<rect x="638.75" y="673.83" width="7.2" height="25.32" fill="#A2A2A2" stroke="#1e1e1e" stroke-opacity="0.9" stroke-width="0.8"/>
<line x1="638.45" y1="673.83" x2="646.25" y2="673.83" stroke="#1e1e1e" stroke-width="0.7"/>
<rect x="638.75" y="661.17" width="7.2" height="12.66" fill="#C41010" stroke="#1e1e1e" stroke-opacity="0.9" stroke-width="0.8"/>
<line x1="638.45" y1="661.17" x2="646.25" y2="661.17" stroke="#1e1e1e" stroke-width="0.7"/>
<rect x="655.8" y="673.83" width="2.35" height="25.32" fill="#9aa6b6" fill-opacity="0.45"/>
<rect x="655.8" y="661.67" width="2.35" height="12.16" fill="#a8a8a8" fill-opacity="0.33"/>
<rect x="648.5" y="673.83" width="7.2" height="25.32" fill="#FF9900" stroke="#1e1e1e" stroke-opacity="0.9" stroke-width="0.8"/>
<line x1="648.2" y1="673.83" x2="656" y2="673.83" stroke="#1e1e1e" stroke-width="0.7"/>
<rect x="648.5" y="661.17" width="7.2" height="12.66" fill="#C41010" stroke="#1e1e1e" stroke-opacity="0.9" stroke-width="0.8"/>
<line x1="648.2" y1="661.17" x2="656" y2="661.17" stroke="#1e1e1e" stroke-width="0.7"/>
<rect x="665.55" y="673.83" width="2.35" height="25.32" fill="#9aa6b6" fill-opacity="0.45"/>
<rect x="665.55" y="661.67" width="2.35" height="12.16" fill="#a8a8a8" fill-opacity="0.33"/>
<rect x="658.25" y="673.83" width="7.2" height="25.32" fill="#FF9900" stroke="#1e1e1e" stroke-opacity="0.9" stroke-width="0.8"/>
<line x1="657.95" y1="673.83" x2="665.75" y2="673.83" stroke="#1e1e1e" stroke-width="0.7"/>
<rect x="658.25" y="661.17" width="7.2" height="12.66" fill="#C41010" stroke="#1e1e1e" stroke-opacity="0.9" stroke-width="0.8"/>
<line x1="657.95" y1="661.17" x2="665.75" y2="661.17" stroke="#1e1e1e" stroke-width="0.7"/>
<rect x="675.3" y="686.49" width="2.35" height="12.66" fill="#9aa6b6" fill-opacity="0.45"/>
<rect x="675.3" y="674.33" width="2.35" height="12.16" fill="#a8a8a8" fill-opacity="0.33"/>
<rect x="668" y="673.83" width="7.2" height="25.32" fill="#FF9900" stroke="#1e1e1e" stroke-opacity="0.9" stroke-width="0.8"/>
<line x1="667.7" y1="673.83" x2="675.5" y2="673.83" stroke="#1e1e1e" stroke-width="0.7"/>
<rect x="668" y="661.17" width="7.2" height="12.66" fill="#686868" stroke="#1e1e1e" stroke-opacity="0.9" stroke-width="0.8"/>
<line x1="667.7" y1="661.17" x2="675.5" y2="661.17" stroke="#1e1e1e" stroke-width="0.7"/>
<rect x="677.75" y="686.49" width="7.2" height="12.66" fill="#FF9900" stroke="#1e1e1e" stroke-opacity="0.9" stroke-width="0.8"/>
<line x1="677.45" y1="686.49" x2="685.25" y2="686.49" stroke="#1e1e1e" stroke-width="0.7"/>
<rect x="677.75" y="673.83" width="7.2" height="12.66" fill="#686868" stroke="#1e1e1e" stroke-opacity="0.9" stroke-width="0.8"/>
<line x1="677.45" y1="673.83" x2="685.25" y2="673.83" stroke="#1e1e1e" stroke-width="0.7"/>
<line x1="422.4" y1="699.15" x2="710.7" y2="699.15" stroke="#2e2e2e" stroke-width="1.3"/>
<text transform="translate(422.9,703.35) scale(0.9,1)" class="yt">0</text>
<line x1="422.4" y1="686.49" x2="428.4" y2="686.49" stroke="#222" stroke-width="1.25"/>
<text transform="translate(422.9,690.69) scale(0.9,1)" class="yt">1</text>
<line x1="422.4" y1="673.83" x2="428.4" y2="673.83" stroke="#222" stroke-width="1.25"/>
<text transform="translate(422.9,678.03) scale(0.9,1)" class="yt">2</text>
<line x1="422.4" y1="661.17" x2="428.4" y2="661.17" stroke="#222" stroke-width="1.25"/>
<text transform="translate(422.9,665.38) scale(0.9,1)" class="yt">3</text>
<line x1="422.4" y1="648.52" x2="428.4" y2="648.52" stroke="#222" stroke-width="1.25"/>
<text transform="translate(422.9,652.72) scale(0.9,1)" class="yt">4</text>
<line x1="422.4" y1="635.86" x2="428.4" y2="635.86" stroke="#222" stroke-width="1.25"/>
<text transform="translate(422.9,640.06) scale(0.9,1)" class="yt">5</text>
<line x1="422.4" y1="623.2" x2="428.4" y2="623.2" stroke="#222" stroke-width="1.25"/>
<text transform="translate(422.9,627.4) scale(0.9,1)" class="yt">6</text>
<text transform="translate(715.85,658.72) rotate(90)" class="fl">PLM_Z</text>
</g>
<line x1="447.2" y1="699.15" x2="447.2" y2="704.65" stroke="#222" stroke-width="1.25"/>
<text transform="translate(443.6,704.95) rotate(90)" class="xt" style="letter-spacing:-0.25px">-5.00</text>
<line x1="466.7" y1="699.15" x2="466.7" y2="704.65" stroke="#222" stroke-width="1.25"/>
<text transform="translate(463.1,704.95) rotate(90)" class="xt" style="letter-spacing:-0.25px">-3.00</text>
<line x1="486.2" y1="699.15" x2="486.2" y2="704.65" stroke="#222" stroke-width="1.25"/>
<text transform="translate(482.6,704.95) rotate(90)" class="xt" style="letter-spacing:-0.25px">-1.00</text>
<line x1="505.7" y1="699.15" x2="505.7" y2="704.65" stroke="#222" stroke-width="1.25"/>
<text transform="translate(502.1,704.95) rotate(90)" class="xt">.08</text>
<line x1="525.2" y1="699.15" x2="525.2" y2="704.65" stroke="#222" stroke-width="1.25"/>
<text transform="translate(521.6,704.95) rotate(90)" class="xt">1.00</text>
<line x1="544.7" y1="699.15" x2="544.7" y2="704.65" stroke="#222" stroke-width="1.25"/>
<text transform="translate(541.1,704.95) rotate(90)" class="xt">3.00</text>
<line x1="564.2" y1="699.15" x2="564.2" y2="704.65" stroke="#222" stroke-width="1.25"/>
<text transform="translate(560.6,704.95) rotate(90)" class="xt">5.00</text>
<line x1="583.7" y1="699.15" x2="583.7" y2="704.65" stroke="#222" stroke-width="1.25"/>
<text transform="translate(580.1,704.95) rotate(90)" class="xt">7.00</text>
<line x1="603.2" y1="699.15" x2="603.2" y2="704.65" stroke="#222" stroke-width="1.25"/>
<text transform="translate(599.6,704.95) rotate(90)" class="xt">9.00</text>
<line x1="622.7" y1="699.15" x2="622.7" y2="704.65" stroke="#222" stroke-width="1.25"/>
<text transform="translate(619.1,704.95) rotate(90)" class="xt">11.00</text>
<line x1="642.2" y1="699.15" x2="642.2" y2="704.65" stroke="#222" stroke-width="1.25"/>
<text transform="translate(638.6,704.95) rotate(90)" class="xt">13.00</text>
<line x1="661.7" y1="699.15" x2="661.7" y2="704.65" stroke="#222" stroke-width="1.25"/>
<text transform="translate(658.1,704.95) rotate(90)" class="xt">15.00</text>
<line x1="681.2" y1="699.15" x2="681.2" y2="704.65" stroke="#222" stroke-width="1.25"/>
<text transform="translate(677.6,704.95) rotate(90)" class="xt">17.00</text>
<text transform="translate(408.8,360) rotate(-90)" class="fl">Count</text>
<text x="547.5" y="741.9" class="xl">Days p.i.</text>
</svg>
</body></html>
